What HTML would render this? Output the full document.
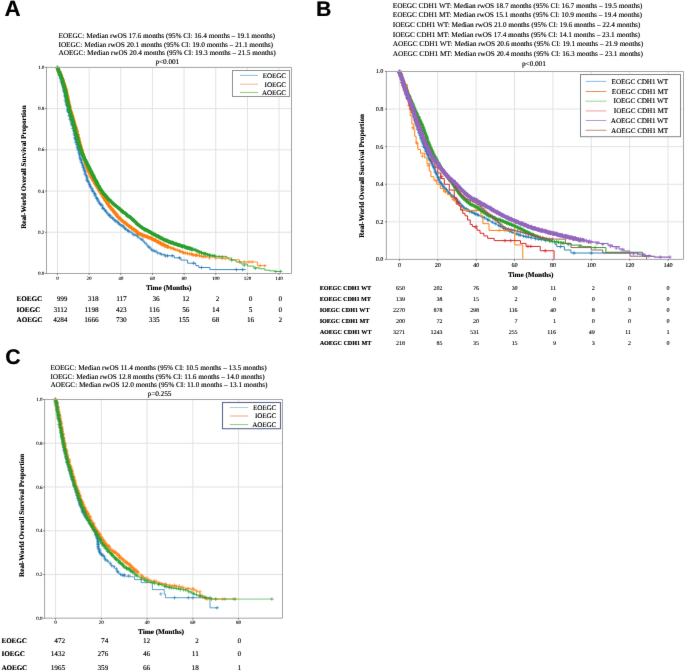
<!DOCTYPE html>
<html><head><meta charset="utf-8"><title>KM curves</title>
<style>html,body{margin:0;padding:0;background:#fff;} body{width:685px;height:671px;overflow:hidden;position:relative;font-family:"Liberation Serif",serif;} svg{text-rendering:geometricPrecision;}</style>
</head><body>
<svg width="685" height="671" viewBox="0 0 685 671" style="position:absolute;left:0;top:0">
<defs><filter id="soft" filterUnits="userSpaceOnUse" x="0" y="0" width="685" height="671" color-interpolation-filters="sRGB"><feConvolveMatrix order="3" kernelMatrix="0.0036 0.0528 0.0036 0.0528 0.7744 0.0528 0.0036 0.0528 0.0036" divisor="1" edgeMode="duplicate" preserveAlpha="true"/></filter></defs>
<g filter="url(#soft)">
<rect width="685" height="671" fill="#fff"/>
<text x="4.50" y="15.70" font-size="22.2" text-anchor="start" font-weight="bold" fill="#000" font-family='"Liberation Sans", sans-serif' >A</text>
<text x="4.70" y="15.70" font-size="22.2" text-anchor="start" font-weight="bold" fill="#000" opacity="0.55" font-family='"Liberation Sans", sans-serif' >A</text>
<text x="316.00" y="15.70" font-size="21.2" text-anchor="start" font-weight="bold" fill="#000" font-family='"Liberation Sans", sans-serif' >B</text>
<text x="316.20" y="15.70" font-size="21.2" text-anchor="start" font-weight="bold" fill="#000" opacity="0.55" font-family='"Liberation Sans", sans-serif' >B</text>
<text x="5.30" y="363.60" font-size="21.2" text-anchor="start" font-weight="bold" fill="#000" font-family='"Liberation Sans", sans-serif' >C</text>
<text x="5.50" y="363.60" font-size="21.2" text-anchor="start" font-weight="bold" fill="#000" opacity="0.55" font-family='"Liberation Sans", sans-serif' >C</text>
<line x1="57.45" y1="67.40" x2="57.45" y2="273.50" stroke="#e2e2e2" stroke-width="1"/>
<line x1="89.11" y1="67.40" x2="89.11" y2="273.50" stroke="#e2e2e2" stroke-width="1"/>
<line x1="120.77" y1="67.40" x2="120.77" y2="273.50" stroke="#e2e2e2" stroke-width="1"/>
<line x1="152.43" y1="67.40" x2="152.43" y2="273.50" stroke="#e2e2e2" stroke-width="1"/>
<line x1="184.09" y1="67.40" x2="184.09" y2="273.50" stroke="#e2e2e2" stroke-width="1"/>
<line x1="215.75" y1="67.40" x2="215.75" y2="273.50" stroke="#e2e2e2" stroke-width="1"/>
<line x1="247.41" y1="67.40" x2="247.41" y2="273.50" stroke="#e2e2e2" stroke-width="1"/>
<line x1="279.07" y1="67.40" x2="279.07" y2="273.50" stroke="#e2e2e2" stroke-width="1"/>
<line x1="46.50" y1="232.28" x2="291.50" y2="232.28" stroke="#e2e2e2" stroke-width="1"/>
<line x1="46.50" y1="191.06" x2="291.50" y2="191.06" stroke="#e2e2e2" stroke-width="1"/>
<line x1="46.50" y1="149.84" x2="291.50" y2="149.84" stroke="#e2e2e2" stroke-width="1"/>
<line x1="46.50" y1="108.62" x2="291.50" y2="108.62" stroke="#e2e2e2" stroke-width="1"/>
<text x="58.50" y="38.10" font-size="7.2" text-anchor="start" fill="#000" font-family='"Liberation Serif", serif' >EOEGC: Median rwOS 17.6 months (95% CI: 16.4 months – 19.1 months)</text>
<text x="58.70" y="38.10" font-size="7.2" text-anchor="start" fill="#000" opacity="0.55" font-family='"Liberation Serif", serif' >EOEGC: Median rwOS 17.6 months (95% CI: 16.4 months – 19.1 months)</text>
<text x="58.50" y="46.60" font-size="7.2" text-anchor="start" fill="#000" font-family='"Liberation Serif", serif' >IOEGC: Median rwOS 20.1 months (95% CI: 19.0 months – 21.1 months)</text>
<text x="58.70" y="46.60" font-size="7.2" text-anchor="start" fill="#000" opacity="0.55" font-family='"Liberation Serif", serif' >IOEGC: Median rwOS 20.1 months (95% CI: 19.0 months – 21.1 months)</text>
<text x="58.50" y="55.10" font-size="7.2" text-anchor="start" fill="#000" font-family='"Liberation Serif", serif' >AOEGC: Median rwOS 20.4 months (95% CI: 19.3 months – 21.5 months)</text>
<text x="58.70" y="55.10" font-size="7.2" text-anchor="start" fill="#000" opacity="0.55" font-family='"Liberation Serif", serif' >AOEGC: Median rwOS 20.4 months (95% CI: 19.3 months – 21.5 months)</text>
<text x="167.30" y="63.50" font-size="7.2" text-anchor="middle" fill="#000" font-family='"Liberation Serif", serif' >p&lt;0.001</text>
<text x="167.50" y="63.50" font-size="7.2" text-anchor="middle" fill="#000" opacity="0.55" font-family='"Liberation Serif", serif' >p&lt;0.001</text>
<path d="M57.5,67.4L57.9,68.9L58.3,70.3L58.8,71.7L59.2,73.1L59.6,74.5L60.1,75.9L60.5,77.3L60.9,78.8L61.4,80.3L61.8,81.9L62.2,83.5L62.7,85.1L63.1,86.8L63.5,88.7L63.9,90.6L64.4,92.6L64.8,94.7L65.2,96.8L65.6,98.9L66.1,101.0L66.5,103.0L66.9,105.0L67.3,106.9L67.7,108.6L68.2,110.3L68.6,111.9L69.0,113.4L69.4,114.9L69.9,116.4L70.3,117.8L70.7,119.2L71.1,120.7L71.5,122.1L72.0,123.6L72.4,125.2L72.8,126.8L73.3,128.6L73.7,130.5L74.2,132.4L74.7,134.4L75.1,136.3L75.6,138.4L76.0,140.4L76.5,142.3L77.0,144.3L77.4,146.2L77.9,148.1L78.3,149.8L78.8,151.7L79.3,153.6L79.8,155.4L80.4,157.2L80.9,158.9L81.4,160.7L81.9,162.4L82.4,164.1L82.9,165.7L83.4,167.3L83.9,168.9L84.4,170.4L84.8,171.7L85.2,172.9L85.5,174.1L85.9,175.2L86.3,176.4L86.7,177.5L87.1,178.6L87.5,179.7L87.9,180.8L88.3,181.8L88.7,182.7L89.1,183.6L89.4,184.4L89.8,185.0L90.1,185.7L90.4,186.3L90.8,186.9L91.1,187.5L91.4,188.1L91.7,188.7L92.1,189.3L92.4,189.9L92.7,190.5L93.1,191.1L93.5,191.9L94.0,192.8L94.5,193.7L94.9,194.6L95.4,195.5L95.8,196.4L96.3,197.3L96.8,198.2L97.2,199.0L97.7,199.8L98.1,200.6L98.6,201.4L99.4,202.6L100.2,203.8L101.0,205.0L101.8,206.2L102.6,207.3L103.4,208.4L104.1,209.4L104.9,210.5L105.7,211.4L106.5,212.4L107.3,213.3L108.1,214.1L109.2,215.2L110.2,216.2L111.3,217.2L112.3,218.2L113.4,219.0L114.4,219.9L115.5,220.8L116.5,221.6L117.6,222.4L118.7,223.2L119.7,224.0L120.8,224.9L121.6,225.5L122.4,226.2L123.3,226.8L124.1,227.4L124.9,228.1L125.8,228.7L126.6,229.3L127.4,229.9L128.2,230.5L129.1,231.1L129.9,231.7L130.7,232.3L131.5,232.8L132.3,233.3L133.1,233.8L133.9,234.2L134.6,234.7L135.4,235.2L136.2,235.6L137.0,236.1L137.7,236.6L138.5,237.1L139.3,237.7L140.1,238.3L140.6,238.7L141.1,239.1L141.6,239.5L142.1,240.0L142.6,240.5L143.1,241.0L143.6,241.5L144.1,242.0L144.6,242.5L145.1,243.0L145.6,243.5L146.1,244.0L146.6,244.6L147.2,245.1L147.7,245.7L148.2,246.3L148.7,246.8L149.3,247.4L149.8,248.0L150.3,248.5L150.8,249.0L151.4,249.5L151.9,249.9L152.4,250.2L153.0,250.5L153.5,250.8L154.0,251.0L154.5,251.3L155.1,251.5L155.6,251.7L156.1,251.9L156.7,252.1L157.2,252.3L157.7,252.5L158.2,252.7L158.8,252.9L159.4,253.1L160.0,253.4L160.6,253.6L161.2,253.9L161.8,254.1L162.4,254.3L163.0,254.6L163.6,254.8L164.2,255.1L164.8,255.3L165.4,255.5L166.0,255.8" stroke="#1f77b4" stroke-width="0.9" fill="none" opacity="0.75"/>
<path d="M55.7,67.5h3.4M57.4,65.8v3.4M56.6,68.5h3.4M58.3,66.8v3.4M56.5,69.8h3.4M58.2,68.1v3.4M56.4,70.9h3.4M58.1,69.2v3.4M57.3,72.3h3.4M59.0,70.6v3.4M57.0,72.9h3.4M58.7,71.2v3.4M57.4,74.7h3.4M59.1,73.0v3.4M58.4,74.9h3.4M60.1,73.2v3.4M59.1,77.1h3.4M60.8,75.4v3.4M59.1,77.9h3.4M60.8,76.2v3.4M58.8,78.3h3.4M60.5,76.6v3.4M59.6,79.5h3.4M61.3,77.8v3.4M59.5,80.9h3.4M61.2,79.2v3.4M59.7,82.3h3.4M61.4,80.6v3.4M60.5,83.9h3.4M62.2,82.2v3.4M60.9,84.8h3.4M62.6,83.1v3.4M61.1,86.0h3.4M62.8,84.3v3.4M61.4,86.7h3.4M63.1,85.0v3.4M62.3,88.8h3.4M64.0,87.1v3.4M62.4,89.6h3.4M64.1,87.9v3.4M62.0,90.2h3.4M63.7,88.5v3.4M62.2,91.2h3.4M63.9,89.5v3.4M63.0,92.7h3.4M64.7,91.0v3.4M63.4,93.9h3.4M65.1,92.2v3.4M63.7,95.6h3.4M65.4,93.9v3.4M62.8,96.0h3.4M64.5,94.3v3.4M64.2,97.5h3.4M65.9,95.8v3.4M64.5,98.6h3.4M66.2,96.9v3.4M63.6,100.1h3.4M65.3,98.4v3.4M64.7,100.8h3.4M66.4,99.1v3.4M64.1,102.1h3.4M65.8,100.4v3.4M65.4,103.7h3.4M67.1,102.0v3.4M64.7,104.3h3.4M66.4,102.6v3.4M64.9,105.3h3.4M66.6,103.6v3.4M66.0,106.6h3.4M67.7,104.9v3.4M66.0,108.1h3.4M67.7,106.4v3.4M65.8,109.6h3.4M67.5,107.9v3.4M66.1,110.6h3.4M67.8,108.9v3.4M66.4,111.5h3.4M68.1,109.8v3.4M66.8,112.5h3.4M68.5,110.8v3.4M68.0,114.3h3.4M69.7,112.6v3.4M67.5,115.5h3.4M69.2,113.8v3.4M67.8,116.1h3.4M69.5,114.4v3.4M68.9,117.5h3.4M70.6,115.8v3.4M68.3,119.1h3.4M70.0,117.4v3.4M68.8,119.4h3.4M70.5,117.7v3.4M69.8,120.6h3.4M71.5,118.9v3.4M69.5,121.5h3.4M71.2,119.8v3.4M69.6,123.2h3.4M71.3,121.5v3.4M70.1,124.4h3.4M71.8,122.7v3.4M70.6,125.4h3.4M72.3,123.7v3.4M71.6,126.6h3.4M73.3,124.9v3.4M71.5,128.2h3.4M73.2,126.5v3.4M71.3,128.5h3.4M73.0,126.8v3.4M72.4,130.5h3.4M74.1,128.8v3.4M71.9,130.9h3.4M73.6,129.2v3.4M72.8,133.0h3.4M74.5,131.3v3.4M72.4,134.1h3.4M74.1,132.4v3.4M73.5,134.9h3.4M75.2,133.2v3.4M73.2,135.5h3.4M74.9,133.8v3.4M73.0,137.7h3.4M74.7,136.0v3.4M73.5,138.5h3.4M75.2,136.8v3.4M73.8,139.8h3.4M75.5,138.1v3.4M74.5,140.4h3.4M76.2,138.7v3.4M74.3,142.1h3.4M76.0,140.4v3.4M74.4,142.6h3.4M76.1,140.9v3.4M75.3,144.5h3.4M77.0,142.8v3.4M75.6,145.0h3.4M77.3,143.3v3.4M76.3,146.1h3.4M78.0,144.4v3.4M75.5,147.3h3.4M77.2,145.6v3.4M76.3,148.3h3.4M78.0,146.6v3.4M76.3,149.8h3.4M78.0,148.1v3.4M77.1,150.7h3.4M78.8,149.0v3.4M77.1,152.7h3.4M78.8,151.0v3.4M78.2,153.6h3.4M79.9,151.9v3.4M78.2,154.7h3.4M79.9,153.0v3.4M77.8,155.2h3.4M79.5,153.5v3.4M78.0,157.4h3.4M79.7,155.7v3.4M79.1,158.6h3.4M80.8,156.9v3.4M78.7,159.4h3.4M80.4,157.7v3.4M79.5,160.6h3.4M81.2,158.9v3.4M79.7,162.1h3.4M81.4,160.4v3.4M79.7,162.7h3.4M81.4,161.0v3.4M80.9,164.3h3.4M82.6,162.6v3.4M81.2,165.2h3.4M82.9,163.5v3.4M81.6,166.6h3.4M83.3,164.9v3.4M81.5,167.5h3.4M83.2,165.8v3.4M82.5,168.8h3.4M84.2,167.1v3.4M82.3,169.9h3.4M84.0,168.2v3.4M83.2,170.8h3.4M84.9,169.1v3.4M83.3,171.7h3.4M85.0,170.0v3.4M83.6,173.1h3.4M85.3,171.4v3.4M83.4,174.3h3.4M85.1,172.6v3.4M84.8,175.7h3.4M86.5,174.0v3.4M84.9,176.2h3.4M86.6,174.5v3.4M85.3,177.6h3.4M87.0,175.9v3.4M85.4,179.0h3.4M87.1,177.3v3.4M85.3,180.1h3.4M87.0,178.4v3.4M85.7,181.0h3.4M87.4,179.3v3.4M86.7,181.7h3.4M88.4,180.0v3.4M87.4,183.1h3.4M89.1,181.4v3.4M87.8,184.7h3.4M89.5,183.0v3.4M87.9,184.7h3.4M89.6,183.0v3.4M88.5,186.6h3.4M90.2,184.9v3.4M89.0,187.0h3.4M90.7,185.3v3.4M90.4,188.6h3.4M92.1,186.9v3.4M90.4,190.0h3.4M92.1,188.3v3.4M90.9,190.7h3.4M92.6,189.0v3.4M91.3,191.5h3.4M93.0,189.8v3.4M92.6,193.2h3.4M94.3,191.5v3.4M93.2,193.6h3.4M94.9,191.9v3.4M93.4,194.6h3.4M95.1,192.9v3.4M93.4,195.9h3.4M95.1,194.2v3.4M94.8,197.3h3.4M96.5,195.6v3.4M95.2,198.5h3.4M96.9,196.8v3.4M95.3,198.6h3.4M97.0,196.9v3.4M96.1,199.8h3.4M97.8,198.1v3.4M96.4,201.0h3.4M98.1,199.3v3.4M97.5,202.1h3.4M99.2,200.4v3.4M97.8,203.5h3.4M99.5,201.8v3.4M99.3,204.1h3.4M101.0,202.4v3.4M98.9,204.6h3.4M100.6,202.9v3.4M100.5,205.6h3.4M102.2,203.9v3.4M101.0,207.2h3.4M102.7,205.5v3.4M101.2,208.4h3.4M102.9,206.7v3.4M101.6,208.6h3.4M103.3,206.9v3.4M102.8,209.4h3.4M104.5,207.7v3.4M104.0,210.6h3.4M105.7,208.9v3.4M103.9,211.3h3.4M105.6,209.6v3.4M105.3,212.7h3.4M107.0,211.0v3.4M106.1,213.9h3.4M107.8,212.2v3.4M107.2,215.1h3.4M108.9,213.4v3.4M107.9,215.0h3.4M109.6,213.3v3.4M108.5,215.8h3.4M110.2,214.1v3.4M108.8,217.0h3.4M110.5,215.3v3.4M110.5,217.5h3.4M112.2,215.8v3.4M110.9,218.4h3.4M112.6,216.7v3.4M112.3,219.4h3.4M114.0,217.7v3.4M113.2,220.5h3.4M114.9,218.8v3.4M113.8,221.2h3.4M115.5,219.5v3.4M115.4,221.1h3.4M117.1,219.4v3.4M116.4,222.6h3.4M118.1,220.9v3.4M116.4,223.0h3.4M118.1,221.3v3.4M117.9,224.3h3.4M119.6,222.6v3.4M118.6,224.7h3.4M120.3,223.0v3.4M120.1,225.7h3.4M121.8,224.0v3.4M121.1,226.0h3.4M122.8,224.3v3.4M121.7,226.4h3.4M123.4,224.7v3.4M122.8,227.9h3.4M124.5,226.2v3.4M123.6,228.5h3.4M125.3,226.8v3.4M124.1,229.4h3.4M125.8,227.7v3.4M126.0,230.3h3.4M127.7,228.6v3.4M126.4,230.7h3.4M128.1,229.0v3.4M127.1,231.6h3.4M128.8,229.9v3.4M129.4,232.1h3.4M131.1,230.4v3.4M131.2,234.0h3.4M132.9,232.3v3.4M132.3,235.0h3.4M134.0,233.3v3.4M134.2,234.8h3.4M135.9,233.1v3.4M135.6,235.7h3.4M137.3,234.0v3.4M136.4,237.1h3.4M138.1,235.4v3.4M138.7,238.9h3.4M140.4,237.2v3.4M140.5,239.2h3.4M142.2,237.5v3.4M141.1,240.4h3.4M142.8,238.7v3.4M142.9,242.4h3.4M144.6,240.7v3.4M144.7,244.1h3.4M146.4,242.4v3.4M146.3,246.1h3.4M148.0,244.4v3.4M147.3,247.2h3.4M149.0,245.5v3.4M148.3,247.8h3.4M150.0,246.1v3.4M149.8,249.7h3.4M151.5,248.0v3.4M151.2,250.2h3.4M152.9,248.5v3.4M152.6,251.1h3.4M154.3,249.4v3.4M154.3,251.2h3.4M156.0,249.5v3.4M155.9,253.0h3.4M157.6,251.3v3.4M158.4,253.5h3.4M160.1,251.8v3.4M159.7,254.4h3.4M161.4,252.7v3.4M162.4,254.8h3.4M164.1,253.1v3.4M163.8,256.0h3.4M165.5,254.3v3.4" stroke="#1f77b4" stroke-width="0.75" fill="none" opacity="0.75"/>
<path d="M166.04,255.78 H174.28 V257.84 H180.92 V260.10 H187.57 V263.19 H195.80 V265.67 H198.81 V267.52 H209.89 V269.58 H245.83 V269.58" stroke="#1f77b4" stroke-width="1.0" fill="none" opacity="0.85"/>
<path d="M165.67,255.78h3.60M167.47,253.98v3.60M170.42,255.78h3.60M172.22,253.98v3.60M177.54,257.84h3.60M179.34,256.04v3.60M191.79,263.19h3.60M193.59,261.39v3.60M199.70,267.52h3.60M201.50,265.72v3.60M234.53,269.58h3.60M236.33,267.78v3.60M240.86,269.58h3.60M242.66,267.78v3.60" stroke="#1f77b4" stroke-width="0.8" fill="none" opacity="0.85"/>
<path d="M57.5,67.4L58.0,68.8L58.6,70.2L59.2,71.6L59.8,72.9L60.4,74.3L61.0,75.6L61.6,77.0L62.2,78.5L62.8,80.0L63.4,81.6L64.0,83.3L64.6,85.1L65.0,86.7L65.5,88.4L65.9,90.3L66.4,92.3L66.8,94.3L67.3,96.5L67.7,98.6L68.2,100.8L68.6,102.9L69.1,104.9L69.5,106.8L70.0,108.6L70.4,110.3L70.9,111.9L71.3,113.4L71.7,114.9L72.2,116.4L72.6,117.9L73.1,119.3L73.5,120.7L74.0,122.2L74.4,123.7L74.9,125.2L75.3,126.8L75.9,128.6L76.4,130.5L76.9,132.5L77.4,134.5L77.9,136.5L78.4,138.5L78.9,140.5L79.5,142.4L80.0,144.4L80.5,146.3L81.0,148.1L81.5,149.8L82.1,151.9L82.8,154.0L83.4,156.1L84.0,158.1L84.7,160.1L85.3,162.1L85.9,164.0L86.6,165.8L87.2,167.6L87.8,169.3L88.5,170.8L89.1,172.3L90.0,174.2L90.9,176.1L91.8,177.8L92.7,179.4L93.6,181.0L94.5,182.5L95.4,183.9L96.3,185.3L97.2,186.8L98.1,188.2L99.0,189.6L99.9,191.1L100.6,192.2L101.2,193.3L101.9,194.5L102.6,195.6L103.3,196.7L104.0,197.8L104.7,198.9L105.4,200.0L106.0,201.0L106.7,202.1L107.4,203.1L108.1,204.0L109.2,205.5L110.2,206.9L111.3,208.4L112.3,209.8L113.4,211.1L114.4,212.5L115.5,213.8L116.5,215.0L117.6,216.2L118.7,217.4L119.7,218.5L120.8,219.5L121.9,220.5L123.0,221.5L124.1,222.4L125.2,223.2L126.3,224.1L127.4,224.9L128.5,225.6L129.6,226.4L130.7,227.2L131.9,228.0L133.0,228.8L134.1,229.6L134.6,230.0L135.1,230.4L135.6,230.8L136.1,231.2L136.6,231.6L137.1,232.0L137.6,232.4L138.1,232.8L138.6,233.2L139.1,233.5L139.6,233.9L140.1,234.1L141.1,234.7L142.1,235.1L143.2,235.5L144.2,235.9L145.2,236.3L146.3,236.6L147.3,237.0L148.3,237.3L149.3,237.7L150.4,238.0L151.4,238.4L152.4,238.9L153.6,239.4L154.7,240.0L155.8,240.6L157.0,241.2L158.1,241.9L159.2,242.5L160.4,243.2L161.5,243.8L162.6,244.4L163.8,245.0L164.9,245.6L166.0,246.1L166.9,246.4L167.7,246.8L168.6,247.1L169.4,247.4L170.3,247.7L171.1,248.0L172.0,248.3L172.8,248.6L173.6,248.9L174.5,249.2L175.3,249.5L176.2,249.8L176.8,250.1L177.5,250.3L178.2,250.6L178.8,250.9L179.5,251.2L180.1,251.5L180.8,251.7L181.5,252.0L182.1,252.3L182.8,252.5L183.4,252.7L184.1,252.9L185.0,253.1L185.9,253.3L186.9,253.5L187.8,253.7L188.7,253.9L189.6,254.0L190.6,254.2L191.5,254.3L192.4,254.5L193.3,254.6L194.2,254.8L195.2,255.0L196.0,255.1L196.9,255.3L197.7,255.5L198.5,255.6L199.4,255.8L200.2,256.0L201.1,256.1L201.9,256.3L202.8,256.5L203.6,256.7L204.5,256.8L205.3,257.0" stroke="#ff7f0e" stroke-width="1.0" fill="none" opacity="0.95"/>
<path d="M55.6,67.5h3.6M57.4,65.7v3.6M56.0,67.5h3.6M57.8,65.7v3.6M55.6,68.1h3.6M57.4,66.3v3.6M56.0,68.9h3.6M57.8,67.1v3.6M56.5,69.1h3.6M58.3,67.3v3.6M56.6,69.6h3.6M58.4,67.8v3.6M56.4,69.8h3.6M58.2,68.0v3.6M56.6,70.6h3.6M58.4,68.8v3.6M56.7,71.0h3.6M58.5,69.2v3.6M56.9,71.3h3.6M58.7,69.5v3.6M57.3,71.5h3.6M59.1,69.7v3.6M57.9,71.6h3.6M59.7,69.8v3.6M57.4,72.7h3.6M59.2,70.9v3.6M58.0,72.4h3.6M59.8,70.6v3.6M58.5,73.5h3.6M60.3,71.7v3.6M58.0,73.5h3.6M59.8,71.7v3.6M58.2,73.9h3.6M60.0,72.1v3.6M58.8,74.2h3.6M60.6,72.4v3.6M59.0,74.5h3.6M60.8,72.7v3.6M58.8,75.5h3.6M60.6,73.7v3.6M59.1,75.6h3.6M60.9,73.8v3.6M59.5,76.1h3.6M61.3,74.3v3.6M59.5,76.1h3.6M61.3,74.3v3.6M59.9,77.3h3.6M61.7,75.5v3.6M60.3,77.4h3.6M62.1,75.6v3.6M60.0,77.6h3.6M61.8,75.8v3.6M60.4,78.3h3.6M62.2,76.5v3.6M60.1,78.4h3.6M61.9,76.6v3.6M60.5,79.0h3.6M62.3,77.2v3.6M61.0,79.4h3.6M62.8,77.6v3.6M60.6,80.1h3.6M62.4,78.3v3.6M61.0,80.3h3.6M62.8,78.5v3.6M61.0,80.6h3.6M62.8,78.8v3.6M61.3,81.3h3.6M63.1,79.5v3.6M61.2,81.5h3.6M63.0,79.7v3.6M61.5,82.1h3.6M63.3,80.3v3.6M61.5,82.2h3.6M63.3,80.4v3.6M61.9,82.9h3.6M63.7,81.1v3.6M61.8,83.2h3.6M63.6,81.4v3.6M62.1,83.5h3.6M63.9,81.7v3.6M62.4,84.4h3.6M64.2,82.6v3.6M62.6,84.9h3.6M64.4,83.1v3.6M62.4,85.3h3.6M64.2,83.5v3.6M62.7,85.1h3.6M64.5,83.3v3.6M63.2,86.1h3.6M65.0,84.3v3.6M62.7,86.0h3.6M64.5,84.2v3.6M63.4,86.5h3.6M65.2,84.7v3.6M63.1,86.7h3.6M64.9,84.9v3.6M63.1,87.6h3.6M64.9,85.8v3.6M63.9,88.4h3.6M65.7,86.6v3.6M63.7,88.0h3.6M65.5,86.2v3.6M63.6,89.1h3.6M65.4,87.3v3.6M64.1,89.4h3.6M65.9,87.6v3.6M63.8,89.7h3.6M65.6,87.9v3.6M64.1,90.2h3.6M65.9,88.4v3.6M64.0,90.9h3.6M65.8,89.1v3.6M64.6,90.7h3.6M66.4,88.9v3.6M64.2,91.8h3.6M66.0,90.0v3.6M64.3,92.3h3.6M66.1,90.5v3.6M64.6,92.5h3.6M66.4,90.7v3.6M64.8,92.5h3.6M66.6,90.7v3.6M64.6,93.0h3.6M66.4,91.2v3.6M65.0,93.8h3.6M66.8,92.0v3.6M64.7,94.4h3.6M66.5,92.6v3.6M65.0,94.3h3.6M66.8,92.5v3.6M65.1,95.4h3.6M66.9,93.6v3.6M65.3,95.5h3.6M67.1,93.7v3.6M65.7,96.2h3.6M67.5,94.4v3.6M65.6,96.2h3.6M67.4,94.4v3.6M65.6,97.1h3.6M67.4,95.3v3.6M65.8,97.2h3.6M67.6,95.4v3.6M65.6,97.5h3.6M67.4,95.7v3.6M66.0,98.1h3.6M67.8,96.3v3.6M65.5,98.7h3.6M67.3,96.9v3.6M66.3,99.2h3.6M68.1,97.4v3.6M66.4,99.7h3.6M68.2,97.9v3.6M66.2,100.1h3.6M68.0,98.3v3.6M66.2,99.9h3.6M68.0,98.1v3.6M66.2,100.6h3.6M68.0,98.8v3.6M66.8,101.3h3.6M68.6,99.5v3.6M66.6,101.7h3.6M68.4,99.9v3.6M66.3,102.0h3.6M68.1,100.2v3.6M66.9,102.4h3.6M68.7,100.6v3.6M66.6,102.8h3.6M68.4,101.0v3.6M66.8,103.5h3.6M68.6,101.7v3.6M66.7,103.5h3.6M68.5,101.7v3.6M67.0,104.4h3.6M68.8,102.6v3.6M67.4,104.8h3.6M69.2,103.0v3.6M67.7,105.0h3.6M69.5,103.2v3.6M67.0,105.5h3.6M68.8,103.7v3.6M67.5,105.7h3.6M69.3,103.9v3.6M67.7,106.3h3.6M69.5,104.5v3.6M67.5,106.7h3.6M69.3,104.9v3.6M68.2,106.9h3.6M70.0,105.1v3.6M67.8,107.5h3.6M69.6,105.7v3.6M67.8,108.1h3.6M69.6,106.3v3.6M67.9,108.9h3.6M69.7,107.1v3.6M68.3,109.2h3.6M70.1,107.4v3.6M68.1,109.4h3.6M69.9,107.6v3.6M68.6,110.2h3.6M70.4,108.4v3.6M68.4,110.3h3.6M70.2,108.5v3.6M69.0,111.0h3.6M70.8,109.2v3.6M68.6,111.2h3.6M70.4,109.4v3.6M69.2,111.6h3.6M71.0,109.8v3.6M69.2,112.2h3.6M71.0,110.4v3.6M69.6,112.5h3.6M71.4,110.7v3.6M69.5,112.8h3.6M71.3,111.0v3.6M69.7,113.2h3.6M71.5,111.4v3.6M69.6,113.7h3.6M71.4,111.9v3.6M69.6,113.9h3.6M71.4,112.1v3.6M69.6,114.7h3.6M71.4,112.9v3.6M69.8,114.7h3.6M71.6,112.9v3.6M70.4,115.3h3.6M72.2,113.5v3.6M70.6,116.0h3.6M72.4,114.2v3.6M70.3,116.7h3.6M72.1,114.9v3.6M70.8,116.7h3.6M72.6,114.9v3.6M70.4,117.4h3.6M72.2,115.6v3.6M71.1,117.8h3.6M72.9,116.0v3.6M71.1,118.0h3.6M72.9,116.2v3.6M71.1,118.3h3.6M72.9,116.5v3.6M71.1,118.9h3.6M72.9,117.1v3.6M71.2,119.3h3.6M73.0,117.5v3.6M71.7,119.6h3.6M73.5,117.8v3.6M71.4,120.1h3.6M73.2,118.3v3.6M72.1,120.7h3.6M73.9,118.9v3.6M71.5,121.4h3.6M73.3,119.6v3.6M72.3,121.8h3.6M74.1,120.0v3.6M72.0,122.2h3.6M73.8,120.4v3.6M72.1,122.1h3.6M73.9,120.3v3.6M72.7,123.1h3.6M74.5,121.3v3.6M72.3,123.6h3.6M74.1,121.8v3.6M72.3,123.5h3.6M74.1,121.7v3.6M72.4,123.9h3.6M74.2,122.1v3.6M72.6,124.7h3.6M74.4,122.9v3.6M72.9,124.7h3.6M74.7,122.9v3.6M72.9,125.3h3.6M74.7,123.5v3.6M73.6,125.9h3.6M75.4,124.1v3.6M73.1,126.4h3.6M74.9,124.6v3.6M73.6,126.7h3.6M75.4,124.9v3.6M73.7,127.3h3.6M75.5,125.5v3.6M74.0,127.6h3.6M75.8,125.8v3.6M74.0,128.0h3.6M75.8,126.2v3.6M74.1,128.4h3.6M75.9,126.6v3.6M74.1,128.9h3.6M75.9,127.1v3.6M74.4,129.1h3.6M76.2,127.3v3.6M74.7,129.7h3.6M76.5,127.9v3.6M74.8,130.3h3.6M76.6,128.5v3.6M75.0,130.8h3.6M76.8,129.0v3.6M74.6,131.0h3.6M76.4,129.2v3.6M74.9,131.7h3.6M76.7,129.9v3.6M75.2,131.6h3.6M77.0,129.8v3.6M74.7,132.0h3.6M76.5,130.2v3.6M74.8,132.4h3.6M76.6,130.6v3.6M74.9,133.0h3.6M76.7,131.2v3.6M75.1,133.8h3.6M76.9,132.0v3.6M75.6,134.5h3.6M77.4,132.7v3.6M76.0,134.7h3.6M77.8,132.9v3.6M76.1,134.6h3.6M77.9,132.8v3.6M75.6,135.8h3.6M77.4,134.0v3.6M75.9,135.6h3.6M77.7,133.8v3.6M76.3,136.2h3.6M78.1,134.4v3.6M76.2,136.6h3.6M78.0,134.8v3.6M76.1,136.8h3.6M77.9,135.0v3.6M76.5,138.0h3.6M78.3,136.2v3.6M76.9,138.2h3.6M78.7,136.4v3.6M77.0,138.4h3.6M78.8,136.6v3.6M76.6,139.2h3.6M78.4,137.4v3.6M76.9,139.5h3.6M78.7,137.7v3.6M76.6,139.6h3.6M78.4,137.8v3.6M77.1,140.4h3.6M78.9,138.6v3.6M77.4,140.8h3.6M79.2,139.0v3.6M77.2,141.0h3.6M79.0,139.2v3.6M77.7,141.9h3.6M79.5,140.1v3.6M77.5,141.7h3.6M79.3,139.9v3.6M77.7,142.4h3.6M79.5,140.6v3.6M77.6,142.6h3.6M79.4,140.8v3.6M77.8,143.3h3.6M79.6,141.5v3.6M77.7,143.7h3.6M79.5,141.9v3.6M78.5,144.3h3.6M80.3,142.5v3.6M78.0,144.5h3.6M79.8,142.7v3.6M78.0,145.2h3.6M79.8,143.4v3.6M78.6,145.2h3.6M80.4,143.4v3.6M78.6,145.9h3.6M80.4,144.1v3.6M78.8,146.2h3.6M80.6,144.4v3.6M78.7,146.6h3.6M80.5,144.8v3.6M79.3,147.0h3.6M81.1,145.2v3.6M79.1,147.6h3.6M80.9,145.8v3.6M78.9,147.9h3.6M80.7,146.1v3.6M79.1,148.3h3.6M80.9,146.5v3.6M79.3,148.8h3.6M81.1,147.0v3.6M79.9,149.2h3.6M81.7,147.4v3.6M79.6,149.9h3.6M81.4,148.1v3.6M79.7,150.2h3.6M81.5,148.4v3.6M80.1,150.3h3.6M81.9,148.5v3.6M80.2,150.7h3.6M82.0,148.9v3.6M80.0,151.7h3.6M81.8,149.9v3.6M80.7,152.0h3.6M82.5,150.2v3.6M80.2,152.3h3.6M82.0,150.5v3.6M80.4,153.0h3.6M82.2,151.2v3.6M80.5,153.0h3.6M82.3,151.2v3.6M81.0,153.7h3.6M82.8,151.9v3.6M81.1,154.0h3.6M82.9,152.2v3.6M81.5,154.5h3.6M83.3,152.7v3.6M81.6,154.8h3.6M83.4,153.0v3.6M81.4,155.2h3.6M83.2,153.4v3.6M81.7,156.0h3.6M83.5,154.2v3.6M81.4,156.2h3.6M83.2,154.4v3.6M82.0,156.6h3.6M83.8,154.8v3.6M82.0,157.2h3.6M83.8,155.4v3.6M82.2,157.4h3.6M84.0,155.6v3.6M82.0,157.6h3.6M83.8,155.8v3.6M82.6,158.6h3.6M84.4,156.8v3.6M82.4,159.2h3.6M84.2,157.4v3.6M82.9,158.9h3.6M84.7,157.1v3.6M83.0,159.6h3.6M84.8,157.8v3.6M82.7,159.9h3.6M84.5,158.1v3.6M82.9,160.1h3.6M84.7,158.3v3.6M82.8,160.6h3.6M84.6,158.8v3.6M83.1,161.1h3.6M84.9,159.3v3.6M83.1,162.1h3.6M84.9,160.3v3.6M83.5,162.2h3.6M85.3,160.4v3.6M83.8,163.0h3.6M85.6,161.2v3.6M83.5,162.9h3.6M85.3,161.1v3.6M84.3,163.8h3.6M86.1,162.0v3.6M84.5,163.9h3.6M86.3,162.1v3.6M84.2,164.1h3.6M86.0,162.3v3.6M84.7,165.0h3.6M86.5,163.2v3.6M84.6,165.4h3.6M86.4,163.6v3.6M84.5,165.7h3.6M86.3,163.9v3.6M85.2,165.7h3.6M87.0,163.9v3.6M85.1,166.2h3.6M86.9,164.4v3.6M85.4,167.2h3.6M87.2,165.4v3.6M85.4,167.3h3.6M87.2,165.5v3.6M85.1,167.7h3.6M86.9,165.9v3.6M85.5,168.1h3.6M87.3,166.3v3.6M85.4,168.9h3.6M87.2,167.1v3.6M86.0,169.1h3.6M87.8,167.3v3.6M86.4,169.7h3.6M88.2,167.9v3.6M86.3,169.9h3.6M88.1,168.1v3.6M86.7,170.2h3.6M88.5,168.4v3.6M86.9,170.3h3.6M88.7,168.5v3.6M87.0,171.1h3.6M88.8,169.3v3.6M87.1,171.9h3.6M88.9,170.1v3.6M86.9,171.8h3.6M88.7,170.0v3.6M87.6,172.5h3.6M89.4,170.7v3.6M87.5,173.0h3.6M89.3,171.2v3.6M87.8,173.4h3.6M89.6,171.6v3.6M88.0,173.4h3.6M89.8,171.6v3.6M87.9,173.6h3.6M89.7,171.8v3.6M88.0,174.0h3.6M89.8,172.2v3.6M88.9,174.5h3.6M90.7,172.7v3.6M88.8,174.9h3.6M90.6,173.1v3.6M89.2,175.6h3.6M91.0,173.8v3.6M88.8,176.2h3.6M90.6,174.4v3.6M89.6,176.8h3.6M91.4,175.0v3.6M89.3,176.7h3.6M91.1,174.9v3.6M89.8,177.0h3.6M91.6,175.2v3.6M90.0,177.7h3.6M91.8,175.9v3.6M90.3,178.2h3.6M92.1,176.4v3.6M90.5,178.2h3.6M92.3,176.4v3.6M90.8,178.7h3.6M92.6,176.9v3.6M90.5,178.8h3.6M92.3,177.0v3.6M91.1,179.4h3.6M92.9,177.6v3.6M90.9,179.9h3.6M92.7,178.1v3.6M91.4,180.2h3.6M93.2,178.4v3.6M91.7,180.8h3.6M93.5,179.0v3.6M91.9,181.5h3.6M93.7,179.7v3.6M92.4,181.3h3.6M94.2,179.5v3.6M92.6,181.7h3.6M94.4,179.9v3.6M92.9,181.9h3.6M94.7,180.1v3.6M92.7,183.0h3.6M94.5,181.2v3.6M93.2,183.2h3.6M95.0,181.4v3.6M93.1,183.1h3.6M94.9,181.3v3.6M93.9,183.5h3.6M95.7,181.7v3.6M93.5,184.1h3.6M95.3,182.3v3.6M94.3,184.7h3.6M96.1,182.9v3.6M94.6,185.2h3.6M96.4,183.4v3.6M94.4,185.7h3.6M96.2,183.9v3.6M94.6,185.3h3.6M96.4,183.5v3.6M95.3,186.4h3.6M97.1,184.6v3.6M95.3,186.5h3.6M97.1,184.7v3.6M95.2,186.6h3.6M97.0,184.8v3.6M95.3,186.9h3.6M97.1,185.1v3.6M95.9,187.9h3.6M97.7,186.1v3.6M96.5,188.0h3.6M98.3,186.2v3.6M96.5,188.3h3.6M98.3,186.5v3.6M96.9,188.9h3.6M98.7,187.1v3.6M97.3,189.4h3.6M99.1,187.6v3.6M97.3,189.6h3.6M99.1,187.8v3.6M97.1,189.9h3.6M98.9,188.1v3.6M97.6,190.0h3.6M99.4,188.2v3.6M97.6,190.6h3.6M99.4,188.8v3.6M97.8,191.1h3.6M99.6,189.3v3.6M98.2,191.8h3.6M100.0,190.0v3.6M98.7,191.8h3.6M100.5,190.0v3.6M98.7,192.1h3.6M100.5,190.3v3.6M98.8,193.0h3.6M100.6,191.2v3.6M99.6,193.1h3.6M101.4,191.3v3.6M99.6,193.1h3.6M101.4,191.3v3.6M99.7,193.5h3.6M101.5,191.7v3.6M99.8,194.2h3.6M101.6,192.4v3.6M99.9,194.3h3.6M101.7,192.5v3.6M100.6,194.9h3.6M102.4,193.1v3.6M100.9,195.0h3.6M102.7,193.2v3.6M100.5,196.0h3.6M102.3,194.2v3.6M101.2,196.2h3.6M103.0,194.4v3.6M101.4,196.2h3.6M103.2,194.4v3.6M102.0,196.8h3.6M103.8,195.0v3.6M102.1,196.9h3.6M103.9,195.1v3.6M101.9,197.6h3.6M103.7,195.8v3.6M102.1,198.3h3.6M103.9,196.5v3.6M102.3,198.0h3.6M104.1,196.2v3.6M102.5,198.5h3.6M104.3,196.7v3.6M103.4,199.4h3.6M105.2,197.6v3.6M103.4,199.4h3.6M105.2,197.6v3.6M103.1,200.1h3.6M104.9,198.3v3.6M103.4,200.0h3.6M105.2,198.2v3.6M103.9,200.9h3.6M105.7,199.1v3.6M104.0,200.6h3.6M105.8,198.8v3.6M104.8,201.0h3.6M106.6,199.2v3.6M104.9,201.5h3.6M106.7,199.7v3.6M104.8,201.9h3.6M106.6,200.1v3.6M105.2,202.8h3.6M107.0,201.0v3.6M105.7,202.9h3.6M107.5,201.1v3.6M105.4,203.0h3.6M107.2,201.2v3.6M105.8,203.8h3.6M107.6,202.0v3.6M106.6,203.6h3.6M108.4,201.8v3.6M106.4,204.7h3.6M108.2,202.9v3.6M106.5,204.4h3.6M108.3,202.6v3.6M106.9,205.4h3.6M108.7,203.6v3.6M107.1,205.6h3.6M108.9,203.8v3.6M107.3,205.9h3.6M109.1,204.1v3.6M107.6,206.2h3.6M109.4,204.4v3.6M108.3,206.8h3.6M110.1,205.0v3.6M108.3,207.3h3.6M110.1,205.5v3.6M108.6,207.6h3.6M110.4,205.8v3.6M109.2,208.0h3.6M111.0,206.2v3.6M108.9,207.8h3.6M110.7,206.0v3.6M109.6,208.6h3.6M111.4,206.8v3.6M109.5,208.9h3.6M111.3,207.1v3.6M110.0,208.7h3.6M111.8,206.9v3.6M109.9,209.0h3.6M111.7,207.2v3.6M110.3,210.1h3.6M112.1,208.3v3.6M110.9,210.4h3.6M112.7,208.6v3.6M111.4,210.4h3.6M113.2,208.6v3.6M111.5,211.0h3.6M113.3,209.2v3.6M111.8,210.9h3.6M113.6,209.1v3.6M112.2,211.3h3.6M114.0,209.5v3.6M112.1,212.1h3.6M113.9,210.3v3.6M112.6,212.5h3.6M114.4,210.7v3.6M112.6,212.4h3.6M114.4,210.6v3.6M113.2,212.6h3.6M115.0,210.8v3.6M113.6,213.2h3.6M115.4,211.4v3.6M113.5,213.5h3.6M115.3,211.7v3.6M114.0,213.7h3.6M115.8,211.9v3.6M113.9,214.0h3.6M115.7,212.2v3.6M114.2,214.8h3.6M116.0,213.0v3.6M115.1,214.6h3.6M116.9,212.8v3.6M115.0,215.3h3.6M116.8,213.5v3.6M115.2,215.6h3.6M117.0,213.8v3.6M115.3,216.0h3.6M117.1,214.2v3.6M115.7,216.0h3.6M117.5,214.2v3.6M115.9,217.1h3.6M117.7,215.3v3.6M116.7,217.4h3.6M118.5,215.6v3.6M117.1,217.6h3.6M118.9,215.8v3.6M116.9,217.4h3.6M118.7,215.6v3.6M117.9,218.2h3.6M119.7,216.4v3.6M118.0,218.1h3.6M119.8,216.3v3.6M118.3,218.7h3.6M120.1,216.9v3.6M118.1,218.7h3.6M119.9,216.9v3.6M119.1,219.4h3.6M120.9,217.6v3.6M118.8,219.3h3.6M120.6,217.5v3.6M119.6,219.8h3.6M121.4,218.0v3.6M119.7,219.9h3.6M121.5,218.1v3.6M119.8,220.5h3.6M121.6,218.7v3.6M120.4,220.5h3.6M122.2,218.7v3.6M120.5,221.1h3.6M122.3,219.3v3.6M120.8,221.0h3.6M122.6,219.2v3.6M121.4,221.3h3.6M123.2,219.5v3.6M122.0,222.2h3.6M123.8,220.4v3.6M122.3,222.6h3.6M124.1,220.8v3.6M122.2,222.5h3.6M124.0,220.7v3.6M122.8,222.5h3.6M124.6,220.7v3.6M123.5,222.7h3.6M125.3,220.9v3.6M124.0,223.5h3.6M125.8,221.7v3.6M124.3,223.3h3.6M126.1,221.5v3.6M124.6,224.3h3.6M126.4,222.5v3.6M124.9,224.2h3.6M126.7,222.4v3.6M125.1,224.4h3.6M126.9,222.6v3.6M125.7,224.7h3.6M127.5,222.9v3.6M125.8,224.9h3.6M127.6,223.1v3.6M126.2,225.3h3.6M128.0,223.5v3.6M126.8,225.7h3.6M128.6,223.9v3.6M126.7,225.9h3.6M128.5,224.1v3.6M127.0,226.0h3.6M128.8,224.2v3.6M127.6,226.4h3.6M129.4,224.6v3.6M127.6,226.2h3.6M129.4,224.4v3.6M128.1,226.9h3.6M129.9,225.1v3.6M128.4,227.1h3.6M130.2,225.3v3.6M129.4,227.2h3.6M131.2,225.4v3.6M129.2,227.6h3.6M131.0,225.8v3.6M129.7,227.7h3.6M131.5,225.9v3.6M129.9,228.2h3.6M131.7,226.4v3.6M130.4,228.7h3.6M132.2,226.9v3.6M130.9,228.7h3.6M132.7,226.9v3.6M131.6,229.2h3.6M133.4,227.4v3.6M131.2,229.5h3.6M133.0,227.7v3.6M131.7,229.7h3.6M133.5,227.9v3.6M132.6,229.5h3.6M134.4,227.7v3.6M132.9,230.0h3.6M134.7,228.2v3.6M133.0,230.3h3.6M134.8,228.5v3.6M133.4,230.6h3.6M135.2,228.8v3.6M133.9,230.4h3.6M135.7,228.6v3.6M134.2,231.2h3.6M136.0,229.4v3.6M134.7,231.4h3.6M136.5,229.6v3.6M134.8,231.4h3.6M136.6,229.6v3.6M134.9,232.2h3.6M136.7,230.4v3.6M135.1,232.5h3.6M136.9,230.7v3.6M135.5,232.4h3.6M137.3,230.6v3.6M136.3,232.4h3.6M138.1,230.6v3.6M136.5,233.3h3.6M138.3,231.5v3.6M136.8,233.0h3.6M138.6,231.2v3.6M136.9,233.9h3.6M138.7,232.1v3.6M137.4,233.9h3.6M139.2,232.1v3.6M138.2,233.8h3.6M140.0,232.0v3.6M138.5,234.4h3.6M140.3,232.6v3.6M138.6,234.2h3.6M140.4,232.4v3.6M139.6,234.4h3.6M141.4,232.6v3.6M139.7,234.8h3.6M141.5,233.0v3.6M140.3,235.3h3.6M142.1,233.5v3.6M140.7,235.3h3.6M142.5,233.5v3.6M140.9,235.0h3.6M142.7,233.2v3.6M141.4,235.5h3.6M143.2,233.7v3.6M141.9,235.6h3.6M143.7,233.8v3.6M141.9,235.7h3.6M143.7,233.9v3.6M142.9,236.0h3.6M144.7,234.2v3.6M143.1,235.8h3.6M144.9,234.0v3.6M143.2,236.1h3.6M145.0,234.3v3.6M143.8,236.1h3.6M145.6,234.3v3.6M144.6,236.4h3.6M146.4,234.6v3.6M144.3,236.5h3.6M146.1,234.7v3.6M145.1,237.0h3.6M146.9,235.2v3.6M145.8,236.7h3.6M147.6,234.9v3.6M146.4,237.4h3.6M148.2,235.6v3.6M146.4,237.4h3.6M148.2,235.6v3.6M146.7,237.2h3.6M148.5,235.4v3.6M146.9,237.9h3.6M148.7,236.1v3.6M148.0,237.7h3.6M149.8,235.9v3.6M148.2,237.9h3.6M150.0,236.1v3.6M148.7,237.7h3.6M150.5,235.9v3.6M149.2,237.9h3.6M151.0,236.1v3.6M149.5,238.5h3.6M151.3,236.7v3.6M150.1,238.6h3.6M151.9,236.8v3.6M150.0,239.0h3.6M151.8,237.2v3.6M150.5,238.9h3.6M152.3,237.1v3.6M151.3,239.4h3.6M153.1,237.6v3.6M151.1,239.2h3.6M152.9,237.4v3.6M151.7,239.7h3.6M153.5,237.9v3.6M152.2,240.0h3.6M154.0,238.2v3.6M152.9,239.8h3.6M154.7,238.0v3.6M153.3,240.2h3.6M155.1,238.4v3.6M153.1,240.1h3.6M154.9,238.3v3.6M153.6,240.7h3.6M155.4,238.9v3.6M154.2,240.5h3.6M156.0,238.7v3.6M154.8,241.3h3.6M156.6,239.5v3.6M154.7,241.3h3.6M156.5,239.5v3.6M155.2,241.6h3.6M157.0,239.8v3.6M156.0,241.8h3.6M157.8,240.0v3.6M156.3,241.5h3.6M158.1,239.7v3.6M156.9,241.7h3.6M158.7,239.9v3.6M157.1,242.6h3.6M158.9,240.8v3.6M157.2,242.5h3.6M159.0,240.7v3.6M157.9,242.8h3.6M159.7,241.0v3.6M158.0,242.9h3.6M159.8,241.1v3.6M158.9,243.3h3.6M160.7,241.5v3.6M158.7,243.5h3.6M160.5,241.7v3.6M159.6,243.7h3.6M161.4,241.9v3.6M160.0,243.6h3.6M161.8,241.8v3.6M160.0,244.3h3.6M161.8,242.5v3.6M160.3,243.9h3.6M162.1,242.1v3.6M160.6,244.8h3.6M162.4,243.0v3.6M161.6,244.4h3.6M163.4,242.6v3.6M161.9,244.6h3.6M163.7,242.8v3.6M162.2,244.7h3.6M164.0,242.9v3.6M162.6,245.5h3.6M164.4,243.7v3.6M162.9,245.6h3.6M164.7,243.8v3.6M163.0,245.6h3.6M164.8,243.8v3.6M164.0,245.8h3.6M165.8,244.0v3.6M164.3,246.1h3.6M166.1,244.3v3.6M164.8,246.4h3.6M166.6,244.6v3.6M164.8,246.6h3.6M166.6,244.8v3.6M165.6,246.5h3.6M167.4,244.7v3.6M166.0,246.7h3.6M167.8,244.9v3.6M166.3,246.7h3.6M168.1,244.9v3.6M166.6,246.9h3.6M168.4,245.1v3.6M168.8,247.9h3.6M170.6,246.1v3.6M170.3,248.1h3.6M172.1,246.3v3.6M172.0,248.8h3.6M173.8,247.0v3.6M173.3,249.6h3.6M175.1,247.8v3.6M175.4,250.0h3.6M177.2,248.2v3.6M177.7,251.0h3.6M179.5,249.2v3.6M178.5,251.3h3.6M180.3,249.5v3.6M180.7,252.2h3.6M182.5,250.4v3.6M181.6,252.6h3.6M183.4,250.8v3.6M183.9,253.1h3.6M185.7,251.3v3.6M185.7,253.4h3.6M187.5,251.6v3.6M187.9,253.9h3.6M189.7,252.1v3.6M189.6,254.1h3.6M191.4,252.3v3.6M190.5,254.6h3.6M192.3,252.8v3.6M191.8,255.0h3.6M193.6,253.2v3.6M193.6,255.3h3.6M195.4,253.5v3.6M194.6,255.1h3.6M196.4,253.3v3.6M196.1,255.3h3.6M197.9,253.5v3.6M197.6,255.6h3.6M199.4,253.8v3.6M200.0,256.4h3.6M201.8,254.6v3.6M201.4,256.6h3.6M203.2,254.8v3.6M203.5,256.6h3.6M205.3,254.8v3.6" stroke="#ff7f0e" stroke-width="0.9" fill="none" opacity="0.95"/>
<path d="M205.30,257.01 H215.75 V258.04 H228.41 V259.69 H239.50 V261.96 H257.38 V265.67 H265.93 V265.67" stroke="#ff7f0e" stroke-width="1.0" fill="none" opacity="0.8"/>
<path d="M207.62,258.04h3.60M209.42,256.24v3.60M213.95,258.04h3.60M215.75,256.24v3.60M220.28,258.66h3.60M222.08,256.86v3.60M223.45,258.66h3.60M225.25,256.86v3.60M237.69,261.96h3.60M239.50,260.16v3.60M242.44,261.96h3.60M244.24,260.16v3.60M247.19,261.96h3.60M248.99,260.16v3.60M250.36,261.96h3.60M252.16,260.16v3.60M258.27,265.67h3.60M260.07,263.87v3.60M263.02,265.67h3.60M264.82,263.87v3.60" stroke="#ff7f0e" stroke-width="0.8" fill="none" opacity="0.8"/>
<path d="M57.5,67.4L58.0,68.8L58.5,70.2L59.1,71.6L59.6,73.0L60.2,74.3L60.7,75.7L61.2,77.1L61.8,78.5L62.3,80.1L62.9,81.6L63.4,83.3L63.9,85.1L64.4,86.7L64.8,88.5L65.2,90.4L65.7,92.4L66.1,94.4L66.6,96.6L67.0,98.7L67.4,100.8L67.9,102.9L68.3,104.9L68.7,106.8L69.2,108.6L69.6,110.3L70.0,111.9L70.5,113.5L70.9,115.0L71.3,116.5L71.8,117.9L72.2,119.4L72.6,120.8L73.1,122.3L73.5,123.7L74.0,125.2L74.4,126.8L74.9,128.7L75.4,130.7L76.0,132.7L76.5,134.8L77.0,136.9L77.6,139.0L78.1,141.0L78.6,143.0L79.1,144.9L79.7,146.7L80.2,148.3L80.7,149.8L81.4,151.7L82.1,153.4L82.8,155.0L83.5,156.6L84.2,158.0L84.9,159.5L85.6,160.8L86.3,162.2L87.0,163.5L87.7,164.9L88.4,166.2L89.1,167.6L90.2,169.7L91.2,171.8L92.3,173.9L93.3,176.0L94.4,178.1L95.4,180.2L96.5,182.2L97.6,184.2L98.6,186.0L99.7,187.8L100.7,189.5L101.8,191.1L102.3,191.8L102.8,192.5L103.4,193.2L103.9,193.9L104.4,194.5L104.9,195.2L105.5,195.8L106.0,196.4L106.5,197.0L107.1,197.6L107.6,198.1L108.1,198.7L109.2,199.8L110.2,200.8L111.3,201.8L112.3,202.8L113.4,203.7L114.4,204.7L115.5,205.6L116.5,206.5L117.6,207.4L118.7,208.2L119.7,209.1L120.8,210.0L121.9,210.9L123.0,211.9L124.1,212.7L125.2,213.6L126.3,214.5L127.4,215.3L128.5,216.2L129.6,217.1L130.7,218.0L131.9,218.9L133.0,219.8L134.1,220.7L134.6,221.2L135.1,221.7L135.6,222.1L136.1,222.6L136.6,223.1L137.1,223.6L137.6,224.1L138.1,224.6L138.6,225.1L139.1,225.5L139.6,225.9L140.1,226.3L141.1,227.0L142.1,227.7L143.2,228.3L144.2,228.9L145.2,229.5L146.3,230.1L147.3,230.6L148.3,231.2L149.3,231.7L150.4,232.2L151.4,232.8L152.4,233.3L153.6,233.9L154.7,234.6L155.8,235.2L157.0,235.9L158.1,236.5L159.2,237.1L160.4,237.8L161.5,238.4L162.6,238.9L163.8,239.5L164.9,240.0L166.0,240.5L167.5,241.1L169.1,241.7L170.6,242.3L172.1,242.8L173.6,243.3L175.1,243.8L176.6,244.3L178.1,244.8L179.6,245.3L181.1,245.7L182.6,246.2L184.1,246.7L184.9,247.0L185.8,247.3L186.7,247.5L187.5,247.8L188.4,248.1L189.2,248.3L190.1,248.6L190.9,248.9L191.8,249.2L192.7,249.4L193.5,249.7L194.4,250.0L195.4,250.3L196.3,250.7L197.3,251.0L198.3,251.4L199.3,251.8L200.2,252.1L201.2,252.5L202.2,252.9L203.2,253.2L204.1,253.5L205.1,253.8L206.1,254.1L206.9,254.3L207.7,254.6L208.5,254.8L209.3,254.9L210.1,255.1L210.9,255.3L211.7,255.5L212.5,255.7L213.3,255.8L214.1,256.0L214.9,256.2L215.8,256.4" stroke="#2ca02c" stroke-width="1.0" fill="none" opacity="1.0"/>
<path d="M55.5,67.5h3.6M57.3,65.7v3.6M55.9,68.1h3.6M57.7,66.3v3.6M55.7,67.9h3.6M57.5,66.1v3.6M55.8,68.3h3.6M57.6,66.5v3.6M56.4,68.6h3.6M58.2,66.8v3.6M56.4,69.0h3.6M58.2,67.2v3.6M56.3,69.6h3.6M58.1,67.8v3.6M56.9,70.1h3.6M58.7,68.3v3.6M56.4,70.2h3.6M58.2,68.4v3.6M56.7,71.1h3.6M58.5,69.3v3.6M57.3,71.4h3.6M59.1,69.6v3.6M57.5,71.7h3.6M59.3,69.9v3.6M57.7,72.1h3.6M59.5,70.3v3.6M57.3,72.5h3.6M59.1,70.7v3.6M57.7,72.8h3.6M59.5,71.0v3.6M57.9,72.9h3.6M59.7,71.1v3.6M57.9,73.3h3.6M59.7,71.5v3.6M58.0,73.4h3.6M59.8,71.6v3.6M58.5,74.3h3.6M60.3,72.5v3.6M58.8,74.6h3.6M60.6,72.8v3.6M58.6,75.0h3.6M60.4,73.2v3.6M58.4,75.4h3.6M60.2,73.6v3.6M58.8,75.3h3.6M60.6,73.5v3.6M58.8,76.0h3.6M60.6,74.2v3.6M58.9,76.3h3.6M60.7,74.5v3.6M59.4,76.6h3.6M61.2,74.8v3.6M59.1,77.1h3.6M60.9,75.3v3.6M59.4,77.3h3.6M61.2,75.5v3.6M59.5,77.7h3.6M61.3,75.9v3.6M59.5,78.3h3.6M61.3,76.5v3.6M60.4,78.5h3.6M62.2,76.7v3.6M60.3,79.3h3.6M62.1,77.5v3.6M59.9,79.1h3.6M61.7,77.3v3.6M60.6,80.0h3.6M62.4,78.2v3.6M60.6,79.8h3.6M62.4,78.0v3.6M60.6,80.8h3.6M62.4,79.0v3.6M61.1,81.1h3.6M62.9,79.3v3.6M60.7,81.5h3.6M62.5,79.7v3.6M60.9,81.8h3.6M62.7,80.0v3.6M60.9,82.4h3.6M62.7,80.6v3.6M61.4,82.5h3.6M63.2,80.7v3.6M61.2,82.8h3.6M63.0,81.0v3.6M61.6,83.2h3.6M63.4,81.4v3.6M61.5,83.7h3.6M63.3,81.9v3.6M61.6,83.7h3.6M63.4,81.9v3.6M61.6,84.4h3.6M63.4,82.6v3.6M61.7,84.4h3.6M63.5,82.6v3.6M61.8,85.2h3.6M63.6,83.4v3.6M62.3,85.5h3.6M64.1,83.7v3.6M62.0,85.8h3.6M63.8,84.0v3.6M62.3,85.9h3.6M64.1,84.1v3.6M62.1,87.0h3.6M63.9,85.2v3.6M62.3,86.8h3.6M64.1,85.0v3.6M62.6,87.4h3.6M64.4,85.6v3.6M62.5,87.7h3.6M64.3,85.9v3.6M62.8,88.4h3.6M64.6,86.6v3.6M62.6,88.4h3.6M64.4,86.6v3.6M63.1,89.3h3.6M64.9,87.5v3.6M63.2,89.3h3.6M65.0,87.5v3.6M63.4,89.5h3.6M65.2,87.7v3.6M63.0,90.1h3.6M64.8,88.3v3.6M63.8,90.7h3.6M65.6,88.9v3.6M63.4,91.0h3.6M65.2,89.2v3.6M63.9,91.1h3.6M65.7,89.3v3.6M63.8,91.5h3.6M65.6,89.7v3.6M63.6,91.9h3.6M65.4,90.1v3.6M63.7,92.3h3.6M65.5,90.5v3.6M63.6,92.7h3.6M65.4,90.9v3.6M63.7,93.4h3.6M65.5,91.6v3.6M64.2,93.2h3.6M66.0,91.4v3.6M64.4,93.7h3.6M66.2,91.9v3.6M64.3,94.4h3.6M66.1,92.6v3.6M64.3,94.6h3.6M66.1,92.8v3.6M64.4,94.9h3.6M66.2,93.1v3.6M64.8,95.3h3.6M66.6,93.5v3.6M64.9,95.7h3.6M66.7,93.9v3.6M64.6,96.3h3.6M66.4,94.5v3.6M64.4,96.4h3.6M66.2,94.6v3.6M64.8,97.1h3.6M66.6,95.3v3.6M65.3,97.9h3.6M67.1,96.1v3.6M64.7,97.9h3.6M66.5,96.1v3.6M64.8,98.6h3.6M66.6,96.8v3.6M65.0,99.0h3.6M66.8,97.2v3.6M65.3,98.8h3.6M67.1,97.0v3.6M65.0,99.3h3.6M66.8,97.5v3.6M65.7,99.6h3.6M67.5,97.8v3.6M65.5,100.2h3.6M67.3,98.4v3.6M65.5,100.9h3.6M67.3,99.1v3.6M65.4,101.2h3.6M67.2,99.4v3.6M65.9,101.8h3.6M67.7,100.0v3.6M65.8,102.2h3.6M67.6,100.4v3.6M65.9,102.3h3.6M67.7,100.5v3.6M66.1,102.9h3.6M67.9,101.1v3.6M66.4,102.7h3.6M68.2,100.9v3.6M65.9,103.4h3.6M67.7,101.6v3.6M66.5,103.8h3.6M68.3,102.0v3.6M66.2,104.6h3.6M68.0,102.8v3.6M66.3,104.2h3.6M68.1,102.4v3.6M66.1,104.6h3.6M67.9,102.8v3.6M66.8,105.0h3.6M68.6,103.2v3.6M66.9,106.0h3.6M68.7,104.2v3.6M67.2,106.4h3.6M69.0,104.6v3.6M66.8,106.6h3.6M68.6,104.8v3.6M67.2,107.1h3.6M69.0,105.3v3.6M66.9,107.5h3.6M68.7,105.7v3.6M66.8,107.5h3.6M68.6,105.7v3.6M67.6,108.1h3.6M69.4,106.3v3.6M67.1,108.7h3.6M68.9,106.9v3.6M67.4,108.5h3.6M69.2,106.7v3.6M67.1,109.0h3.6M68.9,107.2v3.6M67.5,110.0h3.6M69.3,108.2v3.6M67.5,110.3h3.6M69.3,108.5v3.6M68.1,110.3h3.6M69.9,108.5v3.6M68.3,111.0h3.6M70.1,109.2v3.6M68.0,111.0h3.6M69.8,109.2v3.6M68.1,111.9h3.6M69.9,110.1v3.6M68.3,111.7h3.6M70.1,109.9v3.6M68.3,112.3h3.6M70.1,110.5v3.6M68.2,112.8h3.6M70.0,111.0v3.6M68.2,113.4h3.6M70.0,111.6v3.6M68.4,113.2h3.6M70.2,111.4v3.6M68.9,113.7h3.6M70.7,111.9v3.6M69.2,114.3h3.6M71.0,112.5v3.6M69.0,114.9h3.6M70.8,113.1v3.6M68.9,115.2h3.6M70.7,113.4v3.6M69.4,115.4h3.6M71.2,113.6v3.6M69.7,115.4h3.6M71.5,113.6v3.6M69.7,115.9h3.6M71.5,114.1v3.6M69.8,116.3h3.6M71.6,114.5v3.6M69.3,116.9h3.6M71.1,115.1v3.6M70.1,117.1h3.6M71.9,115.3v3.6M69.9,117.8h3.6M71.7,116.0v3.6M69.8,118.1h3.6M71.6,116.3v3.6M69.7,118.4h3.6M71.5,116.6v3.6M70.5,118.7h3.6M72.3,116.9v3.6M70.1,118.9h3.6M71.9,117.1v3.6M70.6,119.6h3.6M72.4,117.8v3.6M70.9,120.2h3.6M72.7,118.4v3.6M70.4,120.7h3.6M72.2,118.9v3.6M71.2,121.0h3.6M73.0,119.2v3.6M71.2,121.3h3.6M73.0,119.5v3.6M71.2,121.7h3.6M73.0,119.9v3.6M71.3,121.7h3.6M73.1,119.9v3.6M71.0,122.5h3.6M72.8,120.7v3.6M71.5,122.3h3.6M73.3,120.5v3.6M71.6,123.2h3.6M73.4,121.4v3.6M71.6,123.7h3.6M73.4,121.9v3.6M72.0,123.7h3.6M73.8,121.9v3.6M72.1,124.2h3.6M73.9,122.4v3.6M72.0,124.5h3.6M73.8,122.7v3.6M72.4,125.0h3.6M74.2,123.2v3.6M72.6,125.3h3.6M74.4,123.5v3.6M72.4,126.1h3.6M74.2,124.3v3.6M72.6,126.0h3.6M74.4,124.2v3.6M72.2,126.5h3.6M74.0,124.7v3.6M72.6,127.2h3.6M74.4,125.4v3.6M73.0,127.7h3.6M74.8,125.9v3.6M72.8,127.6h3.6M74.6,125.8v3.6M73.0,128.3h3.6M74.8,126.5v3.6M72.7,128.2h3.6M74.5,126.4v3.6M72.9,128.7h3.6M74.7,126.9v3.6M73.1,129.6h3.6M74.9,127.8v3.6M73.1,130.0h3.6M74.9,128.2v3.6M73.3,129.8h3.6M75.1,128.0v3.6M73.9,130.1h3.6M75.7,128.3v3.6M73.4,130.5h3.6M75.2,128.7v3.6M73.4,131.1h3.6M75.2,129.3v3.6M73.6,131.3h3.6M75.4,129.5v3.6M73.6,132.1h3.6M75.4,130.3v3.6M73.7,132.1h3.6M75.5,130.3v3.6M74.2,133.0h3.6M76.0,131.2v3.6M74.4,133.3h3.6M76.2,131.5v3.6M74.5,133.7h3.6M76.3,131.9v3.6M74.7,133.6h3.6M76.5,131.8v3.6M74.2,134.4h3.6M76.0,132.6v3.6M74.7,134.7h3.6M76.5,132.9v3.6M75.0,134.8h3.6M76.8,133.0v3.6M75.0,135.4h3.6M76.8,133.6v3.6M74.9,135.6h3.6M76.7,133.8v3.6M74.9,136.3h3.6M76.7,134.5v3.6M75.2,136.9h3.6M77.0,135.1v3.6M75.1,137.2h3.6M76.9,135.4v3.6M75.0,137.5h3.6M76.8,135.7v3.6M75.2,138.0h3.6M77.0,136.2v3.6M75.9,138.0h3.6M77.7,136.2v3.6M75.9,138.3h3.6M77.7,136.5v3.6M75.6,138.6h3.6M77.4,136.8v3.6M75.8,139.0h3.6M77.6,137.2v3.6M76.1,139.8h3.6M77.9,138.0v3.6M76.0,140.3h3.6M77.8,138.5v3.6M75.9,140.3h3.6M77.7,138.5v3.6M76.1,140.5h3.6M77.9,138.7v3.6M76.7,140.9h3.6M78.5,139.1v3.6M76.1,141.9h3.6M77.9,140.1v3.6M76.8,142.0h3.6M78.6,140.2v3.6M76.6,142.1h3.6M78.4,140.3v3.6M76.4,142.8h3.6M78.2,141.0v3.6M76.7,142.9h3.6M78.5,141.1v3.6M77.3,143.2h3.6M79.1,141.4v3.6M77.0,144.1h3.6M78.8,142.3v3.6M77.4,144.0h3.6M79.2,142.2v3.6M77.5,144.8h3.6M79.3,143.0v3.6M77.5,145.5h3.6M79.3,143.7v3.6M77.8,145.6h3.6M79.6,143.8v3.6M77.8,145.9h3.6M79.6,144.1v3.6M77.8,146.5h3.6M79.6,144.7v3.6M78.0,146.5h3.6M79.8,144.7v3.6M77.6,147.3h3.6M79.4,145.5v3.6M78.0,147.3h3.6M79.8,145.5v3.6M78.0,147.8h3.6M79.8,146.0v3.6M78.3,148.4h3.6M80.1,146.6v3.6M78.5,148.6h3.6M80.3,146.8v3.6M78.8,148.9h3.6M80.6,147.1v3.6M78.8,149.5h3.6M80.6,147.7v3.6M79.0,149.9h3.6M80.8,148.1v3.6M79.3,150.1h3.6M81.1,148.3v3.6M79.2,150.2h3.6M81.0,148.4v3.6M79.1,150.7h3.6M80.9,148.9v3.6M79.4,151.5h3.6M81.2,149.7v3.6M79.2,151.4h3.6M81.0,149.6v3.6M79.9,151.9h3.6M81.7,150.1v3.6M80.1,152.0h3.6M81.9,150.2v3.6M80.2,152.6h3.6M82.0,150.8v3.6M80.2,152.7h3.6M82.0,150.9v3.6M80.2,153.6h3.6M82.0,151.8v3.6M80.7,153.8h3.6M82.5,152.0v3.6M80.6,153.8h3.6M82.4,152.0v3.6M81.0,154.5h3.6M82.8,152.7v3.6M81.1,155.0h3.6M82.9,153.2v3.6M81.0,155.5h3.6M82.8,153.7v3.6M81.0,156.0h3.6M82.8,154.2v3.6M81.1,156.3h3.6M82.9,154.5v3.6M81.7,156.3h3.6M83.5,154.5v3.6M82.1,156.7h3.6M83.9,154.9v3.6M82.0,156.7h3.6M83.8,154.9v3.6M82.4,157.5h3.6M84.2,155.7v3.6M82.1,157.5h3.6M83.9,155.7v3.6M82.4,158.5h3.6M84.2,156.7v3.6M82.9,158.5h3.6M84.7,156.7v3.6M82.4,159.1h3.6M84.2,157.3v3.6M82.8,159.4h3.6M84.6,157.6v3.6M83.2,159.9h3.6M85.0,158.1v3.6M83.1,160.2h3.6M84.9,158.4v3.6M83.7,159.9h3.6M85.5,158.1v3.6M83.8,160.5h3.6M85.6,158.7v3.6M84.1,161.4h3.6M85.9,159.6v3.6M84.2,161.3h3.6M86.0,159.5v3.6M84.3,161.5h3.6M86.1,159.7v3.6M84.4,161.8h3.6M86.2,160.0v3.6M84.8,162.1h3.6M86.6,160.3v3.6M84.8,162.5h3.6M86.6,160.7v3.6M85.1,162.8h3.6M86.9,161.0v3.6M84.8,163.6h3.6M86.6,161.8v3.6M85.6,164.1h3.6M87.4,162.3v3.6M85.7,164.6h3.6M87.5,162.8v3.6M85.5,164.6h3.6M87.3,162.8v3.6M86.0,164.6h3.6M87.8,162.8v3.6M85.8,165.0h3.6M87.6,163.2v3.6M86.3,165.8h3.6M88.1,164.0v3.6M86.7,166.0h3.6M88.5,164.2v3.6M86.3,166.5h3.6M88.1,164.7v3.6M86.9,166.4h3.6M88.7,164.6v3.6M87.1,166.8h3.6M88.9,165.0v3.6M87.1,167.3h3.6M88.9,165.5v3.6M87.6,167.4h3.6M89.4,165.6v3.6M87.5,167.9h3.6M89.3,166.1v3.6M87.9,168.7h3.6M89.7,166.9v3.6M87.7,169.0h3.6M89.5,167.2v3.6M88.1,168.9h3.6M89.9,167.1v3.6M88.1,169.6h3.6M89.9,167.8v3.6M88.7,170.0h3.6M90.5,168.2v3.6M88.3,170.5h3.6M90.1,168.7v3.6M88.9,170.5h3.6M90.7,168.7v3.6M88.8,170.9h3.6M90.6,169.1v3.6M89.3,171.1h3.6M91.1,169.3v3.6M89.1,172.0h3.6M90.9,170.2v3.6M89.5,171.7h3.6M91.3,169.9v3.6M90.0,172.1h3.6M91.8,170.3v3.6M89.8,172.8h3.6M91.6,171.0v3.6M90.2,173.4h3.6M92.0,171.6v3.6M90.0,173.5h3.6M91.8,171.7v3.6M90.7,173.8h3.6M92.5,172.0v3.6M90.8,174.2h3.6M92.6,172.4v3.6M91.0,174.9h3.6M92.8,173.1v3.6M90.8,175.1h3.6M92.6,173.3v3.6M91.0,175.6h3.6M92.8,173.8v3.6M91.5,175.9h3.6M93.3,174.1v3.6M91.8,176.1h3.6M93.6,174.3v3.6M92.0,176.1h3.6M93.8,174.3v3.6M91.9,176.4h3.6M93.7,174.6v3.6M92.1,177.2h3.6M93.9,175.4v3.6M92.0,177.7h3.6M93.8,175.9v3.6M92.3,177.5h3.6M94.1,175.7v3.6M92.3,178.2h3.6M94.1,176.4v3.6M92.7,178.1h3.6M94.5,176.3v3.6M92.8,179.2h3.6M94.6,177.4v3.6M93.1,179.3h3.6M94.9,177.5v3.6M93.2,179.2h3.6M95.0,177.4v3.6M93.6,179.7h3.6M95.4,177.9v3.6M93.4,180.3h3.6M95.2,178.5v3.6M94.0,180.2h3.6M95.8,178.4v3.6M94.4,180.6h3.6M96.2,178.8v3.6M94.0,181.2h3.6M95.8,179.4v3.6M94.7,181.9h3.6M96.5,180.1v3.6M94.8,182.0h3.6M96.6,180.2v3.6M95.1,182.1h3.6M96.9,180.3v3.6M95.4,182.4h3.6M97.2,180.6v3.6M94.9,183.3h3.6M96.7,181.5v3.6M95.6,183.6h3.6M97.4,181.8v3.6M95.4,184.1h3.6M97.2,182.3v3.6M95.8,183.9h3.6M97.6,182.1v3.6M95.6,184.9h3.6M97.4,183.1v3.6M95.8,184.6h3.6M97.6,182.8v3.6M96.2,185.5h3.6M98.0,183.7v3.6M96.8,185.8h3.6M98.6,184.0v3.6M96.8,185.5h3.6M98.6,183.7v3.6M97.1,186.0h3.6M98.9,184.2v3.6M97.5,186.9h3.6M99.3,185.1v3.6M97.0,187.1h3.6M98.8,185.3v3.6M97.3,186.9h3.6M99.1,185.1v3.6M98.0,187.6h3.6M99.8,185.8v3.6M97.8,188.0h3.6M99.6,186.2v3.6M97.8,188.2h3.6M99.6,186.4v3.6M98.5,188.9h3.6M100.3,187.1v3.6M98.3,189.3h3.6M100.1,187.5v3.6M98.5,189.1h3.6M100.3,187.3v3.6M98.9,189.4h3.6M100.7,187.6v3.6M98.9,190.1h3.6M100.7,188.3v3.6M99.4,190.1h3.6M101.2,188.3v3.6M99.7,190.3h3.6M101.5,188.5v3.6M100.1,191.3h3.6M101.9,189.5v3.6M100.1,191.2h3.6M101.9,189.4v3.6M100.3,191.5h3.6M102.1,189.7v3.6M100.5,191.7h3.6M102.3,189.9v3.6M100.7,192.4h3.6M102.5,190.6v3.6M101.1,192.2h3.6M102.9,190.4v3.6M101.0,193.2h3.6M102.8,191.4v3.6M101.4,193.5h3.6M103.2,191.7v3.6M101.9,193.6h3.6M103.7,191.8v3.6M101.9,193.9h3.6M103.7,192.1v3.6M102.2,194.2h3.6M104.0,192.4v3.6M102.9,194.2h3.6M104.7,192.4v3.6M102.6,195.1h3.6M104.4,193.3v3.6M103.4,195.3h3.6M105.2,193.5v3.6M103.6,195.1h3.6M105.4,193.3v3.6M103.8,195.4h3.6M105.6,193.6v3.6M104.1,195.9h3.6M105.9,194.1v3.6M104.1,196.3h3.6M105.9,194.5v3.6M104.1,196.7h3.6M105.9,194.9v3.6M104.9,196.9h3.6M106.7,195.1v3.6M104.9,197.1h3.6M106.7,195.3v3.6M104.9,197.3h3.6M106.7,195.5v3.6M105.7,198.2h3.6M107.5,196.4v3.6M105.6,197.9h3.6M107.4,196.1v3.6M105.9,198.7h3.6M107.7,196.9v3.6M106.1,198.4h3.6M107.9,196.6v3.6M106.4,198.6h3.6M108.2,196.8v3.6M106.6,199.0h3.6M108.4,197.2v3.6M107.2,199.9h3.6M109.0,198.1v3.6M107.2,199.6h3.6M109.0,197.8v3.6M107.8,199.7h3.6M109.6,197.9v3.6M107.6,200.4h3.6M109.4,198.6v3.6M108.2,200.5h3.6M110.0,198.7v3.6M108.5,200.5h3.6M110.3,198.7v3.6M108.6,200.9h3.6M110.4,199.1v3.6M108.9,201.1h3.6M110.7,199.3v3.6M109.7,201.4h3.6M111.5,199.6v3.6M109.6,201.8h3.6M111.4,200.0v3.6M109.8,202.5h3.6M111.6,200.7v3.6M110.7,202.9h3.6M112.5,201.1v3.6M110.4,202.9h3.6M112.2,201.1v3.6M110.8,202.8h3.6M112.6,201.0v3.6M111.1,203.5h3.6M112.9,201.7v3.6M111.4,203.9h3.6M113.2,202.1v3.6M111.7,203.7h3.6M113.5,201.9v3.6M112.4,204.2h3.6M114.2,202.4v3.6M112.2,204.8h3.6M114.0,203.0v3.6M112.7,204.8h3.6M114.5,203.0v3.6M113.0,205.2h3.6M114.8,203.4v3.6M113.5,205.2h3.6M115.3,203.4v3.6M113.5,205.7h3.6M115.3,203.9v3.6M114.2,205.8h3.6M116.0,204.0v3.6M114.5,206.0h3.6M116.3,204.2v3.6M114.4,206.1h3.6M116.2,204.3v3.6M114.6,206.2h3.6M116.4,204.4v3.6M115.4,206.8h3.6M117.2,205.0v3.6M115.1,206.8h3.6M116.9,205.0v3.6M115.7,207.5h3.6M117.5,205.7v3.6M116.3,207.8h3.6M118.1,206.0v3.6M116.2,207.7h3.6M118.0,205.9v3.6M117.0,208.0h3.6M118.8,206.2v3.6M117.1,208.0h3.6M118.9,206.2v3.6M117.2,208.6h3.6M119.0,206.8v3.6M117.9,209.2h3.6M119.7,207.4v3.6M118.1,209.0h3.6M119.9,207.2v3.6M118.5,209.7h3.6M120.3,207.9v3.6M118.1,209.5h3.6M119.9,207.7v3.6M118.8,209.7h3.6M120.6,207.9v3.6M118.9,210.4h3.6M120.7,208.6v3.6M119.2,210.4h3.6M121.0,208.6v3.6M119.3,210.6h3.6M121.1,208.8v3.6M120.4,210.5h3.6M122.2,208.7v3.6M120.0,211.5h3.6M121.8,209.7v3.6M121.0,211.4h3.6M122.8,209.6v3.6M120.8,211.5h3.6M122.6,209.7v3.6M121.4,212.0h3.6M123.2,210.2v3.6M121.5,212.3h3.6M123.3,210.5v3.6M121.6,212.3h3.6M123.4,210.5v3.6M122.5,213.0h3.6M124.3,211.2v3.6M122.5,213.1h3.6M124.3,211.3v3.6M123.1,213.2h3.6M124.9,211.4v3.6M122.8,213.1h3.6M124.6,211.3v3.6M123.6,213.5h3.6M125.4,211.7v3.6M123.8,213.5h3.6M125.6,211.7v3.6M124.4,214.0h3.6M126.2,212.2v3.6M124.5,214.5h3.6M126.3,212.7v3.6M124.6,214.4h3.6M126.4,212.6v3.6M125.1,214.7h3.6M126.9,212.9v3.6M125.0,214.9h3.6M126.8,213.1v3.6M125.3,215.7h3.6M127.1,213.9v3.6M125.7,216.0h3.6M127.5,214.2v3.6M126.4,216.2h3.6M128.2,214.4v3.6M126.6,215.9h3.6M128.4,214.1v3.6M126.6,216.5h3.6M128.4,214.7v3.6M127.4,216.7h3.6M129.2,214.9v3.6M127.9,216.5h3.6M129.7,214.7v3.6M128.0,217.3h3.6M129.8,215.5v3.6M128.5,217.1h3.6M130.3,215.3v3.6M128.8,217.2h3.6M130.6,215.4v3.6M128.9,217.7h3.6M130.7,215.9v3.6M129.1,217.8h3.6M130.9,216.0v3.6M129.3,218.2h3.6M131.1,216.4v3.6M129.7,218.5h3.6M131.5,216.7v3.6M129.8,218.6h3.6M131.6,216.8v3.6M130.3,219.5h3.6M132.1,217.7v3.6M130.9,219.1h3.6M132.7,217.3v3.6M131.1,219.3h3.6M132.9,217.5v3.6M131.1,220.3h3.6M132.9,218.5v3.6M131.4,219.8h3.6M133.2,218.0v3.6M131.9,220.5h3.6M133.7,218.7v3.6M132.2,221.0h3.6M134.0,219.2v3.6M132.5,220.8h3.6M134.3,219.0v3.6M132.5,221.3h3.6M134.3,219.5v3.6M133.3,221.5h3.6M135.1,219.7v3.6M133.3,221.5h3.6M135.1,219.7v3.6M133.9,222.4h3.6M135.7,220.6v3.6M134.0,222.5h3.6M135.8,220.7v3.6M134.1,222.3h3.6M135.9,220.5v3.6M134.1,223.0h3.6M135.9,221.2v3.6M135.1,223.3h3.6M136.9,221.5v3.6M135.2,223.7h3.6M137.0,221.9v3.6M135.3,223.6h3.6M137.1,221.8v3.6M135.4,224.2h3.6M137.2,222.4v3.6M136.1,224.3h3.6M137.9,222.5v3.6M136.4,224.9h3.6M138.2,223.1v3.6M136.1,224.6h3.6M137.9,222.8v3.6M136.8,225.3h3.6M138.6,223.5v3.6M136.9,225.3h3.6M138.7,223.5v3.6M137.5,225.4h3.6M139.3,223.6v3.6M137.8,225.5h3.6M139.6,223.7v3.6M138.0,226.2h3.6M139.8,224.4v3.6M138.6,226.4h3.6M140.4,224.6v3.6M138.8,226.7h3.6M140.6,224.9v3.6M139.1,226.8h3.6M140.9,225.0v3.6M139.2,226.7h3.6M141.0,224.9v3.6M140.0,227.5h3.6M141.8,225.7v3.6M140.1,227.7h3.6M141.9,225.9v3.6M140.2,227.4h3.6M142.0,225.6v3.6M140.7,227.9h3.6M142.5,226.1v3.6M141.1,228.4h3.6M142.9,226.6v3.6M141.3,228.2h3.6M143.1,226.4v3.6M141.9,228.8h3.6M143.7,227.0v3.6M142.1,228.8h3.6M143.9,227.0v3.6M142.7,229.3h3.6M144.5,227.5v3.6M142.4,229.5h3.6M144.2,227.7v3.6M142.8,229.4h3.6M144.6,227.6v3.6M143.4,229.9h3.6M145.2,228.1v3.6M143.6,229.3h3.6M145.4,227.5v3.6M144.5,229.9h3.6M146.3,228.1v3.6M144.5,230.0h3.6M146.3,228.2v3.6M144.7,229.9h3.6M146.5,228.1v3.6M145.2,230.2h3.6M147.0,228.4v3.6M145.5,231.0h3.6M147.3,229.2v3.6M146.3,230.7h3.6M148.1,228.9v3.6M146.1,230.7h3.6M147.9,228.9v3.6M146.7,230.9h3.6M148.5,229.1v3.6M146.7,231.7h3.6M148.5,229.9v3.6M147.4,231.9h3.6M149.2,230.1v3.6M147.5,231.5h3.6M149.3,229.7v3.6M148.1,232.1h3.6M149.9,230.3v3.6M148.1,232.1h3.6M149.9,230.3v3.6M148.8,232.3h3.6M150.6,230.5v3.6M149.0,232.4h3.6M150.8,230.6v3.6M149.1,232.4h3.6M150.9,230.6v3.6M149.5,233.1h3.6M151.3,231.3v3.6M150.0,233.2h3.6M151.8,231.4v3.6M150.2,233.6h3.6M152.0,231.8v3.6M150.5,233.7h3.6M152.3,231.9v3.6M151.2,234.0h3.6M153.0,232.2v3.6M151.9,233.4h3.6M153.7,231.6v3.6M151.6,233.8h3.6M153.4,232.0v3.6M151.9,234.5h3.6M153.7,232.7v3.6M152.3,234.6h3.6M154.1,232.8v3.6M153.3,234.8h3.6M155.1,233.0v3.6M153.7,234.9h3.6M155.5,233.1v3.6M153.6,235.4h3.6M155.4,233.6v3.6M153.8,235.2h3.6M155.6,233.4v3.6M154.3,235.4h3.6M156.1,233.6v3.6M154.5,236.0h3.6M156.3,234.2v3.6M155.4,236.0h3.6M157.2,234.2v3.6M155.4,236.4h3.6M157.2,234.6v3.6M156.1,235.8h3.6M157.9,234.0v3.6M156.4,236.1h3.6M158.2,234.3v3.6M156.1,236.4h3.6M157.9,234.6v3.6M156.7,236.8h3.6M158.5,235.0v3.6M157.5,236.7h3.6M159.3,234.9v3.6M157.6,237.2h3.6M159.4,235.4v3.6M157.5,237.8h3.6M159.3,236.0v3.6M158.5,237.4h3.6M160.3,235.6v3.6M158.8,237.7h3.6M160.6,235.9v3.6M159.0,238.3h3.6M160.8,236.5v3.6M159.4,238.0h3.6M161.2,236.2v3.6M159.2,238.3h3.6M161.0,236.5v3.6M160.0,238.3h3.6M161.8,236.5v3.6M160.4,238.3h3.6M162.2,236.5v3.6M160.5,238.8h3.6M162.3,237.0v3.6M161.0,239.2h3.6M162.8,237.4v3.6M161.2,239.0h3.6M163.0,237.2v3.6M161.9,239.2h3.6M163.7,237.4v3.6M161.8,239.7h3.6M163.6,237.9v3.6M162.3,239.8h3.6M164.1,238.0v3.6M163.2,240.3h3.6M165.0,238.5v3.6M163.4,240.4h3.6M165.2,238.6v3.6M163.8,240.1h3.6M165.6,238.3v3.6M164.3,240.1h3.6M166.1,238.3v3.6M164.1,240.5h3.6M165.9,238.7v3.6M164.4,240.8h3.6M166.2,239.0v3.6M165.1,240.6h3.6M166.9,238.8v3.6M165.6,240.7h3.6M167.4,238.9v3.6M165.8,241.0h3.6M167.6,239.2v3.6M166.5,241.0h3.6M168.3,239.2v3.6M166.4,241.6h3.6M168.2,239.8v3.6M166.7,241.8h3.6M168.5,240.0v3.6M167.0,241.4h3.6M168.8,239.6v3.6M167.2,241.9h3.6M169.0,240.1v3.6M168.0,242.0h3.6M169.8,240.2v3.6M168.4,242.4h3.6M170.2,240.6v3.6M168.5,242.0h3.6M170.3,240.2v3.6M168.9,242.7h3.6M170.7,240.9v3.6M169.8,242.2h3.6M171.6,240.4v3.6M169.5,243.1h3.6M171.3,241.3v3.6M170.6,242.6h3.6M172.4,240.8v3.6M170.7,242.6h3.6M172.5,240.8v3.6M171.0,242.8h3.6M172.8,241.0v3.6M171.6,242.9h3.6M173.4,241.1v3.6M171.8,243.2h3.6M173.6,241.4v3.6M172.2,243.8h3.6M174.0,242.0v3.6M172.6,244.0h3.6M174.4,242.2v3.6M173.1,243.5h3.6M174.9,241.7v3.6M173.1,244.1h3.6M174.9,242.3v3.6M173.9,243.7h3.6M175.7,241.9v3.6M174.3,243.9h3.6M176.1,242.1v3.6M174.5,244.5h3.6M176.3,242.7v3.6M175.2,244.1h3.6M177.0,242.3v3.6M174.9,244.3h3.6M176.7,242.5v3.6M175.7,244.9h3.6M177.5,243.1v3.6M176.1,244.9h3.6M177.9,243.1v3.6M176.6,244.8h3.6M178.4,243.0v3.6M176.6,245.2h3.6M178.4,243.4v3.6M177.2,245.4h3.6M179.0,243.6v3.6M177.9,245.1h3.6M179.7,243.3v3.6M177.8,245.0h3.6M179.6,243.2v3.6M178.3,245.3h3.6M180.1,243.5v3.6M178.5,245.5h3.6M180.3,243.7v3.6M179.2,245.8h3.6M181.0,244.0v3.6M179.4,245.9h3.6M181.2,244.1v3.6M179.9,246.2h3.6M181.7,244.4v3.6M180.3,246.3h3.6M182.1,244.5v3.6M180.3,246.4h3.6M182.1,244.6v3.6M180.5,246.5h3.6M182.3,244.7v3.6M180.9,246.5h3.6M182.7,244.7v3.6M181.5,246.2h3.6M183.3,244.4v3.6M182.3,246.3h3.6M184.1,244.5v3.6M182.6,246.4h3.6M184.4,244.6v3.6M182.6,246.8h3.6M184.4,245.0v3.6M183.3,247.1h3.6M185.1,245.3v3.6M183.5,247.4h3.6M185.3,245.6v3.6M183.6,247.0h3.6M185.4,245.2v3.6M184.3,247.5h3.6M186.1,245.7v3.6M184.9,247.8h3.6M186.7,246.0v3.6M185.0,247.7h3.6M186.8,245.9v3.6M185.6,247.5h3.6M187.4,245.7v3.6M185.8,247.8h3.6M187.6,246.0v3.6M186.3,248.0h3.6M188.1,246.2v3.6M186.4,247.9h3.6M188.2,246.1v3.6M186.9,247.9h3.6M188.7,246.1v3.6M187.6,248.7h3.6M189.4,246.9v3.6M188.0,248.2h3.6M189.8,246.4v3.6M188.2,248.2h3.6M190.0,246.4v3.6M188.3,248.5h3.6M190.1,246.7v3.6M189.0,248.9h3.6M190.8,247.1v3.6M189.3,248.7h3.6M191.1,246.9v3.6M189.7,249.3h3.6M191.5,247.5v3.6M190.4,249.1h3.6M192.2,247.3v3.6M190.4,249.6h3.6M192.2,247.8v3.6M191.3,249.2h3.6M193.1,247.4v3.6M193.1,249.8h3.6M194.9,248.0v3.6M194.0,250.2h3.6M195.8,248.4v3.6M195.1,250.8h3.6M196.9,249.0v3.6M196.0,251.0h3.6M197.8,249.2v3.6M197.3,252.0h3.6M199.1,250.2v3.6M198.0,252.2h3.6M199.8,250.4v3.6M199.6,252.4h3.6M201.4,250.6v3.6M199.9,253.1h3.6M201.7,251.3v3.6M201.9,253.5h3.6M203.7,251.7v3.6M202.8,253.7h3.6M204.6,251.9v3.6M203.6,253.7h3.6M205.4,251.9v3.6M205.4,254.4h3.6M207.2,252.6v3.6M206.1,254.8h3.6M207.9,253.0v3.6M207.6,255.2h3.6M209.4,253.4v3.6M209.0,255.5h3.6M210.8,253.7v3.6M211.0,255.7h3.6M212.8,253.9v3.6M212.9,255.8h3.6M214.7,254.0v3.6" stroke="#2ca02c" stroke-width="0.9" fill="none" opacity="1.0"/>
<path d="M215.75,256.39 H226.83 V258.04 H231.58 V260.10 H236.01 V261.96 H241.08 V264.02 H247.41 V266.08 H253.74 V267.73 H259.12 V268.76 H264.82 V270.20 H269.57 V270.82 H274.32 V271.44 H281.29 V271.44" stroke="#2ca02c" stroke-width="1.0" fill="none" opacity="0.8"/>
<path d="M217.12,256.60h3.60M218.92,254.80v3.60M220.28,257.01h3.60M222.08,255.21v3.60M229.78,260.10h3.60M231.58,258.30v3.60M242.44,265.26h3.60M244.24,263.46v3.60M253.52,268.35h3.60M255.32,266.55v3.60M274.10,271.44h3.60M275.90,269.64v3.60M278.85,271.44h3.60M280.65,269.64v3.60" stroke="#2ca02c" stroke-width="0.8" fill="none" opacity="0.8"/>
<path d="M46.5,67.4H291.5V273.5" fill="none" stroke="#a4a4a4" stroke-width="1.0"/>
<path d="M46.5,67.4V273.5" fill="none" stroke="#a4a4a4" stroke-width="1.0"/>
<line x1="46.5" y1="273.5" x2="291.5" y2="273.5" stroke="#a4a4a4" stroke-width="1.0"/>
<line x1="57.45" y1="273.50" x2="57.45" y2="274.80" stroke="#333" stroke-width="0.7"/>
<text x="57.45" y="279.50" font-size="5.0" text-anchor="middle" fill="#000" font-family='"Liberation Serif", serif' >0</text>
<text x="57.65" y="279.50" font-size="5.0" text-anchor="middle" fill="#000" opacity="0.55" font-family='"Liberation Serif", serif' >0</text>
<line x1="89.11" y1="273.50" x2="89.11" y2="274.80" stroke="#333" stroke-width="0.7"/>
<text x="89.11" y="279.50" font-size="5.0" text-anchor="middle" fill="#000" font-family='"Liberation Serif", serif' >20</text>
<text x="89.31" y="279.50" font-size="5.0" text-anchor="middle" fill="#000" opacity="0.55" font-family='"Liberation Serif", serif' >20</text>
<line x1="120.77" y1="273.50" x2="120.77" y2="274.80" stroke="#333" stroke-width="0.7"/>
<text x="120.77" y="279.50" font-size="5.0" text-anchor="middle" fill="#000" font-family='"Liberation Serif", serif' >40</text>
<text x="120.97" y="279.50" font-size="5.0" text-anchor="middle" fill="#000" opacity="0.55" font-family='"Liberation Serif", serif' >40</text>
<line x1="152.43" y1="273.50" x2="152.43" y2="274.80" stroke="#333" stroke-width="0.7"/>
<text x="152.43" y="279.50" font-size="5.0" text-anchor="middle" fill="#000" font-family='"Liberation Serif", serif' >60</text>
<text x="152.63" y="279.50" font-size="5.0" text-anchor="middle" fill="#000" opacity="0.55" font-family='"Liberation Serif", serif' >60</text>
<line x1="184.09" y1="273.50" x2="184.09" y2="274.80" stroke="#333" stroke-width="0.7"/>
<text x="184.09" y="279.50" font-size="5.0" text-anchor="middle" fill="#000" font-family='"Liberation Serif", serif' >80</text>
<text x="184.29" y="279.50" font-size="5.0" text-anchor="middle" fill="#000" opacity="0.55" font-family='"Liberation Serif", serif' >80</text>
<line x1="215.75" y1="273.50" x2="215.75" y2="274.80" stroke="#333" stroke-width="0.7"/>
<text x="215.75" y="279.50" font-size="5.0" text-anchor="middle" fill="#000" font-family='"Liberation Serif", serif' >100</text>
<text x="215.95" y="279.50" font-size="5.0" text-anchor="middle" fill="#000" opacity="0.55" font-family='"Liberation Serif", serif' >100</text>
<line x1="247.41" y1="273.50" x2="247.41" y2="274.80" stroke="#333" stroke-width="0.7"/>
<text x="247.41" y="279.50" font-size="5.0" text-anchor="middle" fill="#000" font-family='"Liberation Serif", serif' >120</text>
<text x="247.61" y="279.50" font-size="5.0" text-anchor="middle" fill="#000" opacity="0.55" font-family='"Liberation Serif", serif' >120</text>
<line x1="279.07" y1="273.50" x2="279.07" y2="274.80" stroke="#333" stroke-width="0.7"/>
<text x="279.07" y="279.50" font-size="5.0" text-anchor="middle" fill="#000" font-family='"Liberation Serif", serif' >140</text>
<text x="279.27" y="279.50" font-size="5.0" text-anchor="middle" fill="#000" opacity="0.55" font-family='"Liberation Serif", serif' >140</text>
<line x1="45.20" y1="273.50" x2="46.50" y2="273.50" stroke="#333" stroke-width="0.7"/>
<text x="44.20" y="275.15" font-size="5.0" text-anchor="end" fill="#000" font-family='"Liberation Serif", serif' >0.0</text>
<text x="44.40" y="275.15" font-size="5.0" text-anchor="end" fill="#000" opacity="0.55" font-family='"Liberation Serif", serif' >0.0</text>
<line x1="45.20" y1="232.28" x2="46.50" y2="232.28" stroke="#333" stroke-width="0.7"/>
<text x="44.20" y="233.93" font-size="5.0" text-anchor="end" fill="#000" font-family='"Liberation Serif", serif' >0.2</text>
<text x="44.40" y="233.93" font-size="5.0" text-anchor="end" fill="#000" opacity="0.55" font-family='"Liberation Serif", serif' >0.2</text>
<line x1="45.20" y1="191.06" x2="46.50" y2="191.06" stroke="#333" stroke-width="0.7"/>
<text x="44.20" y="192.71" font-size="5.0" text-anchor="end" fill="#000" font-family='"Liberation Serif", serif' >0.4</text>
<text x="44.40" y="192.71" font-size="5.0" text-anchor="end" fill="#000" opacity="0.55" font-family='"Liberation Serif", serif' >0.4</text>
<line x1="45.20" y1="149.84" x2="46.50" y2="149.84" stroke="#333" stroke-width="0.7"/>
<text x="44.20" y="151.49" font-size="5.0" text-anchor="end" fill="#000" font-family='"Liberation Serif", serif' >0.6</text>
<text x="44.40" y="151.49" font-size="5.0" text-anchor="end" fill="#000" opacity="0.55" font-family='"Liberation Serif", serif' >0.6</text>
<line x1="45.20" y1="108.62" x2="46.50" y2="108.62" stroke="#333" stroke-width="0.7"/>
<text x="44.20" y="110.27" font-size="5.0" text-anchor="end" fill="#000" font-family='"Liberation Serif", serif' >0.8</text>
<text x="44.40" y="110.27" font-size="5.0" text-anchor="end" fill="#000" opacity="0.55" font-family='"Liberation Serif", serif' >0.8</text>
<line x1="45.20" y1="67.40" x2="46.50" y2="67.40" stroke="#333" stroke-width="0.7"/>
<text x="44.20" y="69.05" font-size="5.0" text-anchor="end" fill="#000" font-family='"Liberation Serif", serif' >1.0</text>
<text x="44.40" y="69.05" font-size="5.0" text-anchor="end" fill="#000" opacity="0.55" font-family='"Liberation Serif", serif' >1.0</text>
<text x="168.70" y="289.80" font-size="7.1" text-anchor="middle" font-weight="bold" fill="#000" font-family='"Liberation Serif", serif' >Time (Months)</text>
<text x="168.90" y="289.80" font-size="7.1" text-anchor="middle" font-weight="bold" fill="#000" opacity="0.55" font-family='"Liberation Serif", serif' >Time (Months)</text>
<text x="0.00" y="0.00" font-size="7.15" text-anchor="middle" font-weight="bold" fill="#000" font-family='"Liberation Serif", serif' transform="translate(25.9,167.1) rotate(-90)">Real-World Overall Survival Proportion</text>
<text x="0.00" y="-0.20" font-size="7.15" text-anchor="middle" font-weight="bold" fill="#000" opacity="0.55" font-family='"Liberation Serif", serif' transform="translate(25.9,167.1) rotate(-90)">Real-World Overall Survival Proportion</text>
<text x="16.60" y="301.40" font-size="7.05" text-anchor="start" font-weight="bold" fill="#000" font-family='"Liberation Serif", serif' >EOEGC</text>
<text x="16.80" y="301.40" font-size="7.05" text-anchor="start" font-weight="bold" fill="#000" opacity="0.55" font-family='"Liberation Serif", serif' >EOEGC</text>
<text x="67.40" y="301.40" font-size="7.1" text-anchor="end" fill="#000" font-family='"Liberation Serif", serif' >999</text>
<text x="67.60" y="301.40" font-size="7.1" text-anchor="end" fill="#000" opacity="0.55" font-family='"Liberation Serif", serif' >999</text>
<text x="98.50" y="301.40" font-size="7.1" text-anchor="end" fill="#000" font-family='"Liberation Serif", serif' >318</text>
<text x="98.70" y="301.40" font-size="7.1" text-anchor="end" fill="#000" opacity="0.55" font-family='"Liberation Serif", serif' >318</text>
<text x="126.60" y="301.40" font-size="7.1" text-anchor="end" fill="#000" font-family='"Liberation Serif", serif' >117</text>
<text x="126.80" y="301.40" font-size="7.1" text-anchor="end" fill="#000" opacity="0.55" font-family='"Liberation Serif", serif' >117</text>
<text x="159.50" y="301.40" font-size="7.1" text-anchor="end" fill="#000" font-family='"Liberation Serif", serif' >36</text>
<text x="159.70" y="301.40" font-size="7.1" text-anchor="end" fill="#000" opacity="0.55" font-family='"Liberation Serif", serif' >36</text>
<text x="189.30" y="301.40" font-size="7.1" text-anchor="end" fill="#000" font-family='"Liberation Serif", serif' >12</text>
<text x="189.50" y="301.40" font-size="7.1" text-anchor="end" fill="#000" opacity="0.55" font-family='"Liberation Serif", serif' >12</text>
<text x="219.20" y="301.40" font-size="7.1" text-anchor="end" fill="#000" font-family='"Liberation Serif", serif' >2</text>
<text x="219.40" y="301.40" font-size="7.1" text-anchor="end" fill="#000" opacity="0.55" font-family='"Liberation Serif", serif' >2</text>
<text x="250.50" y="301.40" font-size="7.1" text-anchor="middle" fill="#000" font-family='"Liberation Serif", serif' >0</text>
<text x="250.70" y="301.40" font-size="7.1" text-anchor="middle" fill="#000" opacity="0.55" font-family='"Liberation Serif", serif' >0</text>
<text x="280.20" y="301.40" font-size="7.1" text-anchor="middle" fill="#000" font-family='"Liberation Serif", serif' >0</text>
<text x="280.40" y="301.40" font-size="7.1" text-anchor="middle" fill="#000" opacity="0.55" font-family='"Liberation Serif", serif' >0</text>
<text x="16.60" y="311.50" font-size="7.05" text-anchor="start" font-weight="bold" fill="#000" font-family='"Liberation Serif", serif' >IOEGC</text>
<text x="16.80" y="311.50" font-size="7.05" text-anchor="start" font-weight="bold" fill="#000" opacity="0.55" font-family='"Liberation Serif", serif' >IOEGC</text>
<text x="67.40" y="311.50" font-size="7.1" text-anchor="end" fill="#000" font-family='"Liberation Serif", serif' >3112</text>
<text x="67.60" y="311.50" font-size="7.1" text-anchor="end" fill="#000" opacity="0.55" font-family='"Liberation Serif", serif' >3112</text>
<text x="98.50" y="311.50" font-size="7.1" text-anchor="end" fill="#000" font-family='"Liberation Serif", serif' >1198</text>
<text x="98.70" y="311.50" font-size="7.1" text-anchor="end" fill="#000" opacity="0.55" font-family='"Liberation Serif", serif' >1198</text>
<text x="126.60" y="311.50" font-size="7.1" text-anchor="end" fill="#000" font-family='"Liberation Serif", serif' >423</text>
<text x="126.80" y="311.50" font-size="7.1" text-anchor="end" fill="#000" opacity="0.55" font-family='"Liberation Serif", serif' >423</text>
<text x="159.50" y="311.50" font-size="7.1" text-anchor="end" fill="#000" font-family='"Liberation Serif", serif' >116</text>
<text x="159.70" y="311.50" font-size="7.1" text-anchor="end" fill="#000" opacity="0.55" font-family='"Liberation Serif", serif' >116</text>
<text x="189.30" y="311.50" font-size="7.1" text-anchor="end" fill="#000" font-family='"Liberation Serif", serif' >56</text>
<text x="189.50" y="311.50" font-size="7.1" text-anchor="end" fill="#000" opacity="0.55" font-family='"Liberation Serif", serif' >56</text>
<text x="219.20" y="311.50" font-size="7.1" text-anchor="end" fill="#000" font-family='"Liberation Serif", serif' >14</text>
<text x="219.40" y="311.50" font-size="7.1" text-anchor="end" fill="#000" opacity="0.55" font-family='"Liberation Serif", serif' >14</text>
<text x="250.50" y="311.50" font-size="7.1" text-anchor="middle" fill="#000" font-family='"Liberation Serif", serif' >5</text>
<text x="250.70" y="311.50" font-size="7.1" text-anchor="middle" fill="#000" opacity="0.55" font-family='"Liberation Serif", serif' >5</text>
<text x="280.20" y="311.50" font-size="7.1" text-anchor="middle" fill="#000" font-family='"Liberation Serif", serif' >0</text>
<text x="280.40" y="311.50" font-size="7.1" text-anchor="middle" fill="#000" opacity="0.55" font-family='"Liberation Serif", serif' >0</text>
<text x="16.60" y="321.50" font-size="7.05" text-anchor="start" font-weight="bold" fill="#000" font-family='"Liberation Serif", serif' >AOEGC</text>
<text x="16.80" y="321.50" font-size="7.05" text-anchor="start" font-weight="bold" fill="#000" opacity="0.55" font-family='"Liberation Serif", serif' >AOEGC</text>
<text x="67.40" y="321.50" font-size="7.1" text-anchor="end" fill="#000" font-family='"Liberation Serif", serif' >4284</text>
<text x="67.60" y="321.50" font-size="7.1" text-anchor="end" fill="#000" opacity="0.55" font-family='"Liberation Serif", serif' >4284</text>
<text x="98.50" y="321.50" font-size="7.1" text-anchor="end" fill="#000" font-family='"Liberation Serif", serif' >1666</text>
<text x="98.70" y="321.50" font-size="7.1" text-anchor="end" fill="#000" opacity="0.55" font-family='"Liberation Serif", serif' >1666</text>
<text x="126.60" y="321.50" font-size="7.1" text-anchor="end" fill="#000" font-family='"Liberation Serif", serif' >730</text>
<text x="126.80" y="321.50" font-size="7.1" text-anchor="end" fill="#000" opacity="0.55" font-family='"Liberation Serif", serif' >730</text>
<text x="159.50" y="321.50" font-size="7.1" text-anchor="end" fill="#000" font-family='"Liberation Serif", serif' >335</text>
<text x="159.70" y="321.50" font-size="7.1" text-anchor="end" fill="#000" opacity="0.55" font-family='"Liberation Serif", serif' >335</text>
<text x="189.30" y="321.50" font-size="7.1" text-anchor="end" fill="#000" font-family='"Liberation Serif", serif' >155</text>
<text x="189.50" y="321.50" font-size="7.1" text-anchor="end" fill="#000" opacity="0.55" font-family='"Liberation Serif", serif' >155</text>
<text x="219.20" y="321.50" font-size="7.1" text-anchor="end" fill="#000" font-family='"Liberation Serif", serif' >68</text>
<text x="219.40" y="321.50" font-size="7.1" text-anchor="end" fill="#000" opacity="0.55" font-family='"Liberation Serif", serif' >68</text>
<text x="250.50" y="321.50" font-size="7.1" text-anchor="middle" fill="#000" font-family='"Liberation Serif", serif' >16</text>
<text x="250.70" y="321.50" font-size="7.1" text-anchor="middle" fill="#000" opacity="0.55" font-family='"Liberation Serif", serif' >16</text>
<text x="280.20" y="321.50" font-size="7.1" text-anchor="middle" fill="#000" font-family='"Liberation Serif", serif' >2</text>
<text x="280.40" y="321.50" font-size="7.1" text-anchor="middle" fill="#000" opacity="0.55" font-family='"Liberation Serif", serif' >2</text>
<rect x="232.5" y="70.5" width="57" height="26" fill="#fff" stroke="#8a939a" stroke-width="1.0"/>
<line x1="239.9" y1="75.4" x2="258" y2="75.4" stroke="#9cc0e6" stroke-width="1.1"/>
<text x="286.00" y="77.80" font-size="7.0" text-anchor="end" fill="#000" font-family='"Liberation Serif", serif' >EOEGC</text>
<text x="286.20" y="77.80" font-size="7.0" text-anchor="end" fill="#000" opacity="0.55" font-family='"Liberation Serif", serif' >EOEGC</text>
<line x1="239.9" y1="84.2" x2="258" y2="84.2" stroke="#f4bca0" stroke-width="1.1"/>
<text x="286.00" y="86.60" font-size="7.0" text-anchor="end" fill="#000" font-family='"Liberation Serif", serif' >IOEGC</text>
<text x="286.20" y="86.60" font-size="7.0" text-anchor="end" fill="#000" opacity="0.55" font-family='"Liberation Serif", serif' >IOEGC</text>
<line x1="239.9" y1="92.5" x2="258" y2="92.5" stroke="#94d084" stroke-width="1.1"/>
<text x="286.00" y="94.90" font-size="7.0" text-anchor="end" fill="#000" font-family='"Liberation Serif", serif' >AOEGC</text>
<text x="286.20" y="94.90" font-size="7.0" text-anchor="end" fill="#000" opacity="0.55" font-family='"Liberation Serif", serif' >AOEGC</text>
<line x1="399.40" y1="71.50" x2="399.40" y2="259.40" stroke="#e2e2e2" stroke-width="1"/>
<line x1="437.78" y1="71.50" x2="437.78" y2="259.40" stroke="#e2e2e2" stroke-width="1"/>
<line x1="476.16" y1="71.50" x2="476.16" y2="259.40" stroke="#e2e2e2" stroke-width="1"/>
<line x1="514.54" y1="71.50" x2="514.54" y2="259.40" stroke="#e2e2e2" stroke-width="1"/>
<line x1="552.92" y1="71.50" x2="552.92" y2="259.40" stroke="#e2e2e2" stroke-width="1"/>
<line x1="591.30" y1="71.50" x2="591.30" y2="259.40" stroke="#e2e2e2" stroke-width="1"/>
<line x1="629.68" y1="71.50" x2="629.68" y2="259.40" stroke="#e2e2e2" stroke-width="1"/>
<line x1="668.06" y1="71.50" x2="668.06" y2="259.40" stroke="#e2e2e2" stroke-width="1"/>
<line x1="386.40" y1="221.82" x2="683.50" y2="221.82" stroke="#e2e2e2" stroke-width="1"/>
<line x1="386.40" y1="184.24" x2="683.50" y2="184.24" stroke="#e2e2e2" stroke-width="1"/>
<line x1="386.40" y1="146.66" x2="683.50" y2="146.66" stroke="#e2e2e2" stroke-width="1"/>
<line x1="386.40" y1="109.08" x2="683.50" y2="109.08" stroke="#e2e2e2" stroke-width="1"/>
<text x="392.80" y="7.60" font-size="7.2" text-anchor="start" fill="#000" font-family='"Liberation Serif", serif' >EOEGC CDH1 WT: Median rwOS 18.7 months (95% CI: 16.7 months – 19.5 months)</text>
<text x="393.00" y="7.60" font-size="7.2" text-anchor="start" fill="#000" opacity="0.55" font-family='"Liberation Serif", serif' >EOEGC CDH1 WT: Median rwOS 18.7 months (95% CI: 16.7 months – 19.5 months)</text>
<text x="392.80" y="17.25" font-size="7.2" text-anchor="start" fill="#000" font-family='"Liberation Serif", serif' >EOEGC CDH1 MT: Median rwOS 15.1 months (95% CI: 10.9 months – 19.4 months)</text>
<text x="393.00" y="17.25" font-size="7.2" text-anchor="start" fill="#000" opacity="0.55" font-family='"Liberation Serif", serif' >EOEGC CDH1 MT: Median rwOS 15.1 months (95% CI: 10.9 months – 19.4 months)</text>
<text x="392.80" y="26.90" font-size="7.2" text-anchor="start" fill="#000" font-family='"Liberation Serif", serif' >IOEGC CDH1 WT: Median rwOS 21.0 months (95% CI: 19.6 months – 22.4 months)</text>
<text x="393.00" y="26.90" font-size="7.2" text-anchor="start" fill="#000" opacity="0.55" font-family='"Liberation Serif", serif' >IOEGC CDH1 WT: Median rwOS 21.0 months (95% CI: 19.6 months – 22.4 months)</text>
<text x="392.80" y="36.55" font-size="7.2" text-anchor="start" fill="#000" font-family='"Liberation Serif", serif' >IOEGC CDH1 MT: Median rwOS 17.4 months (95% CI: 14.1 months – 23.1 months)</text>
<text x="393.00" y="36.55" font-size="7.2" text-anchor="start" fill="#000" opacity="0.55" font-family='"Liberation Serif", serif' >IOEGC CDH1 MT: Median rwOS 17.4 months (95% CI: 14.1 months – 23.1 months)</text>
<text x="392.80" y="46.20" font-size="7.2" text-anchor="start" fill="#000" font-family='"Liberation Serif", serif' >AOEGC CDH1 WT: Median rwOS 20.6 months (95% CI: 19.1 months – 21.9 months)</text>
<text x="393.00" y="46.20" font-size="7.2" text-anchor="start" fill="#000" opacity="0.55" font-family='"Liberation Serif", serif' >AOEGC CDH1 WT: Median rwOS 20.6 months (95% CI: 19.1 months – 21.9 months)</text>
<text x="392.80" y="55.85" font-size="7.2" text-anchor="start" fill="#000" font-family='"Liberation Serif", serif' >AOEGC CDH1 MT: Median rwOS 20.4 months (95% CI: 16.3 months – 23.1 months)</text>
<text x="393.00" y="55.85" font-size="7.2" text-anchor="start" fill="#000" opacity="0.55" font-family='"Liberation Serif", serif' >AOEGC CDH1 MT: Median rwOS 20.4 months (95% CI: 16.3 months – 23.1 months)</text>
<text x="533.90" y="65.60" font-size="7.2" text-anchor="middle" fill="#000" font-family='"Liberation Serif", serif' >p&lt;0.001</text>
<text x="534.10" y="65.60" font-size="7.2" text-anchor="middle" fill="#000" opacity="0.55" font-family='"Liberation Serif", serif' >p&lt;0.001</text>
<path d="M399.4,71.5L399.9,73.1L400.4,74.7L400.8,76.2L401.3,77.8L401.8,79.4L402.3,81.0L402.8,82.6L403.2,84.2L403.7,85.7L404.2,87.3L404.7,88.8L405.2,90.3L405.7,91.9L406.2,93.5L406.7,95.1L407.3,96.7L407.8,98.2L408.3,99.8L408.9,101.3L409.4,102.8L409.9,104.4L410.4,105.9L411.0,107.5L411.5,109.1L412.0,110.6L412.5,112.2L413.0,113.8L413.5,115.3L414.0,116.9L414.6,118.5L415.1,120.1L415.6,121.7L416.1,123.2L416.6,124.8L417.1,126.3L417.6,127.9L418.2,129.5L418.7,131.1L419.3,132.8L419.8,134.4L420.3,136.0L420.9,137.6L421.4,139.2L422.0,140.8L422.5,142.3L423.1,143.8L423.6,145.3L424.2,146.7L424.9,148.6L425.7,150.4L426.5,152.2L427.3,154.0L428.1,155.7L428.9,157.3L429.6,159.0L430.4,160.6L431.2,162.2L432.0,163.8L432.8,165.5L433.6,167.1L434.2,168.6L434.9,170.1L435.6,171.7L436.2,173.3L436.9,174.8L437.6,176.4L438.3,177.9L438.9,179.3L439.6,180.7L440.3,182.0L440.9,183.2L441.6,184.2L442.1,184.9L442.6,185.6L443.1,186.2L443.5,186.7L444.0,187.3L444.5,187.8L445.0,188.3L445.5,188.8L445.9,189.3L446.4,189.8L446.9,190.3L447.4,190.8L448.0,191.4L448.5,192.0L449.1,192.6L449.7,193.2L450.3,193.8L450.8,194.4L451.4,194.9L452.0,195.5L452.6,196.1L453.1,196.6L453.7,197.2L454.3,197.8L455.2,198.7L456.1,199.6L457.0,200.6L457.9,201.5L458.8,202.5L459.7,203.4L460.6,204.4L461.4,205.2L462.3,206.1L463.2,206.9L464.1,207.6L465.0,208.3L466.0,208.9L466.9,209.5L467.8,210.1L468.7,210.6L469.7,211.1L470.6,211.6L471.5,212.1L472.4,212.6L473.4,213.0L474.3,213.4L475.2,213.9L476.2,214.3L476.8,214.6L477.5,214.9L478.2,215.2L478.9,215.5L479.6,215.7L480.3,216.0L481.0,216.3L481.7,216.5L482.3,216.8L483.0,217.1L483.7,217.4L484.4,217.7L485.2,218.1L486.0,218.5L486.9,218.9L487.7,219.4L488.5,219.9L489.3,220.3L490.1,220.8L490.9,221.3L491.8,221.8L492.6,222.2L493.4,222.7L494.2,223.1L495.9,224.0L497.6,225.0L499.3,225.9L501.0,226.8L502.7,227.7L504.4,228.7L506.1,229.5L507.8,230.4L509.5,231.2L511.1,231.9L512.8,232.6L514.5,233.3L515.2,233.5L515.8,233.7L516.5,233.9L517.1,234.1L517.7,234.3L518.4,234.5L519.0,234.7L519.7,234.9L520.3,235.0L520.9,235.2L521.6,235.4L522.2,235.5L523.5,235.9L524.8,236.2L526.1,236.5L527.3,236.9L528.6,237.2L529.9,237.5L531.2,237.8L532.5,238.1L533.7,238.3L535.0,238.6L536.3,238.9L537.6,239.1L538.8,239.3L540.1,239.5L541.4,239.7L542.7,239.9L544.0,240.1L545.2,240.3L546.5,240.5L547.8,240.6L549.1,240.8L550.4,241.0L551.6,241.2L552.9,241.4" stroke="#1f77b4" stroke-width="1.0" fill="none" opacity="0.9"/>
<path d="M397.3,71.7h3.6M399.1,69.9v3.6M398.2,73.0h3.6M400.0,71.2v3.6M398.3,74.8h3.6M400.1,73.0v3.6M399.2,76.1h3.6M401.0,74.3v3.6M399.5,77.4h3.6M401.3,75.6v3.6M399.5,79.1h3.6M401.3,77.3v3.6M400.5,80.3h3.6M402.3,78.5v3.6M401.1,82.0h3.6M402.9,80.2v3.6M401.1,83.4h3.6M402.9,81.6v3.6M402.2,85.5h3.6M404.0,83.7v3.6M402.6,86.9h3.6M404.4,85.1v3.6M402.4,88.2h3.6M404.2,86.4v3.6M403.2,89.6h3.6M405.0,87.8v3.6M404.1,91.3h3.6M405.9,89.5v3.6M403.9,93.2h3.6M405.7,91.4v3.6M404.4,94.8h3.6M406.2,93.0v3.6M405.2,96.0h3.6M407.0,94.2v3.6M405.6,97.4h3.6M407.4,95.6v3.6M406.0,98.6h3.6M407.8,96.8v3.6M407.1,100.3h3.6M408.9,98.5v3.6M407.5,101.8h3.6M409.3,100.0v3.6M408.2,103.8h3.6M410.0,102.0v3.6M408.5,105.2h3.6M410.3,103.4v3.6M408.9,106.7h3.6M410.7,104.9v3.6M409.0,108.0h3.6M410.8,106.2v3.6M410.1,109.3h3.6M411.9,107.5v3.6M410.7,111.4h3.6M412.5,109.6v3.6M410.8,112.5h3.6M412.6,110.7v3.6M411.3,114.0h3.6M413.1,112.2v3.6M412.2,115.6h3.6M414.0,113.8v3.6M412.0,116.9h3.6M413.8,115.1v3.6M413.0,119.1h3.6M414.8,117.3v3.6M413.3,120.2h3.6M415.1,118.4v3.6M413.8,121.9h3.6M415.6,120.1v3.6M414.1,123.4h3.6M415.9,121.6v3.6M414.8,124.9h3.6M416.6,123.1v3.6M415.1,126.0h3.6M416.9,124.2v3.6M415.7,128.2h3.6M417.5,126.4v3.6M416.2,129.4h3.6M418.0,127.6v3.6M416.7,130.5h3.6M418.5,128.7v3.6M417.0,132.6h3.6M418.8,130.8v3.6M418.1,133.8h3.6M419.9,132.0v3.6M418.5,135.6h3.6M420.3,133.8v3.6M419.2,137.3h3.6M421.0,135.5v3.6M419.3,138.8h3.6M421.1,137.0v3.6M420.3,140.0h3.6M422.1,138.2v3.6M420.7,141.5h3.6M422.5,139.7v3.6M420.9,142.8h3.6M422.7,141.0v3.6M421.8,144.2h3.6M423.6,142.4v3.6M421.7,146.2h3.6M423.5,144.4v3.6M422.9,147.4h3.6M424.7,145.6v3.6M423.6,148.6h3.6M425.4,146.8v3.6M423.7,150.2h3.6M425.5,148.4v3.6M424.5,151.6h3.6M426.3,149.8v3.6M424.9,153.2h3.6M426.7,151.4v3.6M426.2,155.2h3.6M428.0,153.4v3.6M426.7,156.2h3.6M428.5,154.4v3.6M427.0,158.1h3.6M428.8,156.3v3.6M427.9,159.3h3.6M429.7,157.5v3.6M428.2,160.3h3.6M430.0,158.5v3.6M429.6,162.2h3.6M431.4,160.4v3.6M430.3,163.5h3.6M432.1,161.7v3.6M430.6,165.0h3.6M432.4,163.2v3.6M431.7,166.2h3.6M433.5,164.4v3.6M432.1,167.6h3.6M433.9,165.8v3.6M432.9,168.9h3.6M434.7,167.1v3.6M433.5,171.1h3.6M435.3,169.3v3.6M433.6,172.3h3.6M435.4,170.5v3.6M434.7,173.9h3.6M436.5,172.1v3.6M435.3,174.9h3.6M437.1,173.1v3.6M435.8,177.0h3.6M437.6,175.2v3.6M436.9,177.8h3.6M438.7,176.0v3.6M436.9,179.2h3.6M438.7,177.4v3.6M437.5,180.9h3.6M439.3,179.1v3.6M438.4,182.6h3.6M440.2,180.8v3.6M439.6,183.4h3.6M441.4,181.6v3.6M440.4,184.9h3.6M442.2,183.1v3.6M441.4,186.1h3.6M443.2,184.3v3.6M442.2,187.3h3.6M444.0,185.5v3.6M443.4,188.9h3.6M445.2,187.1v3.6M444.7,189.5h3.6M446.5,187.7v3.6M445.9,191.3h3.6M447.7,189.5v3.6M447.1,192.4h3.6M448.9,190.6v3.6M447.6,193.3h3.6M449.4,191.5v3.6M448.7,194.6h3.6M450.5,192.8v3.6M450.0,195.7h3.6M451.8,193.9v3.6M451.2,196.8h3.6M453.0,195.0v3.6M452.4,197.4h3.6M454.2,195.6v3.6M453.5,198.8h3.6M455.3,197.0v3.6M455.1,199.9h3.6M456.9,198.1v3.6M455.8,201.3h3.6M457.6,199.5v3.6M457.3,202.1h3.6M459.1,200.3v3.6M458.1,203.6h3.6M459.9,201.8v3.6M459.3,205.1h3.6M461.1,203.3v3.6M460.1,206.0h3.6M461.9,204.2v3.6M461.5,207.0h3.6M463.3,205.2v3.6M462.4,208.2h3.6M464.2,206.4v3.6M464.4,208.7h3.6M466.2,206.9v3.6M465.2,210.1h3.6M467.0,208.3v3.6M466.4,210.2h3.6M468.2,208.4v3.6M467.8,211.5h3.6M469.6,209.7v3.6M469.8,212.0h3.6M471.6,210.2v3.6M471.1,212.3h3.6M472.9,210.5v3.6M472.6,213.4h3.6M474.4,211.6v3.6M473.9,214.0h3.6M475.7,212.2v3.6M475.3,214.5h3.6M477.1,212.7v3.6M476.8,215.2h3.6M478.6,213.4v3.6M480.5,216.9h3.6M482.3,215.1v3.6M482.7,217.7h3.6M484.5,215.9v3.6M485.6,219.6h3.6M487.4,217.8v3.6M487.0,220.1h3.6M488.8,218.3v3.6M490.5,222.1h3.6M492.3,220.3v3.6M493.4,223.7h3.6M495.2,221.9v3.6M496.9,225.6h3.6M498.7,223.8v3.6M499.0,226.5h3.6M500.8,224.7v3.6M501.9,228.5h3.6M503.7,226.7v3.6M505.2,230.1h3.6M507.0,228.3v3.6M507.7,231.0h3.6M509.5,229.2v3.6M510.4,232.3h3.6M512.2,230.5v3.6M515.0,233.9h3.6M516.8,232.1v3.6M516.9,234.6h3.6M518.7,232.8v3.6M518.4,235.2h3.6M520.2,233.4v3.6M521.8,236.3h3.6M523.6,234.5v3.6M524.2,236.8h3.6M526.0,235.0v3.6M526.4,236.8h3.6M528.2,235.0v3.6M529.3,237.7h3.6M531.1,235.9v3.6M533.7,238.7h3.6M535.5,236.9v3.6M536.8,239.1h3.6M538.6,237.3v3.6M539.5,239.5h3.6M541.3,237.7v3.6M543.6,240.6h3.6M545.4,238.8v3.6M548.4,240.6h3.6M550.2,238.8v3.6" stroke="#1f77b4" stroke-width="0.8" fill="none" opacity="0.9"/>
<path d="M552.92,241.36 H555.03 V244.37 H556.76 V246.62 H564.43 V250.00 H570.96 V253.01 H639.27 V253.01" stroke="#1f77b4" stroke-width="1.0" fill="none" opacity="0.9"/>
<path d="M558.80,246.62h3.60M560.60,244.82v3.60M572.23,253.01h3.60M574.03,251.21v3.60M589.50,253.01h3.60M591.30,251.21v3.60" stroke="#1f77b4" stroke-width="0.8" fill="none" opacity="0.9"/>
<path d="M399.40,71.50 H401.32 V77.14 H403.24 V82.77 H405.16 V84.65 H407.46 V90.29 H408.42 V101.56 H409.38 V109.08 H410.15 V115.66 H411.87 V124.11 H413.79 V129.75 H414.75 V136.33 H416.10 V142.90 H417.82 V149.48 H420.51 V153.24 H424.73 V157.93 H427.03 V163.57 H429.34 V171.09 H430.87 V176.72 H433.94 V180.48 H436.82 V184.24 H440.27 V188.56 H443.54 V191.76 H447.38 V194.57 H450.83 V197.39 H454.09 V201.15 H456.78 V204.35 H460.62 V210.36 H480.96 V215.81 H482.88 V223.70 H489.02 V230.46 H514.73 V244.93 H522.79 V259.40" stroke="#ff7f0e" stroke-width="1.0" fill="none"/>
<path d="M407.19,105.32h3.60M409.00,103.52v3.60M411.03,127.87h3.60M412.83,126.07v3.60M414.87,142.90h3.60M416.67,141.10v3.60M420.63,156.05h3.60M422.43,154.25v3.60M426.38,165.45h3.60M428.19,163.65v3.60M434.06,180.48h3.60M435.86,178.68v3.60M443.66,191.76h3.60M445.46,189.96v3.60M451.33,199.27h3.60M453.13,197.47v3.60M464.76,210.36h3.60M466.56,208.56v3.60M474.36,210.36h3.60M476.16,208.56v3.60M497.39,230.46h3.60M499.19,228.66v3.60M503.14,230.46h3.60M504.94,228.66v3.60" stroke="#ff7f0e" stroke-width="0.8" fill="none" opacity="1.0"/>
<path d="M399.4,71.5L400.0,73.1L400.6,74.7L401.2,76.2L401.8,77.8L402.4,79.4L403.0,81.0L403.7,82.6L404.3,84.2L404.9,85.7L405.5,87.3L406.1,88.8L406.7,90.3L407.4,91.9L408.0,93.5L408.7,95.1L409.4,96.7L410.1,98.3L410.7,99.9L411.4,101.4L412.1,103.0L412.7,104.5L413.4,106.0L414.1,107.6L414.8,109.1L415.4,110.6L416.1,112.1L416.8,113.5L417.4,115.0L418.1,116.4L418.8,117.8L419.5,119.3L420.1,120.7L420.8,122.2L421.5,123.8L422.1,125.3L422.8,126.9L423.4,128.5L424.0,130.1L424.6,131.7L425.2,133.5L425.9,135.2L426.5,137.0L427.1,138.7L427.7,140.4L428.3,142.1L428.9,143.7L429.5,145.2L430.1,146.7L431.0,148.7L431.9,150.6L432.8,152.5L433.7,154.3L434.6,156.0L435.5,157.8L436.4,159.4L437.3,161.0L438.2,162.6L439.1,164.2L440.0,165.7L440.9,167.1L441.9,168.8L442.9,170.3L443.9,171.8L444.9,173.3L445.9,174.7L446.9,176.1L447.9,177.4L448.9,178.8L449.9,180.2L450.9,181.5L451.9,182.9L452.9,184.2L453.8,185.4L454.6,186.5L455.4,187.7L456.2,188.9L457.0,190.1L457.8,191.2L458.6,192.4L459.5,193.5L460.3,194.5L461.1,195.6L461.9,196.5L462.7,197.4L463.4,198.0L464.0,198.7L464.6,199.3L465.3,199.9L465.9,200.5L466.6,201.1L467.2,201.6L467.8,202.1L468.5,202.6L469.1,203.1L469.8,203.5L470.4,204.0L470.9,204.3L471.4,204.5L471.8,204.8L472.3,205.0L472.8,205.3L473.3,205.5L473.8,205.7L474.2,206.0L474.7,206.2L475.2,206.4L475.7,206.7L476.2,207.0L477.0,207.5L477.9,208.1L478.8,208.7L479.6,209.4L480.5,210.0L481.3,210.7L482.2,211.4L483.1,212.0L483.9,212.6L484.8,213.2L485.7,213.8L486.5,214.3L487.2,214.7L487.8,215.0L488.4,215.3L489.1,215.6L489.7,215.9L490.4,216.2L491.0,216.5L491.6,216.8L492.3,217.0L492.9,217.3L493.6,217.6L494.2,217.9L495.9,218.6L497.6,219.3L499.3,220.0L501.0,220.6L502.7,221.3L504.4,221.9L506.1,222.6L507.8,223.2L509.5,223.9L511.1,224.6L512.8,225.2L514.5,226.0L516.5,226.8L518.4,227.7L520.4,228.7L522.3,229.6L524.3,230.6L526.2,231.6L528.2,232.6L530.1,233.5L532.1,234.4L534.0,235.3L536.0,236.1L538.0,236.9L539.2,237.3L540.4,237.7L541.7,238.2L542.9,238.6L544.2,239.0L545.4,239.4L546.7,239.8L547.9,240.1L549.2,240.5L550.4,240.8L551.7,241.1L552.9,241.4L553.9,241.6L554.9,241.8L555.9,242.0L556.9,242.1L558.0,242.3L559.0,242.5L560.0,242.6L561.0,242.8L562.0,242.9L563.0,243.1L564.0,243.3L565.0,243.4" stroke="#2ca02c" stroke-width="1.0" fill="none" opacity="1.0"/>
<path d="M398.0,71.2h3.6M399.8,69.4v3.6M397.5,72.6h3.6M399.3,70.8v3.6M397.9,72.7h3.6M399.7,70.9v3.6M398.6,73.6h3.6M400.4,71.8v3.6M399.1,74.3h3.6M400.9,72.5v3.6M399.4,75.1h3.6M401.2,73.3v3.6M399.4,76.3h3.6M401.2,74.5v3.6M399.8,77.1h3.6M401.6,75.3v3.6M400.1,77.1h3.6M401.9,75.3v3.6M400.5,78.3h3.6M402.3,76.5v3.6M400.3,78.7h3.6M402.1,76.9v3.6M401.0,79.8h3.6M402.8,78.0v3.6M401.4,80.7h3.6M403.2,78.9v3.6M401.7,81.3h3.6M403.5,79.5v3.6M401.8,82.0h3.6M403.6,80.2v3.6M401.7,83.1h3.6M403.5,81.3v3.6M402.0,83.7h3.6M403.8,81.9v3.6M402.8,84.3h3.6M404.6,82.5v3.6M402.5,85.2h3.6M404.3,83.4v3.6M403.2,85.4h3.6M405.0,83.6v3.6M403.0,86.5h3.6M404.8,84.7v3.6M403.3,87.5h3.6M405.1,85.7v3.6M403.9,87.9h3.6M405.7,86.1v3.6M404.2,88.8h3.6M406.0,87.0v3.6M404.9,89.2h3.6M406.7,87.4v3.6M404.7,90.2h3.6M406.5,88.4v3.6M405.0,91.0h3.6M406.8,89.2v3.6M405.5,91.6h3.6M407.3,89.8v3.6M405.9,92.4h3.6M407.7,90.6v3.6M405.7,93.5h3.6M407.5,91.7v3.6M406.2,93.8h3.6M408.0,92.0v3.6M406.6,94.9h3.6M408.4,93.1v3.6M407.3,95.3h3.6M409.1,93.5v3.6M407.2,95.7h3.6M409.0,93.9v3.6M407.9,96.5h3.6M409.7,94.7v3.6M408.0,97.4h3.6M409.8,95.6v3.6M408.1,98.1h3.6M409.9,96.3v3.6M408.3,98.6h3.6M410.1,96.8v3.6M408.9,100.0h3.6M410.7,98.2v3.6M409.3,100.2h3.6M411.1,98.4v3.6M409.7,100.8h3.6M411.5,99.0v3.6M409.7,102.2h3.6M411.5,100.4v3.6M410.5,102.6h3.6M412.3,100.8v3.6M410.7,103.4h3.6M412.5,101.6v3.6M410.8,104.2h3.6M412.6,102.4v3.6M411.5,105.1h3.6M413.3,103.3v3.6M411.4,105.8h3.6M413.2,104.0v3.6M411.9,106.2h3.6M413.7,104.4v3.6M412.3,107.3h3.6M414.1,105.5v3.6M412.5,108.2h3.6M414.3,106.4v3.6M412.3,108.5h3.6M414.1,106.7v3.6M413.1,109.1h3.6M414.9,107.3v3.6M413.1,110.1h3.6M414.9,108.3v3.6M413.6,110.5h3.6M415.4,108.7v3.6M413.6,111.8h3.6M415.4,110.0v3.6M414.2,111.9h3.6M416.0,110.1v3.6M414.5,112.7h3.6M416.3,110.9v3.6M415.3,113.4h3.6M417.1,111.6v3.6M415.2,114.0h3.6M417.0,112.2v3.6M415.7,114.8h3.6M417.5,113.0v3.6M415.9,116.0h3.6M417.7,114.2v3.6M416.7,116.8h3.6M418.5,115.0v3.6M416.3,117.2h3.6M418.1,115.4v3.6M417.3,117.6h3.6M419.1,115.8v3.6M417.1,118.7h3.6M418.9,116.9v3.6M417.6,119.6h3.6M419.4,117.8v3.6M418.2,120.1h3.6M420.0,118.3v3.6M418.2,120.7h3.6M420.0,118.9v3.6M418.5,121.3h3.6M420.3,119.5v3.6M419.2,122.1h3.6M421.0,120.3v3.6M419.7,123.2h3.6M421.5,121.4v3.6M419.3,123.8h3.6M421.1,122.0v3.6M420.1,124.2h3.6M421.9,122.4v3.6M420.3,124.9h3.6M422.1,123.1v3.6M420.8,125.6h3.6M422.6,123.8v3.6M421.0,127.1h3.6M422.8,125.3v3.6M421.5,127.3h3.6M423.3,125.5v3.6M421.6,128.0h3.6M423.4,126.2v3.6M421.7,129.3h3.6M423.5,127.5v3.6M422.4,129.3h3.6M424.2,127.5v3.6M422.3,130.6h3.6M424.1,128.8v3.6M422.4,131.5h3.6M424.2,129.7v3.6M423.2,132.0h3.6M425.0,130.2v3.6M423.1,133.0h3.6M424.9,131.2v3.6M423.5,133.3h3.6M425.3,131.5v3.6M423.5,134.0h3.6M425.3,132.2v3.6M424.3,135.0h3.6M426.1,133.2v3.6M424.4,136.0h3.6M426.2,134.2v3.6M424.9,136.3h3.6M426.7,134.5v3.6M424.7,137.6h3.6M426.5,135.8v3.6M425.2,137.9h3.6M427.0,136.1v3.6M425.4,138.5h3.6M427.2,136.7v3.6M425.3,139.2h3.6M427.1,137.4v3.6M425.7,140.1h3.6M427.5,138.3v3.6M426.1,141.4h3.6M427.9,139.6v3.6M426.1,141.8h3.6M427.9,140.0v3.6M426.9,142.6h3.6M428.7,140.8v3.6M427.0,143.5h3.6M428.8,141.7v3.6M426.8,144.4h3.6M428.6,142.6v3.6M427.7,145.0h3.6M429.5,143.2v3.6M428.1,145.2h3.6M429.9,143.4v3.6M427.8,146.0h3.6M429.6,144.2v3.6M428.5,147.4h3.6M430.3,145.6v3.6M429.1,147.7h3.6M430.9,145.9v3.6M429.2,148.7h3.6M431.0,146.9v3.6M429.3,149.6h3.6M431.1,147.8v3.6M430.1,150.1h3.6M431.9,148.3v3.6M430.4,150.9h3.6M432.2,149.1v3.6M430.6,151.2h3.6M432.4,149.4v3.6M430.6,151.9h3.6M432.4,150.1v3.6M430.8,153.1h3.6M432.6,151.3v3.6M431.4,153.1h3.6M433.2,151.3v3.6M431.7,153.9h3.6M433.5,152.1v3.6M432.2,154.8h3.6M434.0,153.0v3.6M432.3,155.6h3.6M434.1,153.8v3.6M432.9,156.3h3.6M434.7,154.5v3.6M433.6,156.9h3.6M435.4,155.1v3.6M433.7,158.1h3.6M435.5,156.3v3.6M434.4,158.4h3.6M436.2,156.6v3.6M434.1,159.6h3.6M435.9,157.8v3.6M434.9,159.7h3.6M436.7,157.9v3.6M434.9,160.4h3.6M436.7,158.6v3.6M435.5,161.0h3.6M437.3,159.2v3.6M435.7,162.4h3.6M437.5,160.6v3.6M436.7,162.4h3.6M438.5,160.6v3.6M436.8,163.6h3.6M438.6,161.8v3.6M437.2,163.7h3.6M439.0,161.9v3.6M437.5,164.7h3.6M439.3,162.9v3.6M438.4,165.5h3.6M440.2,163.7v3.6M438.4,166.2h3.6M440.2,164.4v3.6M438.5,167.0h3.6M440.3,165.2v3.6M439.5,167.6h3.6M441.3,165.8v3.6M439.6,168.0h3.6M441.4,166.2v3.6M439.7,168.5h3.6M441.5,166.7v3.6M440.3,169.5h3.6M442.1,167.7v3.6M441.2,170.0h3.6M443.0,168.2v3.6M441.4,171.0h3.6M443.2,169.2v3.6M442.0,171.1h3.6M443.8,169.3v3.6M442.7,172.3h3.6M444.5,170.5v3.6M442.6,172.6h3.6M444.4,170.8v3.6M443.4,173.8h3.6M445.2,172.0v3.6M443.6,174.1h3.6M445.4,172.3v3.6M444.2,174.5h3.6M446.0,172.7v3.6M444.6,175.8h3.6M446.4,174.0v3.6M445.2,176.4h3.6M447.0,174.6v3.6M445.4,177.0h3.6M447.2,175.2v3.6M446.3,177.2h3.6M448.1,175.4v3.6M446.6,178.2h3.6M448.4,176.4v3.6M447.1,178.8h3.6M448.9,177.0v3.6M447.3,179.4h3.6M449.1,177.6v3.6M447.9,180.2h3.6M449.7,178.4v3.6M448.4,181.0h3.6M450.2,179.2v3.6M449.0,181.0h3.6M450.8,179.2v3.6M449.3,181.6h3.6M451.1,179.8v3.6M450.1,182.2h3.6M451.9,180.4v3.6M450.4,183.0h3.6M452.2,181.2v3.6M451.1,183.5h3.6M452.9,181.7v3.6M451.4,184.6h3.6M453.2,182.8v3.6M451.6,184.8h3.6M453.4,183.0v3.6M452.1,185.9h3.6M453.9,184.1v3.6M452.5,186.0h3.6M454.3,184.2v3.6M453.1,187.3h3.6M454.9,185.5v3.6M453.3,188.1h3.6M455.1,186.3v3.6M454.1,188.1h3.6M455.9,186.3v3.6M454.2,188.9h3.6M456.0,187.1v3.6M454.9,189.5h3.6M456.7,187.7v3.6M455.1,190.4h3.6M456.9,188.6v3.6M455.7,191.0h3.6M457.5,189.2v3.6M456.3,191.8h3.6M458.1,190.0v3.6M456.9,192.1h3.6M458.7,190.3v3.6M457.0,193.3h3.6M458.8,191.5v3.6M457.4,193.3h3.6M459.2,191.5v3.6M457.9,194.5h3.6M459.7,192.7v3.6M458.8,195.2h3.6M460.6,193.4v3.6M459.3,195.4h3.6M461.1,193.6v3.6M459.7,196.3h3.6M461.5,194.5v3.6M460.1,196.9h3.6M461.9,195.1v3.6M460.8,196.9h3.6M462.6,195.1v3.6M461.3,197.9h3.6M463.1,196.1v3.6M461.7,198.8h3.6M463.5,197.0v3.6M462.9,199.0h3.6M464.7,197.2v3.6M463.4,199.7h3.6M465.2,197.9v3.6M463.7,199.8h3.6M465.5,198.0v3.6M464.6,201.0h3.6M466.4,199.2v3.6M464.8,201.1h3.6M466.6,199.3v3.6M465.2,201.8h3.6M467.0,200.0v3.6M466.4,202.1h3.6M468.2,200.3v3.6M466.6,202.8h3.6M468.4,201.0v3.6M467.6,202.9h3.6M469.4,201.1v3.6M467.9,203.7h3.6M469.7,201.9v3.6M468.4,204.3h3.6M470.2,202.5v3.6M469.3,204.7h3.6M471.1,202.9v3.6M470.1,204.6h3.6M471.9,202.8v3.6M470.4,204.9h3.6M472.2,203.1v3.6M471.4,205.7h3.6M473.2,203.9v3.6M472.5,206.0h3.6M474.3,204.2v3.6M472.8,206.4h3.6M474.6,204.6v3.6M473.9,206.5h3.6M475.7,204.7v3.6M474.1,207.0h3.6M475.9,205.2v3.6M474.8,207.2h3.6M476.6,205.4v3.6M475.7,207.5h3.6M477.5,205.7v3.6M476.7,208.1h3.6M478.5,206.3v3.6M477.4,209.0h3.6M479.2,207.2v3.6M477.3,209.6h3.6M479.1,207.8v3.6M478.6,209.8h3.6M480.4,208.0v3.6M479.3,210.2h3.6M481.1,208.4v3.6M479.2,210.4h3.6M481.0,208.6v3.6M480.1,211.5h3.6M481.9,209.7v3.6M481.1,211.4h3.6M482.9,209.6v3.6M481.4,211.9h3.6M483.2,210.1v3.6M481.9,212.5h3.6M483.7,210.7v3.6M482.7,212.8h3.6M484.5,211.0v3.6M483.6,213.3h3.6M485.4,211.5v3.6M484.5,214.0h3.6M486.3,212.2v3.6M484.8,214.6h3.6M486.6,212.8v3.6M485.4,214.6h3.6M487.2,212.8v3.6M486.0,214.9h3.6M487.8,213.1v3.6M486.8,215.7h3.6M488.6,213.9v3.6M487.6,216.0h3.6M489.4,214.2v3.6M488.2,215.8h3.6M490.0,214.0v3.6M489.0,216.4h3.6M490.8,214.6v3.6M490.2,216.6h3.6M492.0,214.8v3.6M490.4,216.8h3.6M492.2,215.0v3.6M491.2,217.8h3.6M493.0,216.0v3.6M492.4,217.5h3.6M494.2,215.7v3.6M492.5,218.0h3.6M494.3,216.2v3.6M493.6,218.1h3.6M495.4,216.3v3.6M494.2,218.9h3.6M496.0,217.1v3.6M494.6,219.2h3.6M496.4,217.4v3.6M495.9,219.5h3.6M497.7,217.7v3.6M496.5,219.6h3.6M498.3,217.8v3.6M497.3,219.6h3.6M499.1,217.8v3.6M498.0,220.0h3.6M499.8,218.2v3.6M498.6,220.1h3.6M500.4,218.3v3.6M499.2,220.4h3.6M501.0,218.6v3.6M500.3,220.8h3.6M502.1,219.0v3.6M501.0,221.3h3.6M502.8,219.5v3.6M501.5,221.3h3.6M503.3,219.5v3.6M502.6,222.0h3.6M504.4,220.2v3.6M503.4,222.2h3.6M505.2,220.4v3.6M504.1,222.1h3.6M505.9,220.3v3.6M504.6,223.0h3.6M506.4,221.2v3.6M505.4,222.7h3.6M507.2,220.9v3.6M506.2,223.6h3.6M508.0,221.8v3.6M506.7,223.3h3.6M508.5,221.5v3.6M507.7,224.2h3.6M509.5,222.4v3.6M508.4,224.0h3.6M510.2,222.2v3.6M509.4,224.2h3.6M511.2,222.4v3.6M509.8,224.9h3.6M511.6,223.1v3.6M511.0,225.4h3.6M512.8,223.6v3.6M511.3,225.2h3.6M513.1,223.4v3.6M512.1,225.4h3.6M513.9,223.6v3.6M512.7,226.2h3.6M514.5,224.4v3.6M514.0,226.2h3.6M515.8,224.4v3.6M514.0,226.9h3.6M515.8,225.1v3.6M515.5,227.2h3.6M517.3,225.4v3.6M515.7,227.5h3.6M517.5,225.7v3.6M516.8,227.9h3.6M518.6,226.1v3.6M517.3,228.4h3.6M519.1,226.6v3.6M518.2,228.2h3.6M520.0,226.4v3.6M518.6,228.4h3.6M520.4,226.6v3.6M519.3,229.3h3.6M521.1,227.5v3.6M520.1,229.5h3.6M521.9,227.7v3.6M521.1,229.5h3.6M522.9,227.7v3.6M521.5,230.1h3.6M523.3,228.3v3.6M522.3,230.7h3.6M524.1,228.9v3.6M523.3,231.1h3.6M525.1,229.3v3.6M523.7,231.4h3.6M525.5,229.6v3.6M524.5,232.0h3.6M526.3,230.2v3.6M525.2,232.0h3.6M527.0,230.2v3.6M525.8,232.2h3.6M527.6,230.4v3.6M526.8,232.6h3.6M528.6,230.8v3.6M527.6,233.2h3.6M529.4,231.4v3.6M528.4,233.5h3.6M530.2,231.7v3.6M528.8,233.6h3.6M530.6,231.8v3.6M529.1,234.2h3.6M530.9,232.4v3.6M530.4,234.6h3.6M532.2,232.8v3.6M531.1,234.3h3.6M532.9,232.5v3.6M531.8,234.9h3.6M533.6,233.1v3.6M532.3,235.6h3.6M534.1,233.8v3.6M534.0,235.7h3.6M535.8,233.9v3.6M535.1,236.3h3.6M536.9,234.5v3.6M536.9,236.9h3.6M538.7,235.1v3.6M538.5,238.0h3.6M540.3,236.2v3.6M540.7,238.1h3.6M542.5,236.3v3.6M542.9,238.9h3.6M544.7,237.1v3.6M545.4,239.7h3.6M547.2,237.9v3.6M547.6,240.9h3.6M549.4,239.1v3.6M550.4,241.5h3.6M552.2,239.7v3.6M552.5,241.7h3.6M554.3,239.9v3.6M554.9,241.8h3.6M556.7,240.0v3.6M556.7,242.2h3.6M558.5,240.4v3.6M559.0,242.8h3.6M560.8,241.0v3.6M560.2,242.9h3.6M562.0,241.1v3.6M562.0,243.1h3.6M563.8,241.3v3.6" stroke="#2ca02c" stroke-width="0.85" fill="none" opacity="1.0"/>
<path d="M565.01,243.43 H570.96 V245.12 H581.70 V246.62 H591.30 V247.56 H605.88 V252.26 H642.54 V256.21 H650.79 V256.21" stroke="#2ca02c" stroke-width="1.0" fill="none"/>
<path d="M566.47,244.37h3.60M568.27,242.57v3.60M577.99,246.25h3.60M579.79,244.45v3.60M593.34,247.56h3.60M595.14,245.76v3.60" stroke="#2ca02c" stroke-width="0.8" fill="none" opacity="1.0"/>
<path d="M399.40,71.50 H400.36 V77.14 H401.70 V82.77 H403.24 V88.41 H405.16 V94.05 H407.08 V99.69 H409.00 V105.32 H411.87 V112.84 H414.75 V122.23 H418.59 V131.63 H421.47 V139.14 H425.11 V146.66 H427.99 V154.18 H431.06 V161.69 H434.90 V167.14 H437.78 V172.97 H440.66 V178.60 H444.30 V184.24 H449.29 V190.06 H454.28 V197.77 H456.97 V202.09 H458.89 V205.85 H460.81 V209.61 H462.73 V213.36 H465.03 V215.81 H467.52 V219.94 H470.21 V224.45 H472.32 V226.52 H475.01 V228.02 H477.12 V230.28 H480.00 V233.28 H483.84 V235.91 H487.67 V238.36 H494.20 V240.61 H520.49 V243.43 H526.05 V246.43 H540.25 V250.76 H554.07 V259.40" stroke="#d62728" stroke-width="1.0" fill="none"/>
<path d="M399.90,82.77h3.60M401.70,80.97v3.60M401.05,85.59h3.60M402.85,83.79v3.60M402.59,90.29h3.60M404.39,88.49v3.60M405.28,97.81h3.60M407.08,96.01v3.60M409.11,109.08h3.60M410.91,107.28v3.60M439.82,176.72h3.60M441.62,174.92v3.60M455.17,203.03h3.60M456.97,201.23v3.60M474.36,226.52h3.60M476.16,224.72v3.60M503.14,240.61h3.60M504.94,238.81v3.60M508.90,240.61h3.60M510.70,238.81v3.60M526.17,246.43h3.60M527.97,244.63v3.60M529.05,246.43h3.60M530.85,244.63v3.60M543.44,250.76h3.60M545.24,248.96v3.60" stroke="#d62728" stroke-width="0.8" fill="none" opacity="1.0"/>
<path d="M399.4,71.5L400.0,73.1L400.6,74.6L401.1,76.2L401.7,77.8L402.3,79.4L402.9,81.0L403.4,82.6L404.0,84.1L404.6,85.7L405.2,87.2L405.7,88.8L406.3,90.3L406.9,91.9L407.6,93.5L408.2,95.1L408.8,96.6L409.4,98.2L410.1,99.7L410.7,101.3L411.3,102.8L411.9,104.3L412.5,105.9L413.2,107.5L413.8,109.1L414.4,110.5L414.9,112.0L415.5,113.5L416.0,114.9L416.6,116.4L417.2,117.9L417.7,119.4L418.3,120.9L418.8,122.4L419.4,123.9L419.9,125.4L420.5,126.9L421.1,128.6L421.7,130.3L422.3,132.0L422.9,133.7L423.5,135.5L424.2,137.2L424.8,138.9L425.4,140.6L426.0,142.2L426.6,143.8L427.2,145.3L427.8,146.7L428.7,148.7L429.6,150.6L430.5,152.6L431.4,154.4L432.4,156.2L433.3,158.0L434.2,159.6L435.1,161.3L436.0,162.8L436.9,164.3L437.8,165.8L438.7,167.1L439.9,168.9L441.1,170.5L442.3,172.0L443.5,173.5L444.7,174.9L445.9,176.2L447.1,177.6L448.3,178.9L449.5,180.2L450.7,181.5L451.9,182.9L453.1,184.2L454.1,185.4L455.1,186.7L456.1,187.9L457.1,189.2L458.1,190.5L459.1,191.7L460.1,193.0L461.1,194.1L462.1,195.2L463.0,196.2L464.0,197.0L465.0,197.8L466.0,198.3L466.9,198.9L467.8,199.3L468.7,199.7L469.7,200.1L470.6,200.5L471.5,200.8L472.4,201.2L473.4,201.6L474.3,202.0L475.2,202.5L476.2,203.0L476.9,203.5L477.6,204.0L478.4,204.6L479.1,205.2L479.8,205.9L480.6,206.5L481.3,207.2L482.0,207.9L482.8,208.6L483.5,209.2L484.3,209.9L485.0,210.5L485.8,211.2L486.5,211.9L487.3,212.6L488.1,213.2L488.8,213.9L489.6,214.6L490.4,215.3L491.1,216.0L491.9,216.6L492.7,217.3L493.4,218.0L494.2,218.6L495.2,219.5L496.1,220.3L497.1,221.3L498.1,222.2L499.1,223.1L500.1,224.0L501.0,224.8L502.0,225.6L503.0,226.3L504.0,227.0L504.9,227.6L505.9,228.0L506.6,228.3L507.3,228.6L508.1,228.8L508.8,229.0L509.5,229.2L510.2,229.4L510.9,229.6L511.7,229.8L512.4,229.9L513.1,230.1L513.8,230.3L514.5,230.5L515.5,230.7L516.4,230.9L517.4,231.2L518.3,231.4L519.3,231.6L520.2,231.9L521.1,232.1L522.1,232.3L523.0,232.6L524.0,232.8L524.9,233.0L525.9,233.3L526.9,233.6L527.9,233.9L528.9,234.2L529.9,234.5L530.9,234.8L531.9,235.2L532.9,235.5L533.9,235.8L534.9,236.1L535.9,236.4L536.9,236.6L538.0,236.9L539.2,237.1L540.4,237.4L541.7,237.6L542.9,237.9L544.2,238.1L545.4,238.4L546.7,238.6L547.9,238.7L549.2,238.9L550.4,239.0L551.7,239.1L552.9,239.1L553.1,239.1L553.3,239.1L553.4,239.1L553.6,239.1L553.8,239.1L554.0,239.1L554.2,239.1L554.3,239.1L554.5,239.1L554.7,239.1L554.9,239.1L555.0,239.1" stroke="#8c564b" stroke-width="1.0" fill="none" opacity="0.9"/>
<path d="M397.9,71.8h3.6M399.7,70.0v3.6M398.9,74.1h3.6M400.7,72.3v3.6M399.7,77.1h3.6M401.5,75.3v3.6M400.7,79.7h3.6M402.5,77.9v3.6M401.5,82.7h3.6M403.3,80.9v3.6M402.6,85.6h3.6M404.4,83.8v3.6M403.5,88.2h3.6M405.3,86.4v3.6M405.0,91.2h3.6M406.8,89.4v3.6M406.0,94.1h3.6M407.8,92.3v3.6M407.0,96.5h3.6M408.8,94.7v3.6M408.4,99.6h3.6M410.2,97.8v3.6M409.4,102.4h3.6M411.2,100.6v3.6M410.7,105.0h3.6M412.5,103.2v3.6M411.7,107.8h3.6M413.5,106.0v3.6M412.7,110.8h3.6M414.5,109.0v3.6M413.6,113.3h3.6M415.4,111.5v3.6M414.7,116.5h3.6M416.5,114.7v3.6M415.9,119.1h3.6M417.7,117.3v3.6M416.9,121.8h3.6M418.7,120.0v3.6M417.7,124.7h3.6M419.5,122.9v3.6M419.1,127.4h3.6M420.9,125.6v3.6M419.7,130.2h3.6M421.5,128.4v3.6M420.7,133.1h3.6M422.5,131.3v3.6M422.0,136.2h3.6M423.8,134.4v3.6M422.9,138.8h3.6M424.7,137.0v3.6M423.9,141.6h3.6M425.7,139.8v3.6M425.2,144.5h3.6M427.0,142.7v3.6M426.1,147.0h3.6M427.9,145.2v3.6M427.7,150.1h3.6M429.5,148.3v3.6M429.0,152.5h3.6M430.8,150.7v3.6M430.2,155.6h3.6M432.0,153.8v3.6M431.6,158.3h3.6M433.4,156.5v3.6M432.8,161.0h3.6M434.6,159.2v3.6M434.2,163.2h3.6M436.0,161.4v3.6M435.8,166.0h3.6M437.6,164.2v3.6M437.9,168.6h3.6M439.7,166.8v3.6M439.7,171.0h3.6M441.5,169.2v3.6M441.4,173.3h3.6M443.2,171.5v3.6M443.5,175.2h3.6M445.3,173.4v3.6M445.6,177.5h3.6M447.4,175.7v3.6M447.2,179.5h3.6M449.0,177.7v3.6M449.3,181.8h3.6M451.1,180.0v3.6M451.6,184.5h3.6M453.4,182.7v3.6M453.1,186.3h3.6M454.9,184.5v3.6M455.1,188.7h3.6M456.9,186.9v3.6M457.0,191.5h3.6M458.8,189.7v3.6M458.7,193.6h3.6M460.5,191.8v3.6M461.1,195.8h3.6M462.9,194.0v3.6M463.1,198.0h3.6M464.9,196.2v3.6M466.0,199.4h3.6M467.8,197.6v3.6M468.7,200.3h3.6M470.5,198.5v3.6M471.5,201.7h3.6M473.3,199.9v3.6M474.1,202.7h3.6M475.9,200.9v3.6M476.4,204.5h3.6M478.2,202.7v3.6M478.9,206.5h3.6M480.7,204.7v3.6M481.0,208.7h3.6M482.8,206.9v3.6M483.0,210.6h3.6M484.8,208.8v3.6M485.3,212.6h3.6M487.1,210.8v3.6M487.9,214.4h3.6M489.7,212.6v3.6M490.2,216.3h3.6M492.0,214.5v3.6M492.2,218.5h3.6M494.0,216.7v3.6M494.3,220.5h3.6M496.1,218.7v3.6M496.6,222.5h3.6M498.4,220.7v3.6M499.0,224.2h3.6M500.8,222.4v3.6M501.2,226.5h3.6M503.0,224.7v3.6M503.6,228.1h3.6M505.4,226.3v3.6M506.5,229.0h3.6M508.3,227.2v3.6M509.3,229.6h3.6M511.1,227.8v3.6M512.4,230.1h3.6M514.2,228.3v3.6M515.5,231.1h3.6M517.3,229.3v3.6M518.4,231.9h3.6M520.2,230.1v3.6M521.2,232.6h3.6M523.0,230.8v3.6M524.0,233.5h3.6M525.8,231.7v3.6M526.7,234.4h3.6M528.5,232.6v3.6M530.0,235.1h3.6M531.8,233.3v3.6M532.8,236.1h3.6M534.6,234.3v3.6M535.6,236.6h3.6M537.4,234.8v3.6M538.4,237.3h3.6M540.2,235.5v3.6M541.3,238.2h3.6M543.1,236.4v3.6M544.3,238.4h3.6M546.1,236.6v3.6M547.3,239.1h3.6M549.1,237.3v3.6M550.4,239.1h3.6M552.2,237.3v3.6" stroke="#8c564b" stroke-width="0.8" fill="none" opacity="0.9"/>
<path d="M555.03,239.11 H565.39 V243.43 H570.96 V247.56 H591.30 V250.00 H602.81 V253.01 H630.06 V256.21 H646.57 V259.40" stroke="#8c564b" stroke-width="1.0" fill="none" opacity="0.9"/>
<path d="M399.4,71.5L399.9,73.1L400.5,74.7L401.0,76.2L401.5,77.8L402.0,79.4L402.6,81.0L403.1,82.6L403.6,84.2L404.1,85.7L404.7,87.3L405.2,88.8L405.7,90.3L406.3,91.9L406.9,93.5L407.5,95.1L408.1,96.6L408.7,98.2L409.3,99.7L409.9,101.2L410.5,102.7L411.1,104.3L411.6,105.8L412.2,107.4L412.8,109.1L413.3,110.5L413.8,112.0L414.3,113.5L414.8,115.0L415.3,116.5L415.8,118.1L416.3,119.6L416.8,121.2L417.3,122.7L417.8,124.1L418.3,125.6L418.8,126.9L419.5,128.7L420.1,130.5L420.8,132.3L421.5,134.0L422.1,135.7L422.8,137.4L423.5,139.1L424.2,140.7L424.8,142.2L425.5,143.8L426.2,145.2L426.8,146.7L427.4,147.7L427.9,148.8L428.4,149.8L428.9,150.8L429.4,151.8L429.9,152.7L430.4,153.7L430.9,154.6L431.4,155.5L432.0,156.3L432.5,157.1L433.0,157.9L433.6,158.8L434.2,159.7L434.8,160.5L435.4,161.3L436.0,162.0L436.6,162.8L437.2,163.5L437.8,164.2L438.5,164.9L439.1,165.7L439.7,166.4L440.3,167.1L440.9,167.9L441.5,168.6L442.0,169.4L442.6,170.1L443.2,170.9L443.8,171.6L444.4,172.4L445.0,173.1L445.6,173.8L446.2,174.5L446.8,175.1L447.4,175.8L448.1,176.6L448.9,177.3L449.6,178.1L450.4,178.8L451.1,179.5L451.9,180.1L452.6,180.8L453.4,181.5L454.1,182.2L454.9,182.8L455.6,183.5L456.4,184.2L457.4,185.2L458.4,186.3L459.4,187.3L460.4,188.4L461.4,189.5L462.4,190.5L463.4,191.6L464.5,192.6L465.5,193.6L466.5,194.5L467.5,195.3L468.5,196.1L469.1,196.5L469.8,196.9L470.4,197.3L471.0,197.7L471.7,198.0L472.3,198.4L473.0,198.7L473.6,199.0L474.2,199.4L474.9,199.7L475.5,200.0L476.2,200.4L477.4,201.1L478.7,201.8L480.0,202.6L481.2,203.3L482.5,204.0L483.7,204.8L485.0,205.5L486.3,206.2L487.5,206.9L488.8,207.7L490.1,208.4L491.3,209.0L493.3,210.1L495.2,211.1L497.1,212.2L499.1,213.2L501.0,214.3L502.9,215.3L504.9,216.3L506.8,217.3L508.7,218.2L510.7,219.1L512.6,220.0L514.5,220.9L516.5,221.7L518.4,222.5L520.4,223.3L522.3,224.1L524.3,224.9L526.2,225.6L528.2,226.3L530.1,227.0L532.1,227.7L534.0,228.3L536.0,228.9L538.0,229.5L539.2,229.9L540.4,230.2L541.7,230.6L542.9,230.9L544.2,231.2L545.4,231.5L546.7,231.8L547.9,232.1L549.2,232.4L550.4,232.7L551.7,233.0L552.9,233.3L554.4,233.7L555.9,234.0L557.4,234.4L558.9,234.8L560.4,235.2L561.9,235.6L563.4,236.0L564.9,236.3L566.4,236.7L568.0,237.1L569.5,237.4L571.0,237.8L572.7,238.2L574.3,238.6L576.0,238.9L577.7,239.3L579.4,239.6L581.1,240.0L582.8,240.3L584.5,240.7L586.2,241.0L587.9,241.4L589.6,241.8L591.3,242.1" stroke="#9467bd" stroke-width="1.0" fill="none" opacity="1.0"/>
<path d="M397.7,71.9h4.0M399.7,69.9v4.0M397.1,72.5h4.0M399.1,70.5v4.0M397.3,72.5h4.0M399.3,70.5v4.0M397.3,72.9h4.0M399.3,70.9v4.0M397.5,73.3h4.0M399.5,71.3v4.0M398.3,73.7h4.0M400.3,71.7v4.0M398.1,74.2h4.0M400.1,72.2v4.0M398.9,73.7h4.0M400.9,71.7v4.0M398.4,75.1h4.0M400.4,73.1v4.0M398.8,74.8h4.0M400.8,72.8v4.0M398.4,75.8h4.0M400.4,73.8v4.0M398.3,76.0h4.0M400.3,74.0v4.0M399.3,75.6h4.0M401.3,73.6v4.0M398.8,76.2h4.0M400.8,74.2v4.0M399.2,76.7h4.0M401.2,74.7v4.0M399.8,77.7h4.0M401.8,75.7v4.0M399.2,78.0h4.0M401.2,76.0v4.0M399.0,77.5h4.0M401.0,75.5v4.0M399.9,78.7h4.0M401.9,76.7v4.0M400.2,79.3h4.0M402.2,77.3v4.0M400.4,78.8h4.0M402.4,76.8v4.0M400.3,80.0h4.0M402.3,78.0v4.0M399.7,79.8h4.0M401.7,77.8v4.0M399.9,79.8h4.0M401.9,77.8v4.0M400.4,80.8h4.0M402.4,78.8v4.0M401.1,80.5h4.0M403.1,78.5v4.0M400.7,82.0h4.0M402.7,80.0v4.0M401.1,81.8h4.0M403.1,79.8v4.0M400.6,82.3h4.0M402.6,80.3v4.0M400.8,82.7h4.0M402.8,80.7v4.0M401.4,82.8h4.0M403.4,80.8v4.0M401.7,83.2h4.0M403.7,81.2v4.0M401.4,84.0h4.0M403.4,82.0v4.0M401.3,83.6h4.0M403.3,81.6v4.0M401.8,84.3h4.0M403.8,82.3v4.0M402.3,84.5h4.0M404.3,82.5v4.0M401.8,84.6h4.0M403.8,82.6v4.0M402.0,85.3h4.0M404.0,83.3v4.0M402.1,86.2h4.0M404.1,84.2v4.0M401.8,86.9h4.0M403.8,84.9v4.0M402.7,87.0h4.0M404.7,85.0v4.0M402.6,87.1h4.0M404.6,85.1v4.0M402.6,87.3h4.0M404.6,85.3v4.0M402.5,87.6h4.0M404.5,85.6v4.0M402.7,88.0h4.0M404.7,86.0v4.0M403.6,88.9h4.0M405.6,86.9v4.0M403.4,88.4h4.0M405.4,86.4v4.0M403.1,89.4h4.0M405.1,87.4v4.0M403.8,89.6h4.0M405.8,87.6v4.0M403.8,90.6h4.0M405.8,88.6v4.0M403.5,90.3h4.0M405.5,88.3v4.0M404.2,90.6h4.0M406.2,88.6v4.0M404.3,91.1h4.0M406.3,89.1v4.0M403.6,91.5h4.0M405.6,89.5v4.0M403.8,92.3h4.0M405.8,90.3v4.0M404.9,92.4h4.0M406.9,90.4v4.0M405.1,92.4h4.0M407.1,90.4v4.0M404.7,92.7h4.0M406.7,90.7v4.0M404.4,93.8h4.0M406.4,91.8v4.0M404.5,94.4h4.0M406.5,92.4v4.0M405.2,94.4h4.0M407.2,92.4v4.0M404.8,95.1h4.0M406.8,93.1v4.0M405.8,94.5h4.0M407.8,92.5v4.0M405.2,94.9h4.0M407.2,92.9v4.0M405.7,95.2h4.0M407.7,93.2v4.0M406.2,96.1h4.0M408.2,94.1v4.0M406.3,96.2h4.0M408.3,94.2v4.0M406.4,96.8h4.0M408.4,94.8v4.0M406.5,97.1h4.0M408.5,95.1v4.0M407.1,98.0h4.0M409.1,96.0v4.0M407.0,97.7h4.0M409.0,95.7v4.0M406.4,97.9h4.0M408.4,95.9v4.0M406.5,99.2h4.0M408.5,97.2v4.0M406.8,99.5h4.0M408.8,97.5v4.0M406.9,99.6h4.0M408.9,97.6v4.0M407.0,99.6h4.0M409.0,97.6v4.0M407.8,100.3h4.0M409.8,98.3v4.0M408.2,100.2h4.0M410.2,98.2v4.0M407.5,100.4h4.0M409.5,98.4v4.0M407.6,101.9h4.0M409.6,99.9v4.0M408.1,101.6h4.0M410.1,99.6v4.0M408.0,102.4h4.0M410.0,100.4v4.0M408.6,102.0h4.0M410.6,100.0v4.0M407.9,102.4h4.0M409.9,100.4v4.0M409.0,103.4h4.0M411.0,101.4v4.0M408.4,103.2h4.0M410.4,101.2v4.0M408.7,104.1h4.0M410.7,102.1v4.0M409.4,104.0h4.0M411.4,102.0v4.0M409.0,104.3h4.0M411.0,102.3v4.0M409.9,105.1h4.0M411.9,103.1v4.0M410.0,105.1h4.0M412.0,103.1v4.0M409.8,105.9h4.0M411.8,103.9v4.0M410.3,106.0h4.0M412.3,104.0v4.0M409.6,106.9h4.0M411.6,104.9v4.0M410.6,106.9h4.0M412.6,104.9v4.0M410.0,106.8h4.0M412.0,104.8v4.0M410.3,108.2h4.0M412.3,106.2v4.0M410.3,108.0h4.0M412.3,106.0v4.0M410.7,108.1h4.0M412.7,106.1v4.0M410.3,108.8h4.0M412.3,106.8v4.0M411.4,109.6h4.0M413.4,107.6v4.0M410.8,109.9h4.0M412.8,107.9v4.0M411.5,110.0h4.0M413.5,108.0v4.0M411.1,109.9h4.0M413.1,107.9v4.0M411.6,110.9h4.0M413.6,108.9v4.0M411.2,110.6h4.0M413.2,108.6v4.0M411.2,111.8h4.0M413.2,109.8v4.0M412.2,111.8h4.0M414.2,109.8v4.0M412.0,112.4h4.0M414.0,110.4v4.0M411.6,112.6h4.0M413.6,110.6v4.0M412.1,113.4h4.0M414.1,111.4v4.0M411.9,113.7h4.0M413.9,111.7v4.0M412.0,113.8h4.0M414.0,111.8v4.0M413.0,113.6h4.0M415.0,111.6v4.0M412.6,113.9h4.0M414.6,111.9v4.0M412.8,114.8h4.0M414.8,112.8v4.0M413.4,115.2h4.0M415.4,113.2v4.0M413.5,115.9h4.0M415.5,113.9v4.0M413.5,115.8h4.0M415.5,113.8v4.0M412.8,116.5h4.0M414.8,114.5v4.0M412.9,116.9h4.0M414.9,114.9v4.0M413.1,117.3h4.0M415.1,115.3v4.0M413.9,118.1h4.0M415.9,116.1v4.0M413.4,117.5h4.0M415.4,115.5v4.0M413.8,118.8h4.0M415.8,116.8v4.0M413.7,118.6h4.0M415.7,116.6v4.0M414.0,118.5h4.0M416.0,116.5v4.0M414.3,119.2h4.0M416.3,117.2v4.0M414.3,120.1h4.0M416.3,118.1v4.0M414.7,119.9h4.0M416.7,117.9v4.0M414.8,120.6h4.0M416.8,118.6v4.0M415.0,120.3h4.0M417.0,118.3v4.0M414.6,121.5h4.0M416.6,119.5v4.0M415.0,121.7h4.0M417.0,119.7v4.0M415.1,122.2h4.0M417.1,120.2v4.0M415.5,122.9h4.0M417.5,120.9v4.0M415.7,123.3h4.0M417.7,121.3v4.0M415.6,122.8h4.0M417.6,120.8v4.0M415.5,124.0h4.0M417.5,122.0v4.0M416.1,124.1h4.0M418.1,122.1v4.0M415.4,123.9h4.0M417.4,121.9v4.0M416.2,124.6h4.0M418.2,122.6v4.0M415.8,125.7h4.0M417.8,123.7v4.0M415.9,126.0h4.0M417.9,124.0v4.0M416.5,126.4h4.0M418.5,124.4v4.0M416.9,125.9h4.0M418.9,123.9v4.0M416.3,127.1h4.0M418.3,125.1v4.0M416.7,127.0h4.0M418.7,125.0v4.0M417.2,127.5h4.0M419.2,125.5v4.0M417.3,127.8h4.0M419.3,125.8v4.0M417.0,128.4h4.0M419.0,126.4v4.0M416.9,128.8h4.0M418.9,126.8v4.0M417.9,128.4h4.0M419.9,126.4v4.0M417.0,129.7h4.0M419.0,127.7v4.0M417.4,129.7h4.0M419.4,127.7v4.0M417.7,129.6h4.0M419.7,127.6v4.0M417.8,129.9h4.0M419.8,127.9v4.0M418.6,131.1h4.0M420.6,129.1v4.0M418.7,130.7h4.0M420.7,128.7v4.0M418.3,131.0h4.0M420.3,129.0v4.0M419.1,132.4h4.0M421.1,130.4v4.0M419.3,132.6h4.0M421.3,130.6v4.0M419.1,132.6h4.0M421.1,130.6v4.0M418.6,132.4h4.0M420.6,130.4v4.0M419.3,133.9h4.0M421.3,131.9v4.0M419.9,133.6h4.0M421.9,131.6v4.0M419.5,134.6h4.0M421.5,132.6v4.0M419.4,134.8h4.0M421.4,132.8v4.0M419.9,134.8h4.0M421.9,132.8v4.0M419.8,134.8h4.0M421.8,132.8v4.0M419.7,135.3h4.0M421.7,133.3v4.0M420.8,136.3h4.0M422.8,134.3v4.0M419.8,136.6h4.0M421.8,134.6v4.0M420.1,136.8h4.0M422.1,134.8v4.0M421.2,137.6h4.0M423.2,135.6v4.0M421.3,138.0h4.0M423.3,136.0v4.0M421.1,137.3h4.0M423.1,135.3v4.0M420.8,138.4h4.0M422.8,136.4v4.0M421.4,139.1h4.0M423.4,137.1v4.0M421.0,139.4h4.0M423.0,137.4v4.0M421.7,139.4h4.0M423.7,137.4v4.0M421.3,139.5h4.0M423.3,137.5v4.0M421.9,140.3h4.0M423.9,138.3v4.0M422.3,140.6h4.0M424.3,138.6v4.0M422.5,140.6h4.0M424.5,138.6v4.0M422.2,141.7h4.0M424.2,139.7v4.0M422.7,141.6h4.0M424.7,139.6v4.0M423.2,142.3h4.0M425.2,140.3v4.0M423.1,142.8h4.0M425.1,140.8v4.0M422.9,143.1h4.0M424.9,141.1v4.0M423.2,142.9h4.0M425.2,140.9v4.0M423.2,142.8h4.0M425.2,140.8v4.0M423.9,144.3h4.0M425.9,142.3v4.0M423.5,144.6h4.0M425.5,142.6v4.0M423.4,144.4h4.0M425.4,142.4v4.0M424.6,145.0h4.0M426.6,143.0v4.0M423.7,145.3h4.0M425.7,143.3v4.0M423.7,145.8h4.0M425.7,143.8v4.0M424.6,146.1h4.0M426.6,144.1v4.0M424.9,145.8h4.0M426.9,143.8v4.0M425.3,146.9h4.0M427.3,144.9v4.0M425.5,146.6h4.0M427.5,144.6v4.0M424.8,147.6h4.0M426.8,145.6v4.0M425.8,147.8h4.0M427.8,145.8v4.0M425.2,148.0h4.0M427.2,146.0v4.0M425.4,148.4h4.0M427.4,146.4v4.0M426.4,149.0h4.0M428.4,147.0v4.0M425.7,149.6h4.0M427.7,147.6v4.0M426.7,149.4h4.0M428.7,147.4v4.0M425.8,150.0h4.0M427.8,148.0v4.0M426.4,149.8h4.0M428.4,147.8v4.0M427.3,150.4h4.0M429.3,148.4v4.0M426.5,150.7h4.0M428.5,148.7v4.0M427.7,151.1h4.0M429.7,149.1v4.0M427.3,151.3h4.0M429.3,149.3v4.0M427.0,151.5h4.0M429.0,149.5v4.0M427.2,152.3h4.0M429.2,150.3v4.0M427.8,152.9h4.0M429.8,150.9v4.0M428.5,153.5h4.0M430.5,151.5v4.0M427.8,153.5h4.0M429.8,151.5v4.0M428.0,153.5h4.0M430.0,151.5v4.0M428.5,154.0h4.0M430.5,152.0v4.0M429.3,154.3h4.0M431.3,152.3v4.0M428.6,154.9h4.0M430.6,152.9v4.0M429.0,155.6h4.0M431.0,153.6v4.0M429.0,155.1h4.0M431.0,153.1v4.0M429.1,155.6h4.0M431.1,153.6v4.0M430.2,155.7h4.0M432.2,153.7v4.0M430.2,157.0h4.0M432.2,155.0v4.0M430.0,157.1h4.0M432.0,155.1v4.0M430.8,157.7h4.0M432.8,155.7v4.0M431.1,157.7h4.0M433.1,155.7v4.0M430.8,157.7h4.0M432.8,155.7v4.0M430.7,157.6h4.0M432.7,155.6v4.0M431.5,158.3h4.0M433.5,156.3v4.0M431.2,158.8h4.0M433.2,156.8v4.0M431.4,159.3h4.0M433.4,157.3v4.0M432.6,159.3h4.0M434.6,157.3v4.0M431.7,159.4h4.0M433.7,157.4v4.0M432.3,160.6h4.0M434.3,158.6v4.0M433.3,160.6h4.0M435.3,158.6v4.0M432.9,160.3h4.0M434.9,158.3v4.0M433.7,160.5h4.0M435.7,158.5v4.0M433.2,161.7h4.0M435.2,159.7v4.0M434.0,161.3h4.0M436.0,159.3v4.0M434.6,162.2h4.0M436.6,160.2v4.0M434.5,162.0h4.0M436.5,160.0v4.0M434.9,162.1h4.0M436.9,160.1v4.0M434.9,162.4h4.0M436.9,160.4v4.0M435.4,163.4h4.0M437.4,161.4v4.0M435.4,163.4h4.0M437.4,161.4v4.0M435.9,163.3h4.0M437.9,161.3v4.0M435.4,163.6h4.0M437.4,161.6v4.0M436.2,164.0h4.0M438.2,162.0v4.0M435.7,165.2h4.0M437.7,163.2v4.0M436.4,164.9h4.0M438.4,162.9v4.0M437.2,165.2h4.0M439.2,163.2v4.0M437.5,166.3h4.0M439.5,164.3v4.0M436.9,165.7h4.0M438.9,163.7v4.0M437.0,166.0h4.0M439.0,164.0v4.0M438.0,167.2h4.0M440.0,165.2v4.0M438.5,167.2h4.0M440.5,165.2v4.0M437.9,167.8h4.0M439.9,165.8v4.0M438.5,167.9h4.0M440.5,165.9v4.0M438.5,168.5h4.0M440.5,166.5v4.0M439.0,167.9h4.0M441.0,165.9v4.0M439.8,168.7h4.0M441.8,166.7v4.0M439.5,168.8h4.0M441.5,166.8v4.0M440.1,169.0h4.0M442.1,167.0v4.0M440.1,169.4h4.0M442.1,167.4v4.0M440.2,169.6h4.0M442.2,167.6v4.0M440.3,170.4h4.0M442.3,168.4v4.0M441.0,170.0h4.0M443.0,168.0v4.0M440.7,170.6h4.0M442.7,168.6v4.0M441.5,171.0h4.0M443.5,169.0v4.0M441.8,171.6h4.0M443.8,169.6v4.0M441.6,171.1h4.0M443.6,169.1v4.0M442.3,172.0h4.0M444.3,170.0v4.0M442.2,172.7h4.0M444.2,170.7v4.0M442.2,172.1h4.0M444.2,170.1v4.0M443.0,172.7h4.0M445.0,170.7v4.0M443.3,172.7h4.0M445.3,170.7v4.0M443.3,173.6h4.0M445.3,171.6v4.0M443.5,173.4h4.0M445.5,171.4v4.0M443.4,173.9h4.0M445.4,171.9v4.0M443.9,174.9h4.0M445.9,172.9v4.0M443.9,175.0h4.0M445.9,173.0v4.0M445.2,175.0h4.0M447.2,173.0v4.0M444.5,175.4h4.0M446.5,173.4v4.0M445.7,175.5h4.0M447.7,173.5v4.0M445.8,175.5h4.0M447.8,173.5v4.0M445.5,176.0h4.0M447.5,174.0v4.0M446.2,177.0h4.0M448.2,175.0v4.0M445.9,176.2h4.0M447.9,174.2v4.0M446.3,177.2h4.0M448.3,175.2v4.0M447.1,177.4h4.0M449.1,175.4v4.0M447.4,177.6h4.0M449.4,175.6v4.0M447.0,178.4h4.0M449.0,176.4v4.0M447.6,177.6h4.0M449.6,175.6v4.0M447.6,178.1h4.0M449.6,176.1v4.0M448.6,178.5h4.0M450.6,176.5v4.0M448.2,179.2h4.0M450.2,177.2v4.0M449.1,179.4h4.0M451.1,177.4v4.0M448.9,180.0h4.0M450.9,178.0v4.0M449.7,179.8h4.0M451.7,177.8v4.0M450.3,179.7h4.0M452.3,177.7v4.0M449.9,180.4h4.0M451.9,178.4v4.0M450.5,180.7h4.0M452.5,178.7v4.0M450.2,181.2h4.0M452.2,179.2v4.0M451.6,181.0h4.0M453.6,179.0v4.0M451.7,180.9h4.0M453.7,178.9v4.0M451.1,181.8h4.0M453.1,179.8v4.0M452.4,182.0h4.0M454.4,180.0v4.0M451.9,181.8h4.0M453.9,179.8v4.0M453.0,182.7h4.0M455.0,180.7v4.0M453.4,182.5h4.0M455.4,180.5v4.0M453.4,182.6h4.0M455.4,180.6v4.0M452.9,183.2h4.0M454.9,181.2v4.0M453.5,183.9h4.0M455.5,181.9v4.0M453.9,183.6h4.0M455.9,181.6v4.0M454.7,184.5h4.0M456.7,182.5v4.0M454.5,184.7h4.0M456.5,182.7v4.0M454.3,184.4h4.0M456.3,182.4v4.0M455.6,184.9h4.0M457.6,182.9v4.0M454.9,184.9h4.0M456.9,182.9v4.0M456.1,185.4h4.0M458.1,183.4v4.0M456.5,186.4h4.0M458.5,184.4v4.0M456.3,186.5h4.0M458.3,184.5v4.0M456.3,186.7h4.0M458.3,184.7v4.0M456.2,186.6h4.0M458.2,184.6v4.0M456.5,186.7h4.0M458.5,184.7v4.0M457.9,187.4h4.0M459.9,185.4v4.0M457.1,187.9h4.0M459.1,185.9v4.0M458.3,188.4h4.0M460.3,186.4v4.0M458.1,187.7h4.0M460.1,185.7v4.0M458.8,188.5h4.0M460.8,186.5v4.0M458.2,188.7h4.0M460.2,186.7v4.0M459.1,189.3h4.0M461.1,187.3v4.0M459.4,189.1h4.0M461.4,187.1v4.0M459.0,189.0h4.0M461.0,187.0v4.0M459.3,189.7h4.0M461.3,187.7v4.0M459.9,190.6h4.0M461.9,188.6v4.0M460.3,190.8h4.0M462.3,188.8v4.0M460.8,191.0h4.0M462.8,189.0v4.0M461.3,191.4h4.0M463.3,189.4v4.0M461.4,191.3h4.0M463.4,189.3v4.0M461.9,191.3h4.0M463.9,189.3v4.0M461.4,191.4h4.0M463.4,189.4v4.0M461.6,191.7h4.0M463.6,189.7v4.0M461.9,192.2h4.0M463.9,190.2v4.0M462.8,193.3h4.0M464.8,191.3v4.0M463.0,193.3h4.0M465.0,191.3v4.0M463.2,192.9h4.0M465.2,190.9v4.0M463.7,193.7h4.0M465.7,191.7v4.0M463.7,194.2h4.0M465.7,192.2v4.0M464.6,193.7h4.0M466.6,191.7v4.0M463.8,194.2h4.0M465.8,192.2v4.0M464.7,194.6h4.0M466.7,192.6v4.0M464.7,194.6h4.0M466.7,192.6v4.0M465.2,194.6h4.0M467.2,192.6v4.0M465.6,195.9h4.0M467.6,193.9v4.0M466.3,196.0h4.0M468.3,194.0v4.0M465.8,195.7h4.0M467.8,193.7v4.0M466.1,195.7h4.0M468.1,193.7v4.0M466.3,195.8h4.0M468.3,193.8v4.0M467.5,196.3h4.0M469.5,194.3v4.0M467.7,196.8h4.0M469.7,194.8v4.0M467.6,197.2h4.0M469.6,195.2v4.0M468.2,196.8h4.0M470.2,194.8v4.0M468.3,197.4h4.0M470.3,195.4v4.0M468.6,197.6h4.0M470.6,195.6v4.0M469.1,198.3h4.0M471.1,196.3v4.0M469.2,198.3h4.0M471.2,196.3v4.0M469.5,197.6h4.0M471.5,195.6v4.0M470.7,198.7h4.0M472.7,196.7v4.0M470.5,199.0h4.0M472.5,197.0v4.0M470.8,198.6h4.0M472.8,196.6v4.0M471.8,199.3h4.0M473.8,197.3v4.0M472.3,198.9h4.0M474.3,196.9v4.0M472.4,199.8h4.0M474.4,197.8v4.0M472.7,199.3h4.0M474.7,197.3v4.0M473.3,200.0h4.0M475.3,198.0v4.0M472.6,199.8h4.0M474.6,197.8v4.0M474.1,200.4h4.0M476.1,198.4v4.0M474.1,199.7h4.0M476.1,197.7v4.0M474.6,200.1h4.0M476.6,198.1v4.0M474.2,200.9h4.0M476.2,198.9v4.0M474.9,201.4h4.0M476.9,199.4v4.0M475.6,200.5h4.0M477.6,198.5v4.0M475.0,200.8h4.0M477.0,198.8v4.0M475.4,201.1h4.0M477.4,199.1v4.0M476.1,201.0h4.0M478.1,199.0v4.0M476.9,202.2h4.0M478.9,200.2v4.0M476.8,202.0h4.0M478.8,200.0v4.0M477.4,202.8h4.0M479.4,200.8v4.0M478.0,202.0h4.0M480.0,200.0v4.0M478.1,202.4h4.0M480.1,200.4v4.0M478.8,203.3h4.0M480.8,201.3v4.0M478.7,203.5h4.0M480.7,201.5v4.0M479.4,203.6h4.0M481.4,201.6v4.0M479.2,203.8h4.0M481.2,201.8v4.0M479.3,204.0h4.0M481.3,202.0v4.0M479.9,204.3h4.0M481.9,202.3v4.0M480.4,203.7h4.0M482.4,201.7v4.0M480.5,204.0h4.0M482.5,202.0v4.0M481.6,204.4h4.0M483.6,202.4v4.0M481.3,205.2h4.0M483.3,203.2v4.0M482.2,204.3h4.0M484.2,202.3v4.0M482.2,205.5h4.0M484.2,203.5v4.0M482.4,204.6h4.0M484.4,202.6v4.0M482.9,205.7h4.0M484.9,203.7v4.0M483.5,205.8h4.0M485.5,203.8v4.0M483.4,205.7h4.0M485.4,203.7v4.0M483.4,206.5h4.0M485.4,204.5v4.0M484.8,205.8h4.0M486.8,203.8v4.0M484.2,205.8h4.0M486.2,203.8v4.0M484.8,206.9h4.0M486.8,204.9v4.0M485.1,206.5h4.0M487.1,204.5v4.0M485.6,207.1h4.0M487.6,205.1v4.0M486.1,207.2h4.0M488.1,205.2v4.0M486.2,207.3h4.0M488.2,205.3v4.0M486.9,207.4h4.0M488.9,205.4v4.0M487.6,208.0h4.0M489.6,206.0v4.0M487.8,208.2h4.0M489.8,206.2v4.0M488.3,207.6h4.0M490.3,205.6v4.0M487.8,208.4h4.0M489.8,206.4v4.0M488.9,208.5h4.0M490.9,206.5v4.0M488.4,208.9h4.0M490.4,206.9v4.0M489.7,208.4h4.0M491.7,206.4v4.0M489.0,209.3h4.0M491.0,207.3v4.0M489.4,209.8h4.0M491.4,207.8v4.0M489.6,209.8h4.0M491.6,207.8v4.0M490.3,209.8h4.0M492.3,207.8v4.0M491.1,209.9h4.0M493.1,207.9v4.0M491.1,210.6h4.0M493.1,208.6v4.0M491.5,209.9h4.0M493.5,207.9v4.0M491.4,210.6h4.0M493.4,208.6v4.0M492.0,210.7h4.0M494.0,208.7v4.0M492.3,210.4h4.0M494.3,208.4v4.0M493.0,211.2h4.0M495.0,209.2v4.0M493.2,211.8h4.0M495.2,209.8v4.0M494.2,211.6h4.0M496.2,209.6v4.0M494.3,212.1h4.0M496.3,210.1v4.0M494.3,212.3h4.0M496.3,210.3v4.0M494.5,212.5h4.0M496.5,210.5v4.0M495.6,211.7h4.0M497.6,209.7v4.0M494.9,212.5h4.0M496.9,210.5v4.0M495.7,212.5h4.0M497.7,210.5v4.0M495.6,212.7h4.0M497.6,210.7v4.0M496.7,213.3h4.0M498.7,211.3v4.0M497.0,213.4h4.0M499.0,211.4v4.0M497.1,213.8h4.0M499.1,211.8v4.0M497.3,213.5h4.0M499.3,211.5v4.0M497.8,214.1h4.0M499.8,212.1v4.0M498.1,213.4h4.0M500.1,211.4v4.0M498.9,214.3h4.0M500.9,212.3v4.0M498.7,214.8h4.0M500.7,212.8v4.0M498.7,214.2h4.0M500.7,212.2v4.0M500.2,215.1h4.0M502.2,213.1v4.0M500.1,214.6h4.0M502.1,212.6v4.0M499.9,215.3h4.0M501.9,213.3v4.0M500.3,215.8h4.0M502.3,213.8v4.0M500.7,215.1h4.0M502.7,213.1v4.0M500.9,215.4h4.0M502.9,213.4v4.0M501.8,216.1h4.0M503.8,214.1v4.0M501.8,215.4h4.0M503.8,213.4v4.0M502.3,216.6h4.0M504.3,214.6v4.0M502.6,216.1h4.0M504.6,214.1v4.0M503.8,216.9h4.0M505.8,214.9v4.0M503.5,217.0h4.0M505.5,215.0v4.0M503.8,217.0h4.0M505.8,215.0v4.0M504.6,216.8h4.0M506.6,214.8v4.0M504.1,217.5h4.0M506.1,215.5v4.0M505.3,217.8h4.0M507.3,215.8v4.0M504.9,217.6h4.0M506.9,215.6v4.0M505.8,217.4h4.0M507.8,215.4v4.0M506.0,218.0h4.0M508.0,216.0v4.0M507.0,217.6h4.0M509.0,215.6v4.0M506.4,218.8h4.0M508.4,216.8v4.0M507.2,218.4h4.0M509.2,216.4v4.0M507.9,219.2h4.0M509.9,217.2v4.0M507.7,219.4h4.0M509.7,217.4v4.0M508.4,218.9h4.0M510.4,216.9v4.0M508.9,219.2h4.0M510.9,217.2v4.0M509.2,218.8h4.0M511.2,216.8v4.0M509.7,219.1h4.0M511.7,217.1v4.0M509.5,219.8h4.0M511.5,217.8v4.0M510.2,219.9h4.0M512.2,217.9v4.0M510.1,219.7h4.0M512.1,217.7v4.0M511.0,220.0h4.0M513.0,218.0v4.0M510.7,220.0h4.0M512.7,218.0v4.0M511.5,220.5h4.0M513.5,218.5v4.0M512.5,220.7h4.0M514.5,218.7v4.0M512.7,221.2h4.0M514.7,219.2v4.0M512.2,220.4h4.0M514.2,218.4v4.0M513.5,221.0h4.0M515.5,219.0v4.0M513.5,221.8h4.0M515.5,219.8v4.0M513.2,221.3h4.0M515.2,219.3v4.0M514.4,221.4h4.0M516.4,219.4v4.0M514.7,221.4h4.0M516.7,219.4v4.0M515.3,222.0h4.0M517.3,220.0v4.0M514.7,222.1h4.0M516.7,220.1v4.0M515.4,221.8h4.0M517.4,219.8v4.0M516.5,221.9h4.0M518.5,219.9v4.0M516.4,222.3h4.0M518.4,220.3v4.0M516.8,222.6h4.0M518.8,220.6v4.0M516.9,223.0h4.0M518.9,221.0v4.0M517.1,223.0h4.0M519.1,221.0v4.0M517.9,222.9h4.0M519.9,220.9v4.0M517.7,223.5h4.0M519.7,221.5v4.0M518.7,223.9h4.0M520.7,221.9v4.0M519.4,223.1h4.0M521.4,221.1v4.0M519.9,223.5h4.0M521.9,221.5v4.0M519.7,223.6h4.0M521.7,221.6v4.0M520.1,224.2h4.0M522.1,222.2v4.0M520.1,223.8h4.0M522.1,221.8v4.0M520.9,224.3h4.0M522.9,222.3v4.0M521.2,223.9h4.0M523.2,221.9v4.0M522.0,225.0h4.0M524.0,223.0v4.0M521.5,224.4h4.0M523.5,222.4v4.0M521.7,224.3h4.0M523.7,222.3v4.0M522.1,224.6h4.0M524.1,222.6v4.0M523.1,225.7h4.0M525.1,223.7v4.0M523.4,224.8h4.0M525.4,222.8v4.0M524.2,225.0h4.0M526.2,223.0v4.0M524.3,225.5h4.0M526.3,223.5v4.0M524.5,225.2h4.0M526.5,223.2v4.0M524.4,226.0h4.0M526.4,224.0v4.0M525.5,225.9h4.0M527.5,223.9v4.0M525.5,226.4h4.0M527.5,224.4v4.0M525.9,226.7h4.0M527.9,224.7v4.0M526.6,225.8h4.0M528.6,223.8v4.0M526.3,226.3h4.0M528.3,224.3v4.0M526.6,226.9h4.0M528.6,224.9v4.0M528.0,227.2h4.0M530.0,225.2v4.0M528.0,227.0h4.0M530.0,225.0v4.0M528.8,226.9h4.0M530.8,224.9v4.0M529.2,226.7h4.0M531.2,224.7v4.0M528.5,227.6h4.0M530.5,225.6v4.0M529.8,227.0h4.0M531.8,225.0v4.0M529.6,228.0h4.0M531.6,226.0v4.0M530.7,228.2h4.0M532.7,226.2v4.0M530.6,227.9h4.0M532.6,225.9v4.0M531.4,228.5h4.0M533.4,226.5v4.0M530.9,228.5h4.0M532.9,226.5v4.0M532.2,228.3h4.0M534.2,226.3v4.0M531.8,228.2h4.0M533.8,226.2v4.0M532.8,228.8h4.0M534.8,226.8v4.0M532.8,228.0h4.0M534.8,226.0v4.0M532.8,228.4h4.0M534.8,226.4v4.0M533.4,228.6h4.0M535.4,226.6v4.0M533.9,228.8h4.0M535.9,226.8v4.0M534.1,229.0h4.0M536.1,227.0v4.0M534.2,229.0h4.0M536.2,227.0v4.0M535.5,229.7h4.0M537.5,227.7v4.0M535.0,229.4h4.0M537.0,227.4v4.0M536.1,229.0h4.0M538.1,227.0v4.0M536.2,229.7h4.0M538.2,227.7v4.0M536.3,229.4h4.0M538.3,227.4v4.0M536.5,229.8h4.0M538.5,227.8v4.0M537.5,229.6h4.0M539.5,227.6v4.0M537.9,230.0h4.0M539.9,228.0v4.0M537.7,230.3h4.0M539.7,228.3v4.0M539.0,230.4h4.0M541.0,228.4v4.0M539.5,230.5h4.0M541.5,228.5v4.0M538.9,231.0h4.0M540.9,229.0v4.0M539.4,230.3h4.0M541.4,228.3v4.0M539.8,230.7h4.0M541.8,228.7v4.0M540.4,230.5h4.0M542.4,228.5v4.0M540.4,230.4h4.0M542.4,228.4v4.0M541.1,230.6h4.0M543.1,228.6v4.0M541.1,231.0h4.0M543.1,229.0v4.0M542.2,231.3h4.0M544.2,229.3v4.0M542.9,230.9h4.0M544.9,228.9v4.0M543.1,231.3h4.0M545.1,229.3v4.0M543.1,231.0h4.0M545.1,229.0v4.0M543.1,231.0h4.0M545.1,229.0v4.0M543.7,232.1h4.0M545.7,230.1v4.0M544.6,231.3h4.0M546.6,229.3v4.0M545.0,232.1h4.0M547.0,230.1v4.0M545.3,231.7h4.0M547.3,229.7v4.0M546.0,232.1h4.0M548.0,230.1v4.0M545.8,232.6h4.0M547.8,230.6v4.0M546.7,232.5h4.0M548.7,230.5v4.0M546.8,232.9h4.0M548.8,230.9v4.0M547.0,232.1h4.0M549.0,230.1v4.0M547.0,232.8h4.0M549.0,230.8v4.0M548.3,232.4h4.0M550.3,230.4v4.0M548.8,232.6h4.0M550.8,230.6v4.0M548.1,233.2h4.0M550.1,231.2v4.0M548.6,233.4h4.0M550.6,231.4v4.0M549.5,233.0h4.0M551.5,231.0v4.0M549.8,233.0h4.0M551.8,231.0v4.0M550.8,233.4h4.0M552.8,231.4v4.0M550.9,232.9h4.0M552.9,230.9v4.0M550.7,233.8h4.0M552.7,231.8v4.0M551.3,232.9h4.0M553.3,230.9v4.0M551.7,234.0h4.0M553.7,232.0v4.0M551.6,234.1h4.0M553.6,232.1v4.0M552.3,233.6h4.0M554.3,231.6v4.0M553.1,233.8h4.0M555.1,231.8v4.0M553.4,234.0h4.0M555.4,232.0v4.0M553.4,233.6h4.0M555.4,231.6v4.0M554.7,233.6h4.0M556.7,231.6v4.0M555.0,233.9h4.0M557.0,231.9v4.0M554.6,234.5h4.0M556.6,232.5v4.0M555.4,234.9h4.0M557.4,232.9v4.0M555.5,234.7h4.0M557.5,232.7v4.0M555.5,234.6h4.0M557.5,232.6v4.0M556.3,234.9h4.0M558.3,232.9v4.0M557.2,235.1h4.0M559.2,233.1v4.0M556.7,234.7h4.0M558.7,232.7v4.0M557.9,234.7h4.0M559.9,232.7v4.0M557.7,235.6h4.0M559.7,233.6v4.0M558.8,235.2h4.0M560.8,233.2v4.0M558.8,235.7h4.0M560.8,233.7v4.0M559.1,235.4h4.0M561.1,233.4v4.0M559.4,235.1h4.0M561.4,233.1v4.0M560.4,235.7h4.0M562.4,233.7v4.0M560.6,235.9h4.0M562.6,233.9v4.0M560.3,235.8h4.0M562.3,233.8v4.0M560.5,235.5h4.0M562.5,233.5v4.0M561.6,236.4h4.0M563.6,234.4v4.0M562.2,236.4h4.0M564.2,234.4v4.0M561.8,236.1h4.0M563.8,234.1v4.0M562.7,236.1h4.0M564.7,234.1v4.0M563.5,236.2h4.0M565.5,234.2v4.0M563.8,236.8h4.0M565.8,234.8v4.0M563.9,236.5h4.0M565.9,234.5v4.0M564.2,237.2h4.0M566.2,235.2v4.0M564.4,236.2h4.0M566.4,234.2v4.0M564.8,236.7h4.0M566.8,234.7v4.0M565.2,236.6h4.0M567.2,234.6v4.0M565.9,236.7h4.0M567.9,234.7v4.0M566.4,236.8h4.0M568.4,234.8v4.0M566.1,237.6h4.0M568.1,235.6v4.0M567.4,237.7h4.0M569.4,235.7v4.0M567.6,237.4h4.0M569.6,235.4v4.0M567.8,237.9h4.0M569.8,235.9v4.0M567.7,237.4h4.0M569.7,235.4v4.0M569.1,237.5h4.0M571.1,235.5v4.0M568.8,237.4h4.0M570.8,235.4v4.0M569.2,237.8h4.0M571.2,235.8v4.0M569.6,237.7h4.0M571.6,235.7v4.0M570.5,238.6h4.0M572.5,236.6v4.0M570.6,237.7h4.0M572.6,235.7v4.0M571.4,238.5h4.0M573.4,236.5v4.0M571.5,238.2h4.0M573.5,236.2v4.0M571.3,238.9h4.0M573.3,236.9v4.0M571.8,238.3h4.0M573.8,236.3v4.0M572.0,239.1h4.0M574.0,237.1v4.0M573.2,238.1h4.0M575.2,236.1v4.0M572.8,238.5h4.0M574.8,236.5v4.0M573.1,238.4h4.0M575.1,236.4v4.0M573.4,238.9h4.0M575.4,236.9v4.0M574.5,239.0h4.0M576.5,237.0v4.0M574.6,239.0h4.0M576.6,237.0v4.0M575.2,239.2h4.0M577.2,237.2v4.0M575.8,239.3h4.0M577.8,237.3v4.0M576.2,239.2h4.0M578.2,237.2v4.0M576.3,239.5h4.0M578.3,237.5v4.0M577.3,240.1h4.0M579.3,238.1v4.0M576.6,239.6h4.0M578.6,237.6v4.0M577.4,240.0h4.0M579.4,238.0v4.0M578.3,239.9h4.0M580.3,237.9v4.0M577.8,240.4h4.0M579.8,238.4v4.0M578.6,239.4h4.0M580.6,237.4v4.0M578.9,240.3h4.0M580.9,238.3v4.0M580.0,240.2h4.0M582.0,238.2v4.0M580.2,239.6h4.0M582.2,237.6v4.0M581.3,240.0h4.0M583.3,238.0v4.0M581.8,240.0h4.0M583.8,238.0v4.0M582.1,240.8h4.0M584.1,238.8v4.0M584.6,240.8h4.0M586.6,238.8v4.0M586.5,242.0h4.0M588.5,240.0v4.0M587.7,241.5h4.0M589.7,239.5v4.0M589.0,241.9h4.0M591.0,239.9v4.0" stroke="#9467bd" stroke-width="0.9" fill="none" opacity="1.0"/>
<path d="M591.30,242.11 H598.98 V243.43 H608.00 V245.12 H612.41 V246.62 H619.13 V249.07 H623.92 V250.94 H629.68 V252.82 H637.36 V254.14 H645.03 V255.45 H650.79 V256.39 H654.63 V257.15 H669.98 V257.15" stroke="#9467bd" stroke-width="1.1" fill="none"/>
<path d="M595.26,243.43h3.60M597.06,241.63v3.60M601.01,244.37h3.60M602.81,242.57v3.60M608.69,246.25h3.60M610.49,244.45v3.60M614.45,248.13h3.60M616.25,246.33v3.60M620.20,250.00h3.60M622.00,248.20v3.60M631.72,253.76h3.60M633.52,251.96v3.60M641.31,255.27h3.60M643.11,253.47v3.60M647.07,256.02h3.60M648.87,254.22v3.60M658.58,257.15h3.60M660.38,255.35v3.60M668.18,257.15h3.60M669.98,255.35v3.60" stroke="#9467bd" stroke-width="0.8" fill="none" opacity="1.0"/>
<path d="M386.4,71.5H683.5V259.4" fill="none" stroke="#a4a4a4" stroke-width="1.0"/>
<path d="M386.4,71.5V259.4" fill="none" stroke="#a4a4a4" stroke-width="1.0"/>
<line x1="386.4" y1="259.4" x2="683.5" y2="259.4" stroke="#a4a4a4" stroke-width="1.0"/>
<line x1="399.40" y1="259.40" x2="399.40" y2="260.70" stroke="#333" stroke-width="0.7"/>
<text x="399.40" y="267.40" font-size="6.0" text-anchor="middle" fill="#000" font-family='"Liberation Serif", serif' >0</text>
<text x="399.60" y="267.40" font-size="6.0" text-anchor="middle" fill="#000" opacity="0.55" font-family='"Liberation Serif", serif' >0</text>
<line x1="437.78" y1="259.40" x2="437.78" y2="260.70" stroke="#333" stroke-width="0.7"/>
<text x="437.78" y="267.40" font-size="6.0" text-anchor="middle" fill="#000" font-family='"Liberation Serif", serif' >20</text>
<text x="437.98" y="267.40" font-size="6.0" text-anchor="middle" fill="#000" opacity="0.55" font-family='"Liberation Serif", serif' >20</text>
<line x1="476.16" y1="259.40" x2="476.16" y2="260.70" stroke="#333" stroke-width="0.7"/>
<text x="476.16" y="267.40" font-size="6.0" text-anchor="middle" fill="#000" font-family='"Liberation Serif", serif' >40</text>
<text x="476.36" y="267.40" font-size="6.0" text-anchor="middle" fill="#000" opacity="0.55" font-family='"Liberation Serif", serif' >40</text>
<line x1="514.54" y1="259.40" x2="514.54" y2="260.70" stroke="#333" stroke-width="0.7"/>
<text x="514.54" y="267.40" font-size="6.0" text-anchor="middle" fill="#000" font-family='"Liberation Serif", serif' >60</text>
<text x="514.74" y="267.40" font-size="6.0" text-anchor="middle" fill="#000" opacity="0.55" font-family='"Liberation Serif", serif' >60</text>
<line x1="552.92" y1="259.40" x2="552.92" y2="260.70" stroke="#333" stroke-width="0.7"/>
<text x="552.92" y="267.40" font-size="6.0" text-anchor="middle" fill="#000" font-family='"Liberation Serif", serif' >80</text>
<text x="553.12" y="267.40" font-size="6.0" text-anchor="middle" fill="#000" opacity="0.55" font-family='"Liberation Serif", serif' >80</text>
<line x1="591.30" y1="259.40" x2="591.30" y2="260.70" stroke="#333" stroke-width="0.7"/>
<text x="591.30" y="267.40" font-size="6.0" text-anchor="middle" fill="#000" font-family='"Liberation Serif", serif' >100</text>
<text x="591.50" y="267.40" font-size="6.0" text-anchor="middle" fill="#000" opacity="0.55" font-family='"Liberation Serif", serif' >100</text>
<line x1="629.68" y1="259.40" x2="629.68" y2="260.70" stroke="#333" stroke-width="0.7"/>
<text x="629.68" y="267.40" font-size="6.0" text-anchor="middle" fill="#000" font-family='"Liberation Serif", serif' >120</text>
<text x="629.88" y="267.40" font-size="6.0" text-anchor="middle" fill="#000" opacity="0.55" font-family='"Liberation Serif", serif' >120</text>
<line x1="668.06" y1="259.40" x2="668.06" y2="260.70" stroke="#333" stroke-width="0.7"/>
<text x="668.06" y="267.40" font-size="6.0" text-anchor="middle" fill="#000" font-family='"Liberation Serif", serif' >140</text>
<text x="668.26" y="267.40" font-size="6.0" text-anchor="middle" fill="#000" opacity="0.55" font-family='"Liberation Serif", serif' >140</text>
<line x1="385.10" y1="259.40" x2="386.40" y2="259.40" stroke="#333" stroke-width="0.7"/>
<text x="383.30" y="261.38" font-size="6.0" text-anchor="end" fill="#000" font-family='"Liberation Serif", serif' >0.0</text>
<text x="383.50" y="261.38" font-size="6.0" text-anchor="end" fill="#000" opacity="0.55" font-family='"Liberation Serif", serif' >0.0</text>
<line x1="385.10" y1="221.82" x2="386.40" y2="221.82" stroke="#333" stroke-width="0.7"/>
<text x="383.30" y="223.80" font-size="6.0" text-anchor="end" fill="#000" font-family='"Liberation Serif", serif' >0.2</text>
<text x="383.50" y="223.80" font-size="6.0" text-anchor="end" fill="#000" opacity="0.55" font-family='"Liberation Serif", serif' >0.2</text>
<line x1="385.10" y1="184.24" x2="386.40" y2="184.24" stroke="#333" stroke-width="0.7"/>
<text x="383.30" y="186.22" font-size="6.0" text-anchor="end" fill="#000" font-family='"Liberation Serif", serif' >0.4</text>
<text x="383.50" y="186.22" font-size="6.0" text-anchor="end" fill="#000" opacity="0.55" font-family='"Liberation Serif", serif' >0.4</text>
<line x1="385.10" y1="146.66" x2="386.40" y2="146.66" stroke="#333" stroke-width="0.7"/>
<text x="383.30" y="148.64" font-size="6.0" text-anchor="end" fill="#000" font-family='"Liberation Serif", serif' >0.6</text>
<text x="383.50" y="148.64" font-size="6.0" text-anchor="end" fill="#000" opacity="0.55" font-family='"Liberation Serif", serif' >0.6</text>
<line x1="385.10" y1="109.08" x2="386.40" y2="109.08" stroke="#333" stroke-width="0.7"/>
<text x="383.30" y="111.06" font-size="6.0" text-anchor="end" fill="#000" font-family='"Liberation Serif", serif' >0.8</text>
<text x="383.50" y="111.06" font-size="6.0" text-anchor="end" fill="#000" opacity="0.55" font-family='"Liberation Serif", serif' >0.8</text>
<line x1="385.10" y1="71.50" x2="386.40" y2="71.50" stroke="#333" stroke-width="0.7"/>
<text x="383.30" y="73.48" font-size="6.0" text-anchor="end" fill="#000" font-family='"Liberation Serif", serif' >1.0</text>
<text x="383.50" y="73.48" font-size="6.0" text-anchor="end" fill="#000" opacity="0.55" font-family='"Liberation Serif", serif' >1.0</text>
<text x="530.70" y="277.20" font-size="7.12" text-anchor="middle" font-weight="bold" fill="#000" font-family='"Liberation Serif", serif' >Time (Months)</text>
<text x="530.90" y="277.20" font-size="7.12" text-anchor="middle" font-weight="bold" fill="#000" opacity="0.55" font-family='"Liberation Serif", serif' >Time (Months)</text>
<text x="0.00" y="0.00" font-size="7.16" text-anchor="middle" font-weight="bold" fill="#000" font-family='"Liberation Serif", serif' transform="translate(364.0,175.8) rotate(-90)">Real-World Overall Survival Proportion</text>
<text x="0.00" y="-0.20" font-size="7.16" text-anchor="middle" font-weight="bold" fill="#000" opacity="0.55" font-family='"Liberation Serif", serif' transform="translate(364.0,175.8) rotate(-90)">Real-World Overall Survival Proportion</text>
<text x="319.70" y="289.60" font-size="6.07" text-anchor="start" font-weight="bold" fill="#000" font-family='"Liberation Serif", serif' >EOEGC CDH1 WT</text>
<text x="319.90" y="289.60" font-size="6.07" text-anchor="start" font-weight="bold" fill="#000" opacity="0.55" font-family='"Liberation Serif", serif' >EOEGC CDH1 WT</text>
<text x="404.80" y="289.60" font-size="5.85" text-anchor="end" fill="#000" font-family='"Liberation Serif", serif' >650</text>
<text x="405.00" y="289.60" font-size="5.85" text-anchor="end" fill="#000" opacity="0.55" font-family='"Liberation Serif", serif' >650</text>
<text x="442.30" y="289.60" font-size="5.85" text-anchor="end" fill="#000" font-family='"Liberation Serif", serif' >202</text>
<text x="442.50" y="289.60" font-size="5.85" text-anchor="end" fill="#000" opacity="0.55" font-family='"Liberation Serif", serif' >202</text>
<text x="478.90" y="289.60" font-size="5.85" text-anchor="end" fill="#000" font-family='"Liberation Serif", serif' >76</text>
<text x="479.10" y="289.60" font-size="5.85" text-anchor="end" fill="#000" opacity="0.55" font-family='"Liberation Serif", serif' >76</text>
<text x="517.50" y="289.60" font-size="5.85" text-anchor="end" fill="#000" font-family='"Liberation Serif", serif' >30</text>
<text x="517.70" y="289.60" font-size="5.85" text-anchor="end" fill="#000" opacity="0.55" font-family='"Liberation Serif", serif' >30</text>
<text x="555.90" y="289.60" font-size="5.85" text-anchor="end" fill="#000" font-family='"Liberation Serif", serif' >11</text>
<text x="556.10" y="289.60" font-size="5.85" text-anchor="end" fill="#000" opacity="0.55" font-family='"Liberation Serif", serif' >11</text>
<text x="594.60" y="289.60" font-size="5.85" text-anchor="end" fill="#000" font-family='"Liberation Serif", serif' >2</text>
<text x="594.80" y="289.60" font-size="5.85" text-anchor="end" fill="#000" opacity="0.55" font-family='"Liberation Serif", serif' >2</text>
<text x="630.80" y="289.60" font-size="5.85" text-anchor="end" fill="#000" font-family='"Liberation Serif", serif' >0</text>
<text x="631.00" y="289.60" font-size="5.85" text-anchor="end" fill="#000" opacity="0.55" font-family='"Liberation Serif", serif' >0</text>
<text x="669.50" y="289.60" font-size="5.85" text-anchor="end" fill="#000" font-family='"Liberation Serif", serif' >0</text>
<text x="669.70" y="289.60" font-size="5.85" text-anchor="end" fill="#000" opacity="0.55" font-family='"Liberation Serif", serif' >0</text>
<text x="319.70" y="300.60" font-size="6.07" text-anchor="start" font-weight="bold" fill="#000" font-family='"Liberation Serif", serif' >EOEGC CDH1 MT</text>
<text x="319.90" y="300.60" font-size="6.07" text-anchor="start" font-weight="bold" fill="#000" opacity="0.55" font-family='"Liberation Serif", serif' >EOEGC CDH1 MT</text>
<text x="404.80" y="300.60" font-size="5.85" text-anchor="end" fill="#000" font-family='"Liberation Serif", serif' >139</text>
<text x="405.00" y="300.60" font-size="5.85" text-anchor="end" fill="#000" opacity="0.55" font-family='"Liberation Serif", serif' >139</text>
<text x="442.30" y="300.60" font-size="5.85" text-anchor="end" fill="#000" font-family='"Liberation Serif", serif' >38</text>
<text x="442.50" y="300.60" font-size="5.85" text-anchor="end" fill="#000" opacity="0.55" font-family='"Liberation Serif", serif' >38</text>
<text x="478.90" y="300.60" font-size="5.85" text-anchor="end" fill="#000" font-family='"Liberation Serif", serif' >15</text>
<text x="479.10" y="300.60" font-size="5.85" text-anchor="end" fill="#000" opacity="0.55" font-family='"Liberation Serif", serif' >15</text>
<text x="517.50" y="300.60" font-size="5.85" text-anchor="end" fill="#000" font-family='"Liberation Serif", serif' >2</text>
<text x="517.70" y="300.60" font-size="5.85" text-anchor="end" fill="#000" opacity="0.55" font-family='"Liberation Serif", serif' >2</text>
<text x="555.90" y="300.60" font-size="5.85" text-anchor="end" fill="#000" font-family='"Liberation Serif", serif' >0</text>
<text x="556.10" y="300.60" font-size="5.85" text-anchor="end" fill="#000" opacity="0.55" font-family='"Liberation Serif", serif' >0</text>
<text x="594.60" y="300.60" font-size="5.85" text-anchor="end" fill="#000" font-family='"Liberation Serif", serif' >0</text>
<text x="594.80" y="300.60" font-size="5.85" text-anchor="end" fill="#000" opacity="0.55" font-family='"Liberation Serif", serif' >0</text>
<text x="630.80" y="300.60" font-size="5.85" text-anchor="end" fill="#000" font-family='"Liberation Serif", serif' >0</text>
<text x="631.00" y="300.60" font-size="5.85" text-anchor="end" fill="#000" opacity="0.55" font-family='"Liberation Serif", serif' >0</text>
<text x="669.50" y="300.60" font-size="5.85" text-anchor="end" fill="#000" font-family='"Liberation Serif", serif' >0</text>
<text x="669.70" y="300.60" font-size="5.85" text-anchor="end" fill="#000" opacity="0.55" font-family='"Liberation Serif", serif' >0</text>
<text x="319.70" y="311.60" font-size="6.07" text-anchor="start" font-weight="bold" fill="#000" font-family='"Liberation Serif", serif' >IOEGC CDH1 WT</text>
<text x="319.90" y="311.60" font-size="6.07" text-anchor="start" font-weight="bold" fill="#000" opacity="0.55" font-family='"Liberation Serif", serif' >IOEGC CDH1 WT</text>
<text x="404.80" y="311.60" font-size="5.85" text-anchor="end" fill="#000" font-family='"Liberation Serif", serif' >2270</text>
<text x="405.00" y="311.60" font-size="5.85" text-anchor="end" fill="#000" opacity="0.55" font-family='"Liberation Serif", serif' >2270</text>
<text x="442.30" y="311.60" font-size="5.85" text-anchor="end" fill="#000" font-family='"Liberation Serif", serif' >878</text>
<text x="442.50" y="311.60" font-size="5.85" text-anchor="end" fill="#000" opacity="0.55" font-family='"Liberation Serif", serif' >878</text>
<text x="478.90" y="311.60" font-size="5.85" text-anchor="end" fill="#000" font-family='"Liberation Serif", serif' >298</text>
<text x="479.10" y="311.60" font-size="5.85" text-anchor="end" fill="#000" opacity="0.55" font-family='"Liberation Serif", serif' >298</text>
<text x="517.50" y="311.60" font-size="5.85" text-anchor="end" fill="#000" font-family='"Liberation Serif", serif' >116</text>
<text x="517.70" y="311.60" font-size="5.85" text-anchor="end" fill="#000" opacity="0.55" font-family='"Liberation Serif", serif' >116</text>
<text x="555.90" y="311.60" font-size="5.85" text-anchor="end" fill="#000" font-family='"Liberation Serif", serif' >40</text>
<text x="556.10" y="311.60" font-size="5.85" text-anchor="end" fill="#000" opacity="0.55" font-family='"Liberation Serif", serif' >40</text>
<text x="594.60" y="311.60" font-size="5.85" text-anchor="end" fill="#000" font-family='"Liberation Serif", serif' >8</text>
<text x="594.80" y="311.60" font-size="5.85" text-anchor="end" fill="#000" opacity="0.55" font-family='"Liberation Serif", serif' >8</text>
<text x="630.80" y="311.60" font-size="5.85" text-anchor="end" fill="#000" font-family='"Liberation Serif", serif' >3</text>
<text x="631.00" y="311.60" font-size="5.85" text-anchor="end" fill="#000" opacity="0.55" font-family='"Liberation Serif", serif' >3</text>
<text x="669.50" y="311.60" font-size="5.85" text-anchor="end" fill="#000" font-family='"Liberation Serif", serif' >0</text>
<text x="669.70" y="311.60" font-size="5.85" text-anchor="end" fill="#000" opacity="0.55" font-family='"Liberation Serif", serif' >0</text>
<text x="319.70" y="322.60" font-size="6.07" text-anchor="start" font-weight="bold" fill="#000" font-family='"Liberation Serif", serif' >IOEGC CDH1 MT</text>
<text x="319.90" y="322.60" font-size="6.07" text-anchor="start" font-weight="bold" fill="#000" opacity="0.55" font-family='"Liberation Serif", serif' >IOEGC CDH1 MT</text>
<text x="404.80" y="322.60" font-size="5.85" text-anchor="end" fill="#000" font-family='"Liberation Serif", serif' >200</text>
<text x="405.00" y="322.60" font-size="5.85" text-anchor="end" fill="#000" opacity="0.55" font-family='"Liberation Serif", serif' >200</text>
<text x="442.30" y="322.60" font-size="5.85" text-anchor="end" fill="#000" font-family='"Liberation Serif", serif' >72</text>
<text x="442.50" y="322.60" font-size="5.85" text-anchor="end" fill="#000" opacity="0.55" font-family='"Liberation Serif", serif' >72</text>
<text x="478.90" y="322.60" font-size="5.85" text-anchor="end" fill="#000" font-family='"Liberation Serif", serif' >20</text>
<text x="479.10" y="322.60" font-size="5.85" text-anchor="end" fill="#000" opacity="0.55" font-family='"Liberation Serif", serif' >20</text>
<text x="517.50" y="322.60" font-size="5.85" text-anchor="end" fill="#000" font-family='"Liberation Serif", serif' >7</text>
<text x="517.70" y="322.60" font-size="5.85" text-anchor="end" fill="#000" opacity="0.55" font-family='"Liberation Serif", serif' >7</text>
<text x="555.90" y="322.60" font-size="5.85" text-anchor="end" fill="#000" font-family='"Liberation Serif", serif' >1</text>
<text x="556.10" y="322.60" font-size="5.85" text-anchor="end" fill="#000" opacity="0.55" font-family='"Liberation Serif", serif' >1</text>
<text x="594.60" y="322.60" font-size="5.85" text-anchor="end" fill="#000" font-family='"Liberation Serif", serif' >0</text>
<text x="594.80" y="322.60" font-size="5.85" text-anchor="end" fill="#000" opacity="0.55" font-family='"Liberation Serif", serif' >0</text>
<text x="630.80" y="322.60" font-size="5.85" text-anchor="end" fill="#000" font-family='"Liberation Serif", serif' >0</text>
<text x="631.00" y="322.60" font-size="5.85" text-anchor="end" fill="#000" opacity="0.55" font-family='"Liberation Serif", serif' >0</text>
<text x="669.50" y="322.60" font-size="5.85" text-anchor="end" fill="#000" font-family='"Liberation Serif", serif' >0</text>
<text x="669.70" y="322.60" font-size="5.85" text-anchor="end" fill="#000" opacity="0.55" font-family='"Liberation Serif", serif' >0</text>
<text x="319.70" y="333.70" font-size="6.07" text-anchor="start" font-weight="bold" fill="#000" font-family='"Liberation Serif", serif' >AOEGC CDH1 WT</text>
<text x="319.90" y="333.70" font-size="6.07" text-anchor="start" font-weight="bold" fill="#000" opacity="0.55" font-family='"Liberation Serif", serif' >AOEGC CDH1 WT</text>
<text x="404.80" y="333.70" font-size="5.85" text-anchor="end" fill="#000" font-family='"Liberation Serif", serif' >3271</text>
<text x="405.00" y="333.70" font-size="5.85" text-anchor="end" fill="#000" opacity="0.55" font-family='"Liberation Serif", serif' >3271</text>
<text x="442.30" y="333.70" font-size="5.85" text-anchor="end" fill="#000" font-family='"Liberation Serif", serif' >1243</text>
<text x="442.50" y="333.70" font-size="5.85" text-anchor="end" fill="#000" opacity="0.55" font-family='"Liberation Serif", serif' >1243</text>
<text x="478.90" y="333.70" font-size="5.85" text-anchor="end" fill="#000" font-family='"Liberation Serif", serif' >531</text>
<text x="479.10" y="333.70" font-size="5.85" text-anchor="end" fill="#000" opacity="0.55" font-family='"Liberation Serif", serif' >531</text>
<text x="517.50" y="333.70" font-size="5.85" text-anchor="end" fill="#000" font-family='"Liberation Serif", serif' >255</text>
<text x="517.70" y="333.70" font-size="5.85" text-anchor="end" fill="#000" opacity="0.55" font-family='"Liberation Serif", serif' >255</text>
<text x="555.90" y="333.70" font-size="5.85" text-anchor="end" fill="#000" font-family='"Liberation Serif", serif' >116</text>
<text x="556.10" y="333.70" font-size="5.85" text-anchor="end" fill="#000" opacity="0.55" font-family='"Liberation Serif", serif' >116</text>
<text x="594.60" y="333.70" font-size="5.85" text-anchor="end" fill="#000" font-family='"Liberation Serif", serif' >49</text>
<text x="594.80" y="333.70" font-size="5.85" text-anchor="end" fill="#000" opacity="0.55" font-family='"Liberation Serif", serif' >49</text>
<text x="630.80" y="333.70" font-size="5.85" text-anchor="end" fill="#000" font-family='"Liberation Serif", serif' >11</text>
<text x="631.00" y="333.70" font-size="5.85" text-anchor="end" fill="#000" opacity="0.55" font-family='"Liberation Serif", serif' >11</text>
<text x="669.50" y="333.70" font-size="5.85" text-anchor="end" fill="#000" font-family='"Liberation Serif", serif' >1</text>
<text x="669.70" y="333.70" font-size="5.85" text-anchor="end" fill="#000" opacity="0.55" font-family='"Liberation Serif", serif' >1</text>
<text x="319.70" y="344.80" font-size="6.07" text-anchor="start" font-weight="bold" fill="#000" font-family='"Liberation Serif", serif' >AOEGC CDH1 MT</text>
<text x="319.90" y="344.80" font-size="6.07" text-anchor="start" font-weight="bold" fill="#000" opacity="0.55" font-family='"Liberation Serif", serif' >AOEGC CDH1 MT</text>
<text x="404.80" y="344.80" font-size="5.85" text-anchor="end" fill="#000" font-family='"Liberation Serif", serif' >218</text>
<text x="405.00" y="344.80" font-size="5.85" text-anchor="end" fill="#000" opacity="0.55" font-family='"Liberation Serif", serif' >218</text>
<text x="442.30" y="344.80" font-size="5.85" text-anchor="end" fill="#000" font-family='"Liberation Serif", serif' >85</text>
<text x="442.50" y="344.80" font-size="5.85" text-anchor="end" fill="#000" opacity="0.55" font-family='"Liberation Serif", serif' >85</text>
<text x="478.90" y="344.80" font-size="5.85" text-anchor="end" fill="#000" font-family='"Liberation Serif", serif' >35</text>
<text x="479.10" y="344.80" font-size="5.85" text-anchor="end" fill="#000" opacity="0.55" font-family='"Liberation Serif", serif' >35</text>
<text x="517.50" y="344.80" font-size="5.85" text-anchor="end" fill="#000" font-family='"Liberation Serif", serif' >15</text>
<text x="517.70" y="344.80" font-size="5.85" text-anchor="end" fill="#000" opacity="0.55" font-family='"Liberation Serif", serif' >15</text>
<text x="555.90" y="344.80" font-size="5.85" text-anchor="end" fill="#000" font-family='"Liberation Serif", serif' >9</text>
<text x="556.10" y="344.80" font-size="5.85" text-anchor="end" fill="#000" opacity="0.55" font-family='"Liberation Serif", serif' >9</text>
<text x="594.60" y="344.80" font-size="5.85" text-anchor="end" fill="#000" font-family='"Liberation Serif", serif' >3</text>
<text x="594.80" y="344.80" font-size="5.85" text-anchor="end" fill="#000" opacity="0.55" font-family='"Liberation Serif", serif' >3</text>
<text x="630.80" y="344.80" font-size="5.85" text-anchor="end" fill="#000" font-family='"Liberation Serif", serif' >2</text>
<text x="631.00" y="344.80" font-size="5.85" text-anchor="end" fill="#000" opacity="0.55" font-family='"Liberation Serif", serif' >2</text>
<text x="669.50" y="344.80" font-size="5.85" text-anchor="end" fill="#000" font-family='"Liberation Serif", serif' >0</text>
<text x="669.70" y="344.80" font-size="5.85" text-anchor="end" fill="#000" opacity="0.55" font-family='"Liberation Serif", serif' >0</text>
<rect x="580.5" y="74.5" width="100" height="62.2" fill="#fff" stroke="#7e878f" stroke-width="1.0"/>
<line x1="585.6" y1="81.40" x2="606.4" y2="81.40" stroke="#8fb9e3" stroke-width="1.0"/>
<text x="668.10" y="83.70" font-size="7.08" text-anchor="end" fill="#000" font-family='"Liberation Serif", serif' >EOEGC CDH1 WT</text>
<text x="668.30" y="83.70" font-size="7.08" text-anchor="end" fill="#000" opacity="0.55" font-family='"Liberation Serif", serif' >EOEGC CDH1 WT</text>
<line x1="585.6" y1="91.50" x2="606.4" y2="91.50" stroke="#e98a5e" stroke-width="1.0"/>
<text x="668.10" y="93.50" font-size="7.08" text-anchor="end" fill="#000" font-family='"Liberation Serif", serif' >EOEGC CDH1 MT</text>
<text x="668.30" y="93.50" font-size="7.08" text-anchor="end" fill="#000" opacity="0.55" font-family='"Liberation Serif", serif' >EOEGC CDH1 MT</text>
<line x1="585.6" y1="101.20" x2="606.4" y2="101.20" stroke="#a3d895" stroke-width="1.1"/>
<text x="668.10" y="103.30" font-size="7.08" text-anchor="end" fill="#000" font-family='"Liberation Serif", serif' >IOEGC CDH1 WT</text>
<text x="668.30" y="103.30" font-size="7.08" text-anchor="end" fill="#000" opacity="0.55" font-family='"Liberation Serif", serif' >IOEGC CDH1 WT</text>
<line x1="585.6" y1="110.90" x2="606.4" y2="110.90" stroke="#f0b2b2" stroke-width="1.3"/>
<text x="668.10" y="113.10" font-size="7.08" text-anchor="end" fill="#000" font-family='"Liberation Serif", serif' >IOEGC CDH1 MT</text>
<text x="668.30" y="113.10" font-size="7.08" text-anchor="end" fill="#000" opacity="0.55" font-family='"Liberation Serif", serif' >IOEGC CDH1 MT</text>
<line x1="585.6" y1="120.50" x2="606.4" y2="120.50" stroke="#b496d6" stroke-width="1.0"/>
<text x="668.10" y="122.90" font-size="7.08" text-anchor="end" fill="#000" font-family='"Liberation Serif", serif' >AOEGC CDH1 WT</text>
<text x="668.30" y="122.90" font-size="7.08" text-anchor="end" fill="#000" opacity="0.55" font-family='"Liberation Serif", serif' >AOEGC CDH1 WT</text>
<line x1="585.6" y1="130.30" x2="606.4" y2="130.30" stroke="#c09a8c" stroke-width="1.1"/>
<text x="668.10" y="132.70" font-size="7.08" text-anchor="end" fill="#000" font-family='"Liberation Serif", serif' >AOEGC CDH1 MT</text>
<text x="668.30" y="132.70" font-size="7.08" text-anchor="end" fill="#000" opacity="0.55" font-family='"Liberation Serif", serif' >AOEGC CDH1 MT</text>
<line x1="55.60" y1="399.50" x2="55.60" y2="618.30" stroke="#e2e2e2" stroke-width="1"/>
<line x1="101.35" y1="399.50" x2="101.35" y2="618.30" stroke="#e2e2e2" stroke-width="1"/>
<line x1="147.10" y1="399.50" x2="147.10" y2="618.30" stroke="#e2e2e2" stroke-width="1"/>
<line x1="192.85" y1="399.50" x2="192.85" y2="618.30" stroke="#e2e2e2" stroke-width="1"/>
<line x1="238.60" y1="399.50" x2="238.60" y2="618.30" stroke="#e2e2e2" stroke-width="1"/>
<line x1="44.60" y1="574.54" x2="282.50" y2="574.54" stroke="#e2e2e2" stroke-width="1"/>
<line x1="44.60" y1="530.78" x2="282.50" y2="530.78" stroke="#e2e2e2" stroke-width="1"/>
<line x1="44.60" y1="487.02" x2="282.50" y2="487.02" stroke="#e2e2e2" stroke-width="1"/>
<line x1="44.60" y1="443.26" x2="282.50" y2="443.26" stroke="#e2e2e2" stroke-width="1"/>
<text x="50.40" y="369.70" font-size="7.2" text-anchor="start" fill="#000" font-family='"Liberation Serif", serif' >EOEGC: Median rwOS 11.4 months (95% CI: 10.5 months – 13.5 months)</text>
<text x="50.60" y="369.70" font-size="7.2" text-anchor="start" fill="#000" opacity="0.55" font-family='"Liberation Serif", serif' >EOEGC: Median rwOS 11.4 months (95% CI: 10.5 months – 13.5 months)</text>
<text x="50.40" y="378.60" font-size="7.2" text-anchor="start" fill="#000" font-family='"Liberation Serif", serif' >IOEGC: Median rwOS 12.8 months (95% CI: 11.6 months – 14.0 months)</text>
<text x="50.60" y="378.60" font-size="7.2" text-anchor="start" fill="#000" opacity="0.55" font-family='"Liberation Serif", serif' >IOEGC: Median rwOS 12.8 months (95% CI: 11.6 months – 14.0 months)</text>
<text x="50.40" y="387.00" font-size="7.2" text-anchor="start" fill="#000" font-family='"Liberation Serif", serif' >AOEGC: Median rwOS 12.0 months (95% CI: 11.0 months – 13.1 months)</text>
<text x="50.60" y="387.00" font-size="7.2" text-anchor="start" fill="#000" opacity="0.55" font-family='"Liberation Serif", serif' >AOEGC: Median rwOS 12.0 months (95% CI: 11.0 months – 13.1 months)</text>
<text x="159.50" y="395.80" font-size="7.2" text-anchor="middle" fill="#000" font-family='"Liberation Serif", serif' >p=0.255</text>
<text x="159.70" y="395.80" font-size="7.2" text-anchor="middle" fill="#000" opacity="0.55" font-family='"Liberation Serif", serif' >p=0.255</text>
<path d="M55.6,399.5L55.8,400.7L56.0,401.9L56.2,403.0L56.4,404.2L56.6,405.4L56.7,406.6L56.9,407.8L57.1,409.0L57.3,410.1L57.5,411.3L57.7,412.4L57.9,413.5L58.1,414.7L58.3,415.8L58.5,416.9L58.7,418.0L58.9,419.1L59.1,420.2L59.4,421.3L59.6,422.4L59.8,423.4L60.0,424.6L60.2,425.7L60.4,426.9L60.6,428.2L60.9,429.5L61.1,430.9L61.3,432.3L61.5,433.8L61.8,435.2L62.0,436.6L62.2,438.1L62.5,439.4L62.7,440.8L62.9,442.0L63.1,443.3L63.5,444.9L63.8,446.5L64.1,448.1L64.4,449.6L64.8,451.0L65.1,452.5L65.4,453.9L65.7,455.3L66.1,456.6L66.4,457.9L66.7,459.3L67.0,460.5L67.4,461.9L67.7,463.2L68.1,464.5L68.4,465.7L68.8,467.0L69.1,468.2L69.4,469.4L69.8,470.5L70.1,471.7L70.5,472.9L70.8,474.0L71.2,475.2L71.5,476.4L71.8,477.5L72.2,478.6L72.5,479.8L72.9,480.9L73.2,482.0L73.6,483.1L73.9,484.2L74.2,485.3L74.6,486.4L74.9,487.5L75.3,488.6L75.8,490.4L76.4,492.3L77.0,494.3L77.6,496.2L78.1,498.2L78.7,500.1L79.3,502.0L79.8,503.8L80.4,505.5L81.0,507.2L81.6,508.7L82.1,510.0L82.9,511.6L83.6,513.0L84.4,514.3L85.1,515.5L85.9,516.6L86.6,517.7L87.3,518.8L88.1,519.9L88.8,521.1L89.6,522.2L90.3,523.5L91.1,524.9L91.6,525.9L92.2,526.8L92.7,527.6L93.3,528.5L93.8,529.4L94.4,530.3L94.9,531.4L95.5,532.6L96.0,534.0L96.6,535.6L97.1,537.5L97.7,539.8L97.8,540.2L97.8,540.8L97.9,541.6L98.0,542.4L98.1,543.4L98.1,544.4L98.2,545.3L98.3,546.3L98.4,547.1L98.5,547.8L98.5,548.4L98.6,548.7L99.1,550.2L99.6,551.4L100.1,552.4L100.6,553.3L101.1,554.0L101.6,554.7L102.1,555.2L102.6,555.7L103.1,556.1L103.6,556.6L104.1,557.1L104.6,557.7L105.5,558.9L106.5,560.0L107.5,561.0L108.5,562.0L109.5,562.9L110.5,563.9L111.5,564.8L112.5,565.7L113.5,566.6L114.5,567.6L115.5,568.6L116.4,569.7L116.8,570.1L117.1,570.5L117.4,570.9L117.7,571.4L118.0,571.9L118.3,572.3L118.6,572.8L118.9,573.2L119.2,573.5L119.5,573.9L119.8,574.1L120.1,574.3L120.7,574.6L121.2,574.8L121.8,575.0L122.3,575.2L122.9,575.3L123.4,575.5L124.0,575.6L124.5,575.7L125.1,575.9L125.6,576.0L126.2,576.1L126.7,576.3" stroke="#1f77b4" stroke-width="1.0" fill="none" opacity="0.75"/>
<path d="M53.5,399.5h3.6M55.3,397.7v3.6M53.8,400.7h3.6M55.6,398.9v3.6M54.3,401.2h3.6M56.1,399.4v3.6M53.8,403.1h3.6M55.6,401.3v3.6M54.3,403.6h3.6M56.1,401.8v3.6M55.2,404.9h3.6M57.0,403.1v3.6M55.2,406.0h3.6M57.0,404.2v3.6M55.2,406.8h3.6M57.0,405.0v3.6M55.3,408.6h3.6M57.1,406.8v3.6M55.4,409.5h3.6M57.2,407.7v3.6M55.7,409.9h3.6M57.5,408.1v3.6M56.0,411.5h3.6M57.8,409.7v3.6M55.7,412.1h3.6M57.5,410.3v3.6M56.5,413.6h3.6M58.3,411.8v3.6M56.5,415.1h3.6M58.3,413.3v3.6M56.7,416.2h3.6M58.5,414.4v3.6M56.6,417.2h3.6M58.4,415.4v3.6M56.9,418.4h3.6M58.7,416.6v3.6M57.5,418.6h3.6M59.3,416.8v3.6M57.0,419.8h3.6M58.8,418.0v3.6M58.0,421.1h3.6M59.8,419.3v3.6M57.9,422.1h3.6M59.7,420.3v3.6M58.0,423.2h3.6M59.8,421.4v3.6M58.0,424.5h3.6M59.8,422.7v3.6M58.4,425.9h3.6M60.2,424.1v3.6M58.7,427.0h3.6M60.5,425.2v3.6M59.1,428.2h3.6M60.9,426.4v3.6M59.1,428.4h3.6M60.9,426.6v3.6M59.5,430.3h3.6M61.3,428.5v3.6M59.7,431.0h3.6M61.5,429.2v3.6M59.7,431.7h3.6M61.5,429.9v3.6M60.0,433.2h3.6M61.8,431.4v3.6M59.6,433.7h3.6M61.4,431.9v3.6M60.3,435.8h3.6M62.1,434.0v3.6M59.7,436.7h3.6M61.5,434.9v3.6M60.2,437.1h3.6M62.0,435.3v3.6M60.3,438.8h3.6M62.1,437.0v3.6M61.1,439.2h3.6M62.9,437.4v3.6M61.0,440.2h3.6M62.8,438.4v3.6M61.3,441.6h3.6M63.1,439.8v3.6M61.7,443.3h3.6M63.5,441.5v3.6M61.5,444.4h3.6M63.3,442.6v3.6M61.5,444.6h3.6M63.3,442.8v3.6M62.0,445.6h3.6M63.8,443.8v3.6M61.8,447.1h3.6M63.6,445.3v3.6M62.5,447.9h3.6M64.3,446.1v3.6M62.1,449.7h3.6M63.9,447.9v3.6M62.6,450.9h3.6M64.4,449.1v3.6M63.5,451.4h3.6M65.3,449.6v3.6M63.3,452.6h3.6M65.1,450.8v3.6M63.7,453.7h3.6M65.5,451.9v3.6M63.9,454.8h3.6M65.7,453.0v3.6M64.5,455.8h3.6M66.3,454.0v3.6M64.2,457.0h3.6M66.0,455.2v3.6M64.3,457.7h3.6M66.1,455.9v3.6M65.3,459.0h3.6M67.1,457.2v3.6M65.2,459.5h3.6M67.0,457.7v3.6M65.3,461.2h3.6M67.1,459.4v3.6M65.2,462.3h3.6M67.0,460.5v3.6M66.1,462.8h3.6M67.9,461.0v3.6M66.3,464.3h3.6M68.1,462.5v3.6M66.7,465.2h3.6M68.5,463.4v3.6M67.0,466.6h3.6M68.8,464.8v3.6M66.6,467.0h3.6M68.4,465.2v3.6M67.6,469.0h3.6M69.4,467.2v3.6M67.5,469.5h3.6M69.3,467.7v3.6M68.1,470.5h3.6M69.9,468.7v3.6M68.2,471.5h3.6M70.0,469.7v3.6M68.5,472.8h3.6M70.3,471.0v3.6M68.7,473.7h3.6M70.5,471.9v3.6M69.5,474.4h3.6M71.3,472.6v3.6M69.6,476.2h3.6M71.4,474.4v3.6M69.7,476.7h3.6M71.5,474.9v3.6M70.5,477.8h3.6M72.3,476.0v3.6M70.2,479.0h3.6M72.0,477.2v3.6M71.0,479.7h3.6M72.8,477.9v3.6M71.0,481.0h3.6M72.8,479.2v3.6M71.8,482.2h3.6M73.6,480.4v3.6M72.2,482.9h3.6M74.0,481.1v3.6M72.0,484.5h3.6M73.8,482.7v3.6M72.9,485.3h3.6M74.7,483.5v3.6M72.5,486.0h3.6M74.3,484.2v3.6M73.2,487.2h3.6M75.0,485.4v3.6M73.8,488.9h3.6M75.6,487.1v3.6M73.5,489.4h3.6M75.3,487.6v3.6M74.4,490.8h3.6M76.2,489.0v3.6M74.7,491.5h3.6M76.5,489.7v3.6M74.4,492.5h3.6M76.2,490.7v3.6M75.3,493.6h3.6M77.1,491.8v3.6M75.2,494.8h3.6M77.0,493.0v3.6M75.6,495.8h3.6M77.4,494.0v3.6M76.4,496.6h3.6M78.2,494.8v3.6M75.8,498.5h3.6M77.6,496.7v3.6M77.0,499.6h3.6M78.8,497.8v3.6M76.8,500.6h3.6M78.6,498.8v3.6M77.7,500.9h3.6M79.5,499.1v3.6M77.8,502.6h3.6M79.6,500.8v3.6M78.0,503.3h3.6M79.8,501.5v3.6M78.0,504.2h3.6M79.8,502.4v3.6M78.3,504.9h3.6M80.1,503.1v3.6M79.0,506.2h3.6M80.8,504.4v3.6M79.6,507.0h3.6M81.4,505.2v3.6M80.1,508.7h3.6M81.9,506.9v3.6M80.5,509.9h3.6M82.3,508.1v3.6M81.0,510.6h3.6M82.8,508.8v3.6M80.6,511.7h3.6M82.4,509.9v3.6M81.2,512.3h3.6M83.0,510.5v3.6M82.2,513.4h3.6M84.0,511.6v3.6M82.5,514.8h3.6M84.3,513.0v3.6M83.3,515.2h3.6M85.1,513.4v3.6M83.5,516.6h3.6M85.3,514.8v3.6M84.4,517.4h3.6M86.2,515.6v3.6M84.9,517.8h3.6M86.7,516.0v3.6M85.7,519.3h3.6M87.5,517.5v3.6M85.9,520.2h3.6M87.7,518.4v3.6M87.3,521.1h3.6M89.1,519.3v3.6M87.8,521.2h3.6M89.6,519.4v3.6M88.2,523.0h3.6M90.0,521.2v3.6M88.1,523.4h3.6M89.9,521.6v3.6M88.9,524.6h3.6M90.7,522.8v3.6M89.6,525.5h3.6M91.4,523.7v3.6M90.5,526.0h3.6M92.3,524.2v3.6M90.3,527.1h3.6M92.1,525.3v3.6M91.0,527.9h3.6M92.8,526.1v3.6M92.4,529.6h3.6M94.2,527.8v3.6M92.1,530.2h3.6M93.9,528.4v3.6M92.9,531.0h3.6M94.7,529.2v3.6M93.4,532.3h3.6M95.2,530.5v3.6M94.0,533.1h3.6M95.8,531.3v3.6M94.0,534.1h3.6M95.8,532.3v3.6M94.3,535.3h3.6M96.1,533.5v3.6M95.2,536.2h3.6M97.0,534.4v3.6M94.9,537.1h3.6M96.7,535.3v3.6M95.4,538.6h3.6M97.2,536.8v3.6M96.1,539.4h3.6M97.9,537.6v3.6M96.3,540.7h3.6M98.1,538.9v3.6M96.1,541.6h3.6M97.9,539.8v3.6M96.2,543.0h3.6M98.0,541.2v3.6M96.2,544.1h3.6M98.0,542.3v3.6M96.4,544.7h3.6M98.2,542.9v3.6M96.5,546.3h3.6M98.3,544.5v3.6M96.2,547.1h3.6M98.0,545.3v3.6M96.6,548.7h3.6M98.4,546.9v3.6M97.4,549.2h3.6M99.2,547.4v3.6M97.8,550.7h3.6M99.6,548.9v3.6M97.6,551.4h3.6M99.4,549.6v3.6M97.9,552.7h3.6M99.7,550.9v3.6M99.0,553.7h3.6M100.8,551.9v3.6M99.7,554.4h3.6M101.5,552.6v3.6M100.4,555.1h3.6M102.2,553.3v3.6M101.3,555.6h3.6M103.1,553.8v3.6M102.7,556.8h3.6M104.5,555.0v3.6M102.9,558.8h3.6M104.7,557.0v3.6M104.0,560.0h3.6M105.8,558.2v3.6M105.9,561.0h3.6M107.7,559.2v3.6M108.4,563.2h3.6M110.2,561.4v3.6M109.8,565.6h3.6M111.6,563.8v3.6M112.3,566.7h3.6M114.1,564.9v3.6M114.7,568.9h3.6M116.5,567.1v3.6M115.6,571.3h3.6M117.4,569.5v3.6M116.3,572.2h3.6M118.1,570.4v3.6M118.8,574.3h3.6M120.6,572.5v3.6M120.5,575.1h3.6M122.3,573.3v3.6M122.4,575.8h3.6M124.2,574.0v3.6" stroke="#1f77b4" stroke-width="0.8" fill="none" opacity="0.75"/>
<path d="M126.74,576.73 H133.38 V576.73 H134.52 V579.57 H141.15 V582.64 H152.36 V589.64 H164.26 V594.01 H165.40 V597.73 H209.78 V597.73 H210.01 V607.80 H218.70 V607.80" stroke="#1f77b4" stroke-width="1.0" fill="none" opacity="0.7"/>
<path d="M122.42,574.54h3.60M124.22,572.74v3.60M127.00,575.63h3.60M128.80,573.83v3.60M159.03,594.01h3.60M160.83,592.21v3.60M172.75,597.73h3.60M174.55,595.93v3.60M186.47,597.73h3.60M188.28,595.93v3.60M191.05,597.73h3.60M192.85,595.93v3.60M215.07,607.80h3.60M216.87,606.00v3.60" stroke="#1f77b4" stroke-width="0.8" fill="none" opacity="0.7"/>
<path d="M55.6,399.5L55.8,400.7L56.1,401.8L56.3,403.0L56.6,404.2L56.8,405.3L57.1,406.5L57.3,407.6L57.6,408.8L57.8,410.0L58.1,411.1L58.3,412.3L58.6,413.5L58.8,414.6L59.0,415.7L59.3,416.8L59.5,417.9L59.7,419.0L59.9,420.0L60.2,421.1L60.4,422.3L60.6,423.4L60.9,424.5L61.1,425.7L61.3,426.9L61.6,428.2L61.8,429.5L62.1,430.9L62.3,432.3L62.6,433.8L62.8,435.2L63.1,436.6L63.3,438.0L63.5,439.4L63.8,440.7L64.0,442.0L64.3,443.3L64.6,444.9L65.0,446.5L65.3,448.0L65.7,449.5L66.0,451.0L66.4,452.4L66.7,453.8L67.0,455.2L67.4,456.5L67.7,457.9L68.1,459.2L68.4,460.5L68.8,461.9L69.1,463.1L69.4,464.4L69.8,465.7L70.1,466.9L70.5,468.1L70.8,469.3L71.2,470.5L71.5,471.7L71.8,472.9L72.2,474.0L72.5,475.2L72.9,476.4L73.2,477.5L73.6,478.7L73.9,479.9L74.2,481.0L74.6,482.2L74.9,483.3L75.3,484.4L75.6,485.5L76.0,486.6L76.3,487.6L76.6,488.6L77.4,490.6L78.2,492.6L78.9,494.6L79.7,496.5L80.5,498.3L81.2,500.1L82.0,501.8L82.7,503.5L83.5,505.2L84.3,506.8L85.0,508.4L85.8,510.0L86.7,511.9L87.7,513.8L88.6,515.7L89.5,517.5L90.5,519.3L91.4,521.1L92.3,522.8L93.3,524.5L94.2,526.1L95.1,527.7L96.1,529.3L97.0,530.8L98.0,532.3L99.0,533.9L100.0,535.4L101.0,536.9L102.0,538.4L103.0,539.8L103.9,541.2L104.9,542.5L105.9,543.8L106.9,545.0L107.9,546.1L108.9,547.2L109.6,547.9L110.4,548.7L111.1,549.3L111.9,550.0L112.6,550.6L113.4,551.2L114.1,551.8L114.8,552.4L115.6,553.0L116.3,553.6L117.1,554.2L117.8,554.8L119.1,556.0L120.4,557.1L121.7,558.2L123.0,559.3L124.3,560.5L125.6,561.6L126.9,562.7L128.2,563.9L129.5,565.0L130.8,566.1L132.1,567.3L133.4,568.4L133.9,568.9L134.5,569.4L135.0,569.9L135.6,570.4L136.1,571.0L136.7,571.5L137.2,572.0L137.8,572.5L138.4,573.0L138.9,573.4L139.5,573.9L140.0,574.3L140.6,574.8L141.2,575.2L141.8,575.6L142.4,576.1L143.0,576.5L143.6,576.9L144.1,577.3L144.7,577.7L145.3,578.0L145.9,578.3L146.5,578.6L147.1,578.9L148.1,579.4L149.2,579.8L150.2,580.2L151.3,580.5L152.3,580.9L153.4,581.2L154.4,581.5L155.5,581.8L156.5,582.1L157.6,582.3L158.6,582.6L159.7,582.9L160.8,583.1L161.9,583.4L162.9,583.6L164.0,583.8L165.1,584.0L166.2,584.2L167.3,584.4L168.4,584.7L169.5,584.9L170.5,585.1L171.6,585.3L172.7,585.5L173.8,585.7L174.9,585.9L176.0,586.1L177.1,586.3L178.2,586.5L179.4,586.7L180.5,586.9L181.6,587.2L182.7,587.4L183.8,587.6L184.9,587.8L186.0,588.1L187.1,588.4L188.2,588.6L189.2,588.8L190.3,589.0L191.4,589.3L192.5,589.5L193.6,589.8L194.7,590.1L195.8,590.5L196.9,590.9L197.9,591.5L199.0,592.0L199.3,592.2L199.5,592.5L199.8,592.9L200.0,593.2L200.3,593.7L200.5,594.1L200.8,594.6L201.0,595.0L201.3,595.5L201.5,595.8L201.8,596.2L202.0,596.4L202.4,596.7L202.8,597.0L203.1,597.3L203.5,597.5L203.9,597.7L204.3,597.9L204.7,598.1L205.0,598.3L205.4,598.4L205.8,598.6L206.2,598.8L206.6,599.0" stroke="#ff7f0e" stroke-width="0.9" fill="none" opacity="0.8"/>
<path d="M53.3,398.9h3.8M55.2,397.0v3.8M53.7,399.9h3.8M55.6,398.0v3.8M53.5,401.1h3.8M55.4,399.2v3.8M54.8,402.6h3.8M56.7,400.7v3.8M54.8,402.6h3.8M56.7,400.7v3.8M54.7,403.6h3.8M56.6,401.7v3.8M54.4,404.2h3.8M56.3,402.3v3.8M54.6,406.3h3.8M56.5,404.4v3.8M55.7,407.0h3.8M57.6,405.1v3.8M55.8,407.0h3.8M57.7,405.1v3.8M55.3,408.5h3.8M57.2,406.6v3.8M56.1,409.7h3.8M58.0,407.8v3.8M56.5,409.5h3.8M58.4,407.6v3.8M56.3,411.2h3.8M58.2,409.3v3.8M56.3,411.4h3.8M58.2,409.5v3.8M56.5,412.1h3.8M58.4,410.2v3.8M57.3,414.1h3.8M59.2,412.2v3.8M56.9,414.2h3.8M58.8,412.3v3.8M57.6,415.4h3.8M59.5,413.5v3.8M57.8,416.7h3.8M59.7,414.8v3.8M57.4,417.0h3.8M59.3,415.1v3.8M57.8,417.9h3.8M59.7,416.0v3.8M57.3,418.6h3.8M59.2,416.7v3.8M58.4,419.1h3.8M60.3,417.2v3.8M57.5,420.8h3.8M59.4,418.9v3.8M58.0,421.6h3.8M59.9,419.7v3.8M58.5,422.2h3.8M60.4,420.3v3.8M59.4,422.9h3.8M61.3,421.0v3.8M58.8,423.7h3.8M60.7,421.8v3.8M59.2,424.7h3.8M61.1,422.8v3.8M59.0,426.3h3.8M60.9,424.4v3.8M59.2,426.9h3.8M61.1,425.0v3.8M60.1,427.1h3.8M62.0,425.2v3.8M59.1,428.2h3.8M61.0,426.3v3.8M60.3,429.6h3.8M62.2,427.7v3.8M59.7,430.1h3.8M61.6,428.2v3.8M59.8,431.2h3.8M61.7,429.3v3.8M59.7,432.4h3.8M61.6,430.5v3.8M61.1,433.6h3.8M63.0,431.7v3.8M61.0,434.5h3.8M62.9,432.6v3.8M60.2,434.5h3.8M62.1,432.6v3.8M61.6,436.1h3.8M63.5,434.2v3.8M61.0,437.2h3.8M62.9,435.3v3.8M61.5,437.9h3.8M63.4,436.0v3.8M61.2,437.9h3.8M63.1,436.0v3.8M61.5,438.7h3.8M63.4,436.8v3.8M61.6,440.7h3.8M63.5,438.8v3.8M61.7,440.3h3.8M63.6,438.4v3.8M61.5,441.4h3.8M63.4,439.5v3.8M62.7,442.6h3.8M64.6,440.7v3.8M62.2,443.1h3.8M64.1,441.2v3.8M63.3,444.4h3.8M65.2,442.5v3.8M62.4,444.8h3.8M64.3,442.9v3.8M62.4,445.8h3.8M64.3,443.9v3.8M63.5,446.7h3.8M65.4,444.8v3.8M62.8,448.0h3.8M64.7,446.1v3.8M63.3,449.6h3.8M65.2,447.7v3.8M63.3,449.8h3.8M65.2,447.9v3.8M64.4,450.5h3.8M66.3,448.6v3.8M64.9,451.5h3.8M66.8,449.6v3.8M64.1,452.3h3.8M66.0,450.4v3.8M64.0,453.2h3.8M65.9,451.3v3.8M64.5,454.7h3.8M66.4,452.8v3.8M65.6,455.0h3.8M67.5,453.1v3.8M64.7,455.6h3.8M66.6,453.7v3.8M65.2,456.4h3.8M67.1,454.5v3.8M65.4,458.2h3.8M67.3,456.3v3.8M65.5,457.9h3.8M67.4,456.0v3.8M66.8,459.5h3.8M68.7,457.6v3.8M67.1,460.1h3.8M69.0,458.2v3.8M67.2,461.4h3.8M69.1,459.5v3.8M67.3,462.3h3.8M69.2,460.4v3.8M67.1,462.3h3.8M69.0,460.4v3.8M67.0,464.3h3.8M68.9,462.4v3.8M68.2,465.2h3.8M70.1,463.3v3.8M67.6,465.7h3.8M69.5,463.8v3.8M68.5,466.5h3.8M70.4,464.6v3.8M68.8,467.3h3.8M70.7,465.4v3.8M68.8,468.3h3.8M70.7,466.4v3.8M68.5,469.5h3.8M70.4,467.6v3.8M69.7,469.2h3.8M71.6,467.3v3.8M70.0,471.3h3.8M71.9,469.4v3.8M69.8,470.9h3.8M71.7,469.0v3.8M70.4,471.9h3.8M72.3,470.0v3.8M70.7,473.5h3.8M72.6,471.6v3.8M69.7,473.7h3.8M71.6,471.8v3.8M70.8,475.1h3.8M72.7,473.2v3.8M71.2,476.5h3.8M73.1,474.6v3.8M70.7,476.0h3.8M72.6,474.1v3.8M71.9,476.9h3.8M73.8,475.0v3.8M72.1,477.9h3.8M74.0,476.0v3.8M72.3,479.7h3.8M74.2,477.8v3.8M72.6,480.2h3.8M74.5,478.3v3.8M72.9,480.6h3.8M74.8,478.7v3.8M72.8,481.7h3.8M74.7,479.8v3.8M73.4,483.1h3.8M75.3,481.2v3.8M73.1,483.7h3.8M75.0,481.8v3.8M72.7,483.8h3.8M74.6,481.9v3.8M73.8,485.3h3.8M75.7,483.4v3.8M74.5,486.3h3.8M76.4,484.4v3.8M73.7,486.9h3.8M75.6,485.0v3.8M74.9,487.9h3.8M76.8,486.0v3.8M74.1,489.2h3.8M76.0,487.3v3.8M75.6,489.0h3.8M77.5,487.1v3.8M75.5,490.3h3.8M77.4,488.4v3.8M76.2,491.0h3.8M78.1,489.1v3.8M75.7,492.1h3.8M77.6,490.2v3.8M77.1,492.4h3.8M79.0,490.5v3.8M76.2,494.0h3.8M78.1,492.1v3.8M77.6,494.7h3.8M79.5,492.8v3.8M77.3,496.0h3.8M79.2,494.1v3.8M78.1,495.7h3.8M80.0,493.8v3.8M78.6,496.7h3.8M80.5,494.8v3.8M78.1,498.4h3.8M80.0,496.5v3.8M78.7,499.2h3.8M80.6,497.3v3.8M78.7,500.1h3.8M80.6,498.2v3.8M79.0,500.0h3.8M80.9,498.1v3.8M79.8,501.0h3.8M81.7,499.1v3.8M80.3,502.7h3.8M82.2,500.8v3.8M80.9,502.2h3.8M82.8,500.3v3.8M80.7,503.8h3.8M82.6,501.9v3.8M81.3,504.9h3.8M83.2,503.0v3.8M81.7,504.8h3.8M83.6,502.9v3.8M81.7,506.7h3.8M83.6,504.8v3.8M82.3,507.4h3.8M84.2,505.5v3.8M83.5,508.0h3.8M85.4,506.1v3.8M83.5,508.8h3.8M85.4,506.9v3.8M83.4,510.0h3.8M85.3,508.1v3.8M84.0,510.8h3.8M85.9,508.9v3.8M84.1,511.6h3.8M86.0,509.7v3.8M85.2,512.0h3.8M87.1,510.1v3.8M85.1,512.2h3.8M87.0,510.3v3.8M86.0,513.3h3.8M87.9,511.4v3.8M86.2,513.8h3.8M88.1,511.9v3.8M85.8,514.6h3.8M87.7,512.7v3.8M87.2,515.5h3.8M89.1,513.6v3.8M87.8,516.5h3.8M89.7,514.6v3.8M87.7,517.3h3.8M89.6,515.4v3.8M88.2,517.7h3.8M90.1,515.8v3.8M88.3,519.7h3.8M90.2,517.8v3.8M88.4,520.1h3.8M90.3,518.2v3.8M89.1,520.4h3.8M91.0,518.5v3.8M89.1,520.8h3.8M91.0,518.9v3.8M90.8,522.7h3.8M92.7,520.8v3.8M91.0,523.5h3.8M92.9,521.6v3.8M91.7,523.4h3.8M93.6,521.5v3.8M91.6,524.6h3.8M93.5,522.7v3.8M92.0,526.0h3.8M93.9,524.1v3.8M92.7,526.9h3.8M94.6,525.0v3.8M92.3,527.2h3.8M94.2,525.3v3.8M93.5,528.1h3.8M95.4,526.2v3.8M93.9,529.0h3.8M95.8,527.1v3.8M93.9,529.9h3.8M95.8,528.0v3.8M94.5,530.2h3.8M96.4,528.3v3.8M95.7,531.1h3.8M97.6,529.2v3.8M95.4,531.2h3.8M97.3,529.3v3.8M95.9,532.5h3.8M97.8,530.6v3.8M97.3,533.7h3.8M99.2,531.8v3.8M96.9,533.7h3.8M98.8,531.8v3.8M98.0,534.3h3.8M99.9,532.4v3.8M97.9,534.7h3.8M99.8,532.8v3.8M98.1,536.2h3.8M100.0,534.3v3.8M99.3,537.0h3.8M101.2,535.1v3.8M99.4,538.3h3.8M101.3,536.4v3.8M100.2,537.9h3.8M102.1,536.0v3.8M100.0,539.8h3.8M101.9,537.9v3.8M101.8,540.4h3.8M103.7,538.5v3.8M101.8,540.3h3.8M103.7,538.4v3.8M101.6,541.0h3.8M103.5,539.1v3.8M102.3,542.6h3.8M104.2,540.7v3.8M103.8,543.1h3.8M105.7,541.2v3.8M103.3,543.1h3.8M105.2,541.2v3.8M104.1,544.8h3.8M106.0,542.9v3.8M104.4,545.3h3.8M106.3,543.4v3.8M105.8,545.6h3.8M107.7,543.7v3.8M106.7,545.9h3.8M108.6,544.0v3.8M106.7,546.4h3.8M108.6,544.5v3.8M106.8,546.9h3.8M108.7,545.0v3.8M107.7,547.6h3.8M109.6,545.7v3.8M108.0,549.5h3.8M109.9,547.6v3.8M109.0,549.9h3.8M110.9,548.0v3.8M110.2,550.3h3.8M112.1,548.4v3.8M110.9,551.2h3.8M112.8,549.3v3.8M111.9,551.4h3.8M113.8,549.5v3.8M112.1,552.0h3.8M114.0,550.1v3.8M113.1,552.3h3.8M115.0,550.4v3.8M113.5,552.3h3.8M115.4,550.4v3.8M114.6,553.4h3.8M116.5,551.5v3.8M114.2,553.5h3.8M116.1,551.6v3.8M116.1,554.2h3.8M118.0,552.3v3.8M116.1,555.4h3.8M118.0,553.5v3.8M117.4,555.5h3.8M119.3,553.6v3.8M117.4,556.2h3.8M119.3,554.3v3.8M117.6,557.4h3.8M119.5,555.5v3.8M118.3,558.1h3.8M120.2,556.2v3.8M119.1,557.6h3.8M121.0,555.7v3.8M120.8,559.1h3.8M122.7,557.2v3.8M120.6,559.3h3.8M122.5,557.4v3.8M121.6,560.1h3.8M123.5,558.2v3.8M121.9,560.9h3.8M123.8,559.0v3.8M123.7,561.3h3.8M125.6,559.4v3.8M124.3,562.2h3.8M126.2,560.3v3.8M124.2,562.7h3.8M126.1,560.8v3.8M125.5,562.9h3.8M127.4,561.0v3.8M125.2,563.5h3.8M127.1,561.6v3.8M127.0,563.7h3.8M128.9,561.8v3.8M127.3,565.1h3.8M129.2,563.2v3.8M127.9,564.5h3.8M129.8,562.6v3.8M128.6,565.4h3.8M130.5,563.5v3.8M129.6,566.6h3.8M131.5,564.7v3.8M129.5,567.5h3.8M131.4,565.6v3.8M130.6,567.3h3.8M132.5,565.4v3.8M131.6,568.7h3.8M133.5,566.8v3.8M132.4,569.3h3.8M134.3,567.4v3.8M132.7,569.6h3.8M134.6,567.7v3.8M133.3,570.0h3.8M135.2,568.1v3.8M134.5,570.3h3.8M136.4,568.4v3.8M133.9,571.5h3.8M135.8,569.6v3.8M135.1,571.8h3.8M137.0,569.9v3.8M135.9,572.0h3.8M137.8,570.1v3.8M136.0,572.4h3.8M137.9,570.5v3.8M139.5,575.2h3.8M141.4,573.3v3.8M140.9,576.3h3.8M142.8,574.4v3.8M141.6,577.8h3.8M143.5,575.9v3.8M144.9,578.0h3.8M146.8,576.1v3.8M146.9,579.8h3.8M148.8,577.9v3.8M148.9,581.0h3.8M150.8,579.1v3.8M152.5,581.1h3.8M154.4,579.2v3.8M154.4,581.3h3.8M156.3,579.4v3.8M157.1,582.9h3.8M159.0,581.0v3.8M159.4,583.6h3.8M161.3,581.7v3.8M163.2,583.9h3.8M165.1,582.0v3.8M163.9,584.8h3.8M165.8,582.9v3.8M167.7,585.3h3.8M169.6,583.4v3.8M170.5,585.9h3.8M172.4,584.0v3.8M172.5,585.4h3.8M174.4,583.5v3.8M174.1,585.9h3.8M176.0,584.0v3.8M177.3,586.1h3.8M179.2,584.2v3.8M179.2,587.9h3.8M181.1,586.0v3.8M180.9,587.1h3.8M182.8,585.2v3.8M185.2,588.8h3.8M187.1,586.9v3.8M186.8,588.6h3.8M188.7,586.7v3.8M190.4,588.8h3.8M192.3,586.9v3.8M192.0,589.2h3.8M193.9,587.3v3.8M194.7,591.1h3.8M196.6,589.2v3.8M198.1,591.8h3.8M200.0,589.9v3.8M198.8,595.6h3.8M200.7,593.7v3.8M200.4,595.9h3.8M202.3,594.0v3.8M200.8,597.1h3.8M202.7,595.2v3.8M203.9,598.5h3.8M205.8,596.6v3.8" stroke="#ff7f0e" stroke-width="0.8" fill="none" opacity="0.8"/>
<path d="M206.57,599.05 H235.85 V599.05" stroke="#ff7f0e" stroke-width="1.0" fill="none" opacity="0.7"/>
<path d="M205.92,599.05h3.60M207.72,597.25v3.60M213.92,599.05h3.60M215.72,597.25v3.60M220.79,599.05h3.60M222.59,597.25v3.60M233.37,599.05h3.60M235.17,597.25v3.60" stroke="#ff7f0e" stroke-width="0.8" fill="none" opacity="0.7"/>
<path d="M55.6,399.5L55.8,400.7L56.0,401.8L56.2,403.0L56.4,404.2L56.6,405.4L56.9,406.5L57.1,407.7L57.3,408.9L57.5,410.0L57.7,411.2L57.9,412.4L58.1,413.5L58.3,414.6L58.5,415.8L58.7,416.9L59.0,418.0L59.2,419.1L59.4,420.2L59.6,421.3L59.8,422.4L60.0,423.5L60.2,424.6L60.4,425.7L60.6,426.9L60.9,428.2L61.1,429.6L61.4,431.0L61.6,432.4L61.9,433.8L62.1,435.2L62.4,436.6L62.6,438.0L62.9,439.4L63.1,440.7L63.4,442.0L63.6,443.3L63.9,444.8L64.3,446.4L64.6,447.9L64.9,449.5L65.2,450.9L65.6,452.4L65.9,453.8L66.2,455.2L66.5,456.6L66.8,457.9L67.2,459.2L67.5,460.5L67.8,461.9L68.2,463.2L68.5,464.5L68.9,465.7L69.2,467.0L69.6,468.2L69.9,469.4L70.2,470.5L70.6,471.7L70.9,472.9L71.3,474.0L71.6,475.2L71.9,476.2L72.2,477.3L72.5,478.3L72.8,479.3L73.1,480.3L73.4,481.3L73.7,482.3L74.1,483.2L74.4,484.2L74.7,485.2L75.0,486.1L75.3,487.0L76.0,489.1L76.6,491.2L77.3,493.2L78.0,495.3L78.7,497.3L79.4,499.3L80.1,501.2L80.8,503.1L81.4,505.0L82.1,506.7L82.8,508.4L83.5,510.0L84.4,512.0L85.4,514.0L86.3,515.9L87.2,517.7L88.2,519.5L89.1,521.2L90.0,522.8L91.0,524.4L91.9,526.0L92.8,527.6L93.8,529.2L94.7,530.8L95.6,532.3L96.5,533.7L97.3,535.2L98.2,536.7L99.1,538.1L100.0,539.5L100.9,540.9L101.7,542.3L102.6,543.6L103.5,544.8L104.4,546.0L105.2,547.2L106.4,548.7L107.6,550.1L108.8,551.5L110.0,552.9L111.1,554.2L112.3,555.5L113.5,556.7L114.7,557.9L115.9,559.1L117.1,560.2L118.2,561.3L119.4,562.3L120.6,563.3L121.7,564.2L122.9,565.1L124.1,566.0L125.2,566.8L126.4,567.6L127.6,568.4L128.7,569.2L129.9,570.0L131.0,570.8L132.2,571.6L133.4,572.4L134.5,573.1L135.5,573.9L136.6,574.7L137.7,575.5L138.8,576.4L139.9,577.2L141.0,577.9L142.1,578.6L143.2,579.3L144.2,579.9L145.3,580.4L146.4,580.9L147.5,581.3L148.6,581.6L149.7,581.9L150.8,582.2L151.9,582.4L153.0,582.7L154.2,582.9L155.3,583.1L156.4,583.4L157.5,583.6L158.6,583.9L159.7,584.2L160.8,584.5L161.9,584.8L162.9,585.2L164.0,585.5L165.1,585.9L166.2,586.3L167.3,586.6L168.4,587.0L169.5,587.3L170.5,587.6L171.6,587.9L172.7,588.1L173.8,588.3L174.9,588.5L176.0,588.6L177.1,588.8L178.2,588.9L179.4,589.0L180.5,589.1L181.6,589.3L182.7,589.4L183.8,589.6L184.9,589.8L186.0,590.1L186.6,590.3L187.3,590.5L187.9,590.8L188.6,591.1L189.2,591.5L189.9,591.9L190.5,592.3L191.2,592.6L191.8,593.0L192.5,593.4L193.1,593.7L193.8,594.0L194.3,594.2L194.9,594.5L195.4,594.7L196.0,594.9L196.5,595.1L197.1,595.3L197.6,595.5L198.2,595.7L198.7,595.9L199.3,596.1L199.8,596.3L200.4,596.4L201.5,596.7L202.6,597.0L203.7,597.2L204.8,597.4L205.9,597.6L207.0,597.8L208.1,598.0L209.2,598.2L210.3,598.4L211.5,598.6L212.6,598.8L213.7,599.0" stroke="#2ca02c" stroke-width="0.9" fill="none" opacity="0.75"/>
<path d="M53.9,399.8h3.8M55.8,397.9v3.8M54.3,400.9h3.8M56.2,399.0v3.8M54.3,401.7h3.8M56.2,399.8v3.8M53.5,401.8h3.8M55.4,399.9v3.8M54.9,402.9h3.8M56.8,401.0v3.8M55.0,402.9h3.8M56.9,401.0v3.8M54.5,403.9h3.8M56.4,402.0v3.8M54.7,405.1h3.8M56.6,403.2v3.8M54.1,405.4h3.8M56.0,403.5v3.8M54.7,407.2h3.8M56.6,405.3v3.8M55.5,406.9h3.8M57.4,405.0v3.8M55.7,407.7h3.8M57.6,405.8v3.8M55.6,408.4h3.8M57.5,406.5v3.8M54.8,410.3h3.8M56.7,408.4v3.8M55.3,410.1h3.8M57.2,408.2v3.8M56.5,411.8h3.8M58.4,409.9v3.8M55.7,412.7h3.8M57.6,410.8v3.8M56.2,413.1h3.8M58.1,411.2v3.8M55.8,414.3h3.8M57.7,412.4v3.8M56.7,415.1h3.8M58.6,413.2v3.8M57.1,415.0h3.8M59.0,413.1v3.8M56.5,415.6h3.8M58.4,413.7v3.8M56.3,416.2h3.8M58.2,414.3v3.8M56.7,417.7h3.8M58.6,415.8v3.8M56.4,418.6h3.8M58.3,416.7v3.8M57.1,418.9h3.8M59.0,417.0v3.8M57.9,419.9h3.8M59.8,418.0v3.8M57.3,420.7h3.8M59.2,418.8v3.8M58.0,420.9h3.8M59.9,419.0v3.8M58.5,421.7h3.8M60.4,419.8v3.8M58.4,423.6h3.8M60.3,421.7v3.8M57.5,424.3h3.8M59.4,422.4v3.8M58.1,424.8h3.8M60.0,422.9v3.8M57.8,424.8h3.8M59.7,422.9v3.8M58.2,426.9h3.8M60.1,425.0v3.8M58.3,427.4h3.8M60.2,425.5v3.8M59.5,428.4h3.8M61.4,426.5v3.8M58.8,428.4h3.8M60.7,426.5v3.8M59.2,429.8h3.8M61.1,427.9v3.8M58.8,430.5h3.8M60.7,428.6v3.8M59.9,431.5h3.8M61.8,429.6v3.8M59.0,432.4h3.8M60.9,430.5v3.8M59.2,432.3h3.8M61.1,430.4v3.8M60.0,433.9h3.8M61.9,432.0v3.8M59.8,434.7h3.8M61.7,432.8v3.8M60.2,434.7h3.8M62.1,432.8v3.8M60.0,435.3h3.8M61.9,433.4v3.8M59.9,436.0h3.8M61.8,434.1v3.8M60.8,438.0h3.8M62.7,436.1v3.8M60.2,437.4h3.8M62.1,435.5v3.8M61.5,438.9h3.8M63.4,437.0v3.8M60.9,439.3h3.8M62.8,437.4v3.8M61.3,440.9h3.8M63.2,439.0v3.8M61.2,441.1h3.8M63.1,439.2v3.8M60.8,442.6h3.8M62.7,440.7v3.8M61.0,442.8h3.8M62.9,440.9v3.8M62.2,443.0h3.8M64.1,441.1v3.8M62.3,445.0h3.8M64.2,443.1v3.8M62.3,445.5h3.8M64.2,443.6v3.8M61.7,445.8h3.8M63.6,443.9v3.8M61.9,447.2h3.8M63.8,445.3v3.8M62.3,447.4h3.8M64.2,445.5v3.8M63.4,448.8h3.8M65.3,446.9v3.8M63.6,449.0h3.8M65.5,447.1v3.8M63.1,450.2h3.8M65.0,448.3v3.8M63.2,450.3h3.8M65.1,448.4v3.8M63.3,450.9h3.8M65.2,449.0v3.8M63.4,452.9h3.8M65.3,451.0v3.8M64.4,453.1h3.8M66.3,451.2v3.8M64.0,453.5h3.8M65.9,451.6v3.8M63.6,454.2h3.8M65.5,452.3v3.8M64.7,455.8h3.8M66.6,453.9v3.8M64.3,456.5h3.8M66.2,454.6v3.8M65.1,457.1h3.8M67.0,455.2v3.8M65.1,458.0h3.8M67.0,456.1v3.8M64.9,458.7h3.8M66.8,456.8v3.8M64.9,459.2h3.8M66.8,457.3v3.8M65.8,460.2h3.8M67.7,458.3v3.8M65.4,461.4h3.8M67.3,459.5v3.8M66.1,461.6h3.8M68.0,459.7v3.8M65.4,462.3h3.8M67.3,460.4v3.8M65.9,463.3h3.8M67.8,461.4v3.8M66.4,464.3h3.8M68.3,462.4v3.8M66.9,465.0h3.8M68.8,463.1v3.8M66.7,465.6h3.8M68.6,463.7v3.8M67.4,466.6h3.8M69.3,464.7v3.8M67.1,467.4h3.8M69.0,465.5v3.8M68.0,467.9h3.8M69.9,466.0v3.8M68.4,469.1h3.8M70.3,467.2v3.8M68.0,469.3h3.8M69.9,467.4v3.8M67.7,470.5h3.8M69.6,468.6v3.8M69.0,470.7h3.8M70.9,468.8v3.8M68.9,471.8h3.8M70.8,469.9v3.8M69.2,471.8h3.8M71.1,469.9v3.8M69.5,473.2h3.8M71.4,471.3v3.8M69.5,473.7h3.8M71.4,471.8v3.8M69.7,475.0h3.8M71.6,473.1v3.8M70.0,475.7h3.8M71.9,473.8v3.8M69.3,475.7h3.8M71.2,473.8v3.8M70.1,477.1h3.8M72.0,475.2v3.8M70.1,477.9h3.8M72.0,476.0v3.8M70.9,477.8h3.8M72.8,475.9v3.8M70.9,478.8h3.8M72.8,476.9v3.8M70.5,479.4h3.8M72.4,477.5v3.8M71.1,480.3h3.8M73.0,478.4v3.8M71.2,480.8h3.8M73.1,478.9v3.8M71.8,482.1h3.8M73.7,480.2v3.8M72.2,483.1h3.8M74.1,481.2v3.8M72.0,484.3h3.8M73.9,482.4v3.8M71.9,484.4h3.8M73.8,482.5v3.8M72.5,485.2h3.8M74.4,483.3v3.8M72.5,486.5h3.8M74.4,484.6v3.8M73.1,486.2h3.8M75.0,484.3v3.8M73.7,487.0h3.8M75.6,485.1v3.8M73.9,488.1h3.8M75.8,486.2v3.8M74.2,489.7h3.8M76.1,487.8v3.8M74.8,489.8h3.8M76.7,487.9v3.8M75.0,490.8h3.8M76.9,488.9v3.8M74.6,490.9h3.8M76.5,489.0v3.8M75.2,492.2h3.8M77.1,490.3v3.8M76.0,493.6h3.8M77.9,491.7v3.8M75.7,493.5h3.8M77.6,491.6v3.8M76.4,493.7h3.8M78.3,491.8v3.8M75.5,495.3h3.8M77.4,493.4v3.8M76.5,495.4h3.8M78.4,493.5v3.8M76.8,497.2h3.8M78.7,495.3v3.8M76.7,497.4h3.8M78.6,495.5v3.8M76.7,497.9h3.8M78.6,496.0v3.8M78.0,498.8h3.8M79.9,496.9v3.8M78.3,500.3h3.8M80.2,498.4v3.8M78.0,500.1h3.8M79.9,498.2v3.8M78.8,501.2h3.8M80.7,499.3v3.8M78.3,501.7h3.8M80.2,499.8v3.8M79.4,502.7h3.8M81.3,500.8v3.8M78.7,503.5h3.8M80.6,501.6v3.8M78.7,504.4h3.8M80.6,502.5v3.8M79.5,504.7h3.8M81.4,502.8v3.8M80.2,506.2h3.8M82.1,504.3v3.8M79.5,506.5h3.8M81.4,504.6v3.8M80.1,507.8h3.8M82.0,505.9v3.8M81.1,507.6h3.8M83.0,505.7v3.8M80.7,508.2h3.8M82.6,506.3v3.8M82.0,509.1h3.8M83.9,507.2v3.8M81.8,510.1h3.8M83.7,508.2v3.8M82.2,511.0h3.8M84.1,509.1v3.8M82.7,511.1h3.8M84.6,509.2v3.8M83.0,512.1h3.8M84.9,510.2v3.8M83.1,512.8h3.8M85.0,510.9v3.8M83.1,513.8h3.8M85.0,511.9v3.8M83.7,514.3h3.8M85.6,512.4v3.8M84.4,515.4h3.8M86.3,513.5v3.8M83.8,515.6h3.8M85.7,513.7v3.8M84.7,517.2h3.8M86.6,515.3v3.8M85.7,517.4h3.8M87.6,515.5v3.8M84.9,518.5h3.8M86.8,516.6v3.8M85.8,518.9h3.8M87.7,517.0v3.8M86.6,519.7h3.8M88.5,517.8v3.8M86.6,520.8h3.8M88.5,518.9v3.8M86.9,520.7h3.8M88.8,518.8v3.8M87.9,521.2h3.8M89.8,519.3v3.8M87.6,522.7h3.8M89.5,520.8v3.8M87.6,523.4h3.8M89.5,521.5v3.8M88.9,523.6h3.8M90.8,521.7v3.8M88.7,524.8h3.8M90.6,522.9v3.8M90.0,524.6h3.8M91.9,522.7v3.8M89.8,525.8h3.8M91.7,523.9v3.8M90.2,526.2h3.8M92.1,524.3v3.8M90.2,527.2h3.8M92.1,525.3v3.8M91.5,527.2h3.8M93.4,525.3v3.8M91.1,528.9h3.8M93.0,527.0v3.8M92.3,529.4h3.8M94.2,527.5v3.8M91.6,530.2h3.8M93.5,528.3v3.8M93.4,531.3h3.8M95.3,529.4v3.8M93.4,530.6h3.8M95.3,528.7v3.8M94.0,531.5h3.8M95.9,529.6v3.8M94.1,533.3h3.8M96.0,531.4v3.8M94.6,532.8h3.8M96.5,530.9v3.8M94.4,534.6h3.8M96.3,532.7v3.8M94.6,534.8h3.8M96.5,532.9v3.8M95.4,534.9h3.8M97.3,533.0v3.8M96.1,535.4h3.8M98.0,533.5v3.8M95.8,536.6h3.8M97.7,534.7v3.8M96.2,536.8h3.8M98.1,534.9v3.8M97.3,538.5h3.8M99.2,536.6v3.8M98.2,538.3h3.8M100.1,536.4v3.8M97.9,539.2h3.8M99.8,537.3v3.8M98.6,540.1h3.8M100.5,538.2v3.8M99.5,540.7h3.8M101.4,538.8v3.8M98.7,541.8h3.8M100.6,539.9v3.8M99.3,542.4h3.8M101.2,540.5v3.8M100.2,543.4h3.8M102.1,541.5v3.8M100.7,543.7h3.8M102.6,541.8v3.8M100.8,544.2h3.8M102.7,542.3v3.8M101.2,545.2h3.8M103.1,543.3v3.8M102.1,545.0h3.8M104.0,543.1v3.8M102.1,545.9h3.8M104.0,544.0v3.8M103.3,546.3h3.8M105.2,544.4v3.8M103.8,547.6h3.8M105.7,545.7v3.8M103.4,548.2h3.8M105.3,546.3v3.8M103.9,548.1h3.8M105.8,546.2v3.8M105.1,548.9h3.8M107.0,547.0v3.8M106.0,549.8h3.8M107.9,547.9v3.8M105.8,550.9h3.8M107.7,549.0v3.8M105.9,551.4h3.8M107.8,549.5v3.8M106.4,551.2h3.8M108.3,549.3v3.8M108.2,552.6h3.8M110.1,550.7v3.8M107.7,552.4h3.8M109.6,550.5v3.8M109.3,553.7h3.8M111.2,551.8v3.8M109.6,553.6h3.8M111.5,551.7v3.8M109.9,554.5h3.8M111.8,552.6v3.8M109.9,555.0h3.8M111.8,553.1v3.8M111.0,555.7h3.8M112.9,553.8v3.8M111.2,555.9h3.8M113.1,554.0v3.8M112.4,557.2h3.8M114.3,555.3v3.8M112.9,557.5h3.8M114.8,555.6v3.8M113.5,558.2h3.8M115.4,556.3v3.8M113.7,558.8h3.8M115.6,556.9v3.8M114.5,559.1h3.8M116.4,557.2v3.8M114.2,559.2h3.8M116.1,557.3v3.8M114.9,559.7h3.8M116.8,557.8v3.8M116.5,560.9h3.8M118.4,559.0v3.8M116.9,560.7h3.8M118.8,558.8v3.8M117.1,562.5h3.8M119.0,560.6v3.8M117.9,562.4h3.8M119.8,560.5v3.8M118.3,562.4h3.8M120.2,560.5v3.8M118.5,563.0h3.8M120.4,561.1v3.8M119.4,563.8h3.8M121.3,561.9v3.8M120.8,564.0h3.8M122.7,562.1v3.8M120.5,564.7h3.8M122.4,562.8v3.8M121.0,565.2h3.8M122.9,563.3v3.8M121.8,565.9h3.8M123.7,564.0v3.8M122.1,567.0h3.8M124.0,565.1v3.8M123.3,567.5h3.8M125.2,565.6v3.8M124.4,567.6h3.8M126.3,565.7v3.8M124.7,568.4h3.8M126.6,566.5v3.8M124.9,568.5h3.8M126.8,566.6v3.8M125.8,568.9h3.8M127.7,567.0v3.8M127.1,568.7h3.8M129.0,566.8v3.8M127.0,568.9h3.8M128.9,567.0v3.8M127.7,569.5h3.8M129.6,567.6v3.8M128.6,571.2h3.8M130.5,569.3v3.8M129.2,570.7h3.8M131.1,568.8v3.8M130.0,571.1h3.8M131.9,569.2v3.8M131.0,572.1h3.8M132.9,570.2v3.8M130.9,571.9h3.8M132.8,570.0v3.8M132.3,573.4h3.8M134.2,571.5v3.8M134.0,574.9h3.8M135.9,573.0v3.8M134.3,575.3h3.8M136.2,573.4v3.8M135.9,576.2h3.8M137.8,574.3v3.8M139.2,577.8h3.8M141.1,575.9v3.8M139.7,579.3h3.8M141.6,577.4v3.8M142.8,579.2h3.8M144.7,577.3v3.8M143.0,580.4h3.8M144.9,578.5v3.8M144.5,580.9h3.8M146.4,579.0v3.8M145.9,580.9h3.8M147.8,579.0v3.8M149.2,582.3h3.8M151.1,580.4v3.8M151.6,582.2h3.8M153.5,580.3v3.8M152.8,583.2h3.8M154.7,581.3v3.8M156.5,584.3h3.8M158.4,582.4v3.8M157.2,584.3h3.8M159.1,582.4v3.8M160.1,584.6h3.8M162.0,582.7v3.8M162.7,586.2h3.8M164.6,584.3v3.8M163.9,586.6h3.8M165.8,584.7v3.8M165.0,586.4h3.8M166.9,584.5v3.8M167.1,587.5h3.8M169.0,585.6v3.8M168.0,587.0h3.8M169.9,585.1v3.8M169.5,587.8h3.8M171.4,585.9v3.8M172.0,587.8h3.8M173.9,585.9v3.8M174.4,588.3h3.8M176.3,586.4v3.8M176.6,588.4h3.8M178.5,586.5v3.8M178.5,589.5h3.8M180.4,587.6v3.8M181.6,589.7h3.8M183.5,587.8v3.8M183.9,589.9h3.8M185.8,588.0v3.8M186.7,591.7h3.8M188.6,589.8v3.8M189.1,592.0h3.8M191.0,590.1v3.8M191.2,593.3h3.8M193.1,591.4v3.8M192.0,593.9h3.8M193.9,592.0v3.8M194.6,594.6h3.8M196.5,592.7v3.8M197.6,595.5h3.8M199.5,593.6v3.8M198.2,596.3h3.8M200.1,594.4v3.8M202.2,597.3h3.8M204.1,595.4v3.8M203.1,597.3h3.8M205.0,595.4v3.8M204.3,597.9h3.8M206.2,596.0v3.8M208.1,597.8h3.8M210.0,595.9v3.8M209.6,599.0h3.8M211.5,597.1v3.8" stroke="#2ca02c" stroke-width="0.8" fill="none" opacity="0.75"/>
<path d="M213.67,599.05 H273.37 V599.05" stroke="#2ca02c" stroke-width="1.0" fill="none" opacity="0.6"/>
<path d="M213.92,599.05h3.60M215.72,597.25v3.60M223.07,599.05h3.60M224.88,597.25v3.60M232.22,599.05h3.60M234.03,597.25v3.60M269.97,599.05h3.60M271.77,597.25v3.60" stroke="#2ca02c" stroke-width="0.8" fill="none" opacity="0.6"/>
<path d="M44.6,399.5H282.5V618.3" fill="none" stroke="#a4a4a4" stroke-width="1.0"/>
<path d="M44.6,399.5V618.3" fill="none" stroke="#a4a4a4" stroke-width="1.0"/>
<line x1="44.6" y1="618.3" x2="282.5" y2="618.3" stroke="#c4c4c4" stroke-width="1.6"/>
<line x1="55.60" y1="618.30" x2="55.60" y2="619.60" stroke="#333" stroke-width="0.7"/>
<text x="55.60" y="624.30" font-size="5.0" text-anchor="middle" fill="#000" font-family='"Liberation Serif", serif' >0</text>
<text x="55.80" y="624.30" font-size="5.0" text-anchor="middle" fill="#000" opacity="0.55" font-family='"Liberation Serif", serif' >0</text>
<line x1="101.35" y1="618.30" x2="101.35" y2="619.60" stroke="#333" stroke-width="0.7"/>
<text x="101.35" y="624.30" font-size="5.0" text-anchor="middle" fill="#000" font-family='"Liberation Serif", serif' >20</text>
<text x="101.55" y="624.30" font-size="5.0" text-anchor="middle" fill="#000" opacity="0.55" font-family='"Liberation Serif", serif' >20</text>
<line x1="147.10" y1="618.30" x2="147.10" y2="619.60" stroke="#333" stroke-width="0.7"/>
<text x="147.10" y="624.30" font-size="5.0" text-anchor="middle" fill="#000" font-family='"Liberation Serif", serif' >40</text>
<text x="147.30" y="624.30" font-size="5.0" text-anchor="middle" fill="#000" opacity="0.55" font-family='"Liberation Serif", serif' >40</text>
<line x1="192.85" y1="618.30" x2="192.85" y2="619.60" stroke="#333" stroke-width="0.7"/>
<text x="192.85" y="624.30" font-size="5.0" text-anchor="middle" fill="#000" font-family='"Liberation Serif", serif' >60</text>
<text x="193.05" y="624.30" font-size="5.0" text-anchor="middle" fill="#000" opacity="0.55" font-family='"Liberation Serif", serif' >60</text>
<line x1="238.60" y1="618.30" x2="238.60" y2="619.60" stroke="#333" stroke-width="0.7"/>
<text x="238.60" y="624.30" font-size="5.0" text-anchor="middle" fill="#000" font-family='"Liberation Serif", serif' >80</text>
<text x="238.80" y="624.30" font-size="5.0" text-anchor="middle" fill="#000" opacity="0.55" font-family='"Liberation Serif", serif' >80</text>
<line x1="43.30" y1="618.30" x2="44.60" y2="618.30" stroke="#333" stroke-width="0.7"/>
<text x="42.40" y="619.95" font-size="5.0" text-anchor="end" fill="#000" font-family='"Liberation Serif", serif' >0.0</text>
<text x="42.60" y="619.95" font-size="5.0" text-anchor="end" fill="#000" opacity="0.55" font-family='"Liberation Serif", serif' >0.0</text>
<line x1="43.30" y1="574.54" x2="44.60" y2="574.54" stroke="#333" stroke-width="0.7"/>
<text x="42.40" y="576.19" font-size="5.0" text-anchor="end" fill="#000" font-family='"Liberation Serif", serif' >0.2</text>
<text x="42.60" y="576.19" font-size="5.0" text-anchor="end" fill="#000" opacity="0.55" font-family='"Liberation Serif", serif' >0.2</text>
<line x1="43.30" y1="530.78" x2="44.60" y2="530.78" stroke="#333" stroke-width="0.7"/>
<text x="42.40" y="532.43" font-size="5.0" text-anchor="end" fill="#000" font-family='"Liberation Serif", serif' >0.4</text>
<text x="42.60" y="532.43" font-size="5.0" text-anchor="end" fill="#000" opacity="0.55" font-family='"Liberation Serif", serif' >0.4</text>
<line x1="43.30" y1="487.02" x2="44.60" y2="487.02" stroke="#333" stroke-width="0.7"/>
<text x="42.40" y="488.67" font-size="5.0" text-anchor="end" fill="#000" font-family='"Liberation Serif", serif' >0.6</text>
<text x="42.60" y="488.67" font-size="5.0" text-anchor="end" fill="#000" opacity="0.55" font-family='"Liberation Serif", serif' >0.6</text>
<line x1="43.30" y1="443.26" x2="44.60" y2="443.26" stroke="#333" stroke-width="0.7"/>
<text x="42.40" y="444.91" font-size="5.0" text-anchor="end" fill="#000" font-family='"Liberation Serif", serif' >0.8</text>
<text x="42.60" y="444.91" font-size="5.0" text-anchor="end" fill="#000" opacity="0.55" font-family='"Liberation Serif", serif' >0.8</text>
<line x1="43.30" y1="399.50" x2="44.60" y2="399.50" stroke="#333" stroke-width="0.7"/>
<text x="42.40" y="401.15" font-size="5.0" text-anchor="end" fill="#000" font-family='"Liberation Serif", serif' >1.0</text>
<text x="42.60" y="401.15" font-size="5.0" text-anchor="end" fill="#000" opacity="0.55" font-family='"Liberation Serif", serif' >1.0</text>
<text x="161.00" y="633.70" font-size="7.17" text-anchor="middle" font-weight="bold" fill="#000" font-family='"Liberation Serif", serif' >Time (Months)</text>
<text x="161.20" y="633.70" font-size="7.17" text-anchor="middle" font-weight="bold" fill="#000" opacity="0.55" font-family='"Liberation Serif", serif' >Time (Months)</text>
<text x="0.00" y="0.00" font-size="7.14" text-anchor="middle" font-weight="bold" fill="#000" font-family='"Liberation Serif", serif' transform="translate(23.9,515.3) rotate(-90)">Real-World Overall Survival Proportion</text>
<text x="0.00" y="-0.20" font-size="7.14" text-anchor="middle" font-weight="bold" fill="#000" opacity="0.55" font-family='"Liberation Serif", serif' transform="translate(23.9,515.3) rotate(-90)">Real-World Overall Survival Proportion</text>
<text x="1.50" y="643.10" font-size="7.0" text-anchor="start" font-weight="bold" fill="#000" font-family='"Liberation Serif", serif' >EOEGC</text>
<text x="1.70" y="643.10" font-size="7.0" text-anchor="start" font-weight="bold" fill="#000" opacity="0.55" font-family='"Liberation Serif", serif' >EOEGC</text>
<text x="65.00" y="643.10" font-size="7.1" text-anchor="end" fill="#000" font-family='"Liberation Serif", serif' >472</text>
<text x="65.20" y="643.10" font-size="7.1" text-anchor="end" fill="#000" opacity="0.55" font-family='"Liberation Serif", serif' >472</text>
<text x="108.20" y="643.10" font-size="7.1" text-anchor="end" fill="#000" font-family='"Liberation Serif", serif' >74</text>
<text x="108.40" y="643.10" font-size="7.1" text-anchor="end" fill="#000" opacity="0.55" font-family='"Liberation Serif", serif' >74</text>
<text x="150.10" y="643.10" font-size="7.1" text-anchor="end" fill="#000" font-family='"Liberation Serif", serif' >12</text>
<text x="150.30" y="643.10" font-size="7.1" text-anchor="end" fill="#000" opacity="0.55" font-family='"Liberation Serif", serif' >12</text>
<text x="198.70" y="643.10" font-size="7.1" text-anchor="end" fill="#000" font-family='"Liberation Serif", serif' >2</text>
<text x="198.90" y="643.10" font-size="7.1" text-anchor="end" fill="#000" opacity="0.55" font-family='"Liberation Serif", serif' >2</text>
<text x="241.00" y="643.10" font-size="7.1" text-anchor="end" fill="#000" font-family='"Liberation Serif", serif' >0</text>
<text x="241.20" y="643.10" font-size="7.1" text-anchor="end" fill="#000" opacity="0.55" font-family='"Liberation Serif", serif' >0</text>
<text x="1.50" y="656.30" font-size="7.0" text-anchor="start" font-weight="bold" fill="#000" font-family='"Liberation Serif", serif' >IOEGC</text>
<text x="1.70" y="656.30" font-size="7.0" text-anchor="start" font-weight="bold" fill="#000" opacity="0.55" font-family='"Liberation Serif", serif' >IOEGC</text>
<text x="65.00" y="656.30" font-size="7.1" text-anchor="end" fill="#000" font-family='"Liberation Serif", serif' >1432</text>
<text x="65.20" y="656.30" font-size="7.1" text-anchor="end" fill="#000" opacity="0.55" font-family='"Liberation Serif", serif' >1432</text>
<text x="108.20" y="656.30" font-size="7.1" text-anchor="end" fill="#000" font-family='"Liberation Serif", serif' >276</text>
<text x="108.40" y="656.30" font-size="7.1" text-anchor="end" fill="#000" opacity="0.55" font-family='"Liberation Serif", serif' >276</text>
<text x="150.10" y="656.30" font-size="7.1" text-anchor="end" fill="#000" font-family='"Liberation Serif", serif' >46</text>
<text x="150.30" y="656.30" font-size="7.1" text-anchor="end" fill="#000" opacity="0.55" font-family='"Liberation Serif", serif' >46</text>
<text x="198.70" y="656.30" font-size="7.1" text-anchor="end" fill="#000" font-family='"Liberation Serif", serif' >11</text>
<text x="198.90" y="656.30" font-size="7.1" text-anchor="end" fill="#000" opacity="0.55" font-family='"Liberation Serif", serif' >11</text>
<text x="241.00" y="656.30" font-size="7.1" text-anchor="end" fill="#000" font-family='"Liberation Serif", serif' >0</text>
<text x="241.20" y="656.30" font-size="7.1" text-anchor="end" fill="#000" opacity="0.55" font-family='"Liberation Serif", serif' >0</text>
<text x="1.50" y="669.70" font-size="7.0" text-anchor="start" font-weight="bold" fill="#000" font-family='"Liberation Serif", serif' >AOEGC</text>
<text x="1.70" y="669.70" font-size="7.0" text-anchor="start" font-weight="bold" fill="#000" opacity="0.55" font-family='"Liberation Serif", serif' >AOEGC</text>
<text x="65.00" y="669.70" font-size="7.1" text-anchor="end" fill="#000" font-family='"Liberation Serif", serif' >1965</text>
<text x="65.20" y="669.70" font-size="7.1" text-anchor="end" fill="#000" opacity="0.55" font-family='"Liberation Serif", serif' >1965</text>
<text x="108.20" y="669.70" font-size="7.1" text-anchor="end" fill="#000" font-family='"Liberation Serif", serif' >359</text>
<text x="108.40" y="669.70" font-size="7.1" text-anchor="end" fill="#000" opacity="0.55" font-family='"Liberation Serif", serif' >359</text>
<text x="150.10" y="669.70" font-size="7.1" text-anchor="end" fill="#000" font-family='"Liberation Serif", serif' >66</text>
<text x="150.30" y="669.70" font-size="7.1" text-anchor="end" fill="#000" opacity="0.55" font-family='"Liberation Serif", serif' >66</text>
<text x="198.70" y="669.70" font-size="7.1" text-anchor="end" fill="#000" font-family='"Liberation Serif", serif' >18</text>
<text x="198.90" y="669.70" font-size="7.1" text-anchor="end" fill="#000" opacity="0.55" font-family='"Liberation Serif", serif' >18</text>
<text x="241.00" y="669.70" font-size="7.1" text-anchor="end" fill="#000" font-family='"Liberation Serif", serif' >1</text>
<text x="241.20" y="669.70" font-size="7.1" text-anchor="end" fill="#000" opacity="0.55" font-family='"Liberation Serif", serif' >1</text>
<rect x="222.5" y="402.5" width="58" height="26.2" fill="#fff" stroke="#5e6890" stroke-width="1.1"/>
<line x1="229.8" y1="407.5" x2="248.2" y2="407.5" stroke="#b4c8dc" stroke-width="1.0"/>
<text x="276.30" y="409.90" font-size="7.0" text-anchor="end" fill="#000" font-family='"Liberation Serif", serif' >EOEGC</text>
<text x="276.50" y="409.90" font-size="7.0" text-anchor="end" fill="#000" opacity="0.55" font-family='"Liberation Serif", serif' >EOEGC</text>
<line x1="229.8" y1="416.0" x2="248.2" y2="416.0" stroke="#f6c8b0" stroke-width="1.6"/>
<text x="276.30" y="418.40" font-size="7.0" text-anchor="end" fill="#000" font-family='"Liberation Serif", serif' >IOEGC</text>
<text x="276.50" y="418.40" font-size="7.0" text-anchor="end" fill="#000" opacity="0.55" font-family='"Liberation Serif", serif' >IOEGC</text>
<line x1="229.8" y1="424.6" x2="248.2" y2="424.6" stroke="#8ccc7c" stroke-width="1.0"/>
<text x="276.30" y="427.00" font-size="7.0" text-anchor="end" fill="#000" font-family='"Liberation Serif", serif' >AOEGC</text>
<text x="276.50" y="427.00" font-size="7.0" text-anchor="end" fill="#000" opacity="0.55" font-family='"Liberation Serif", serif' >AOEGC</text>
</g>
</svg>
</body></html>
